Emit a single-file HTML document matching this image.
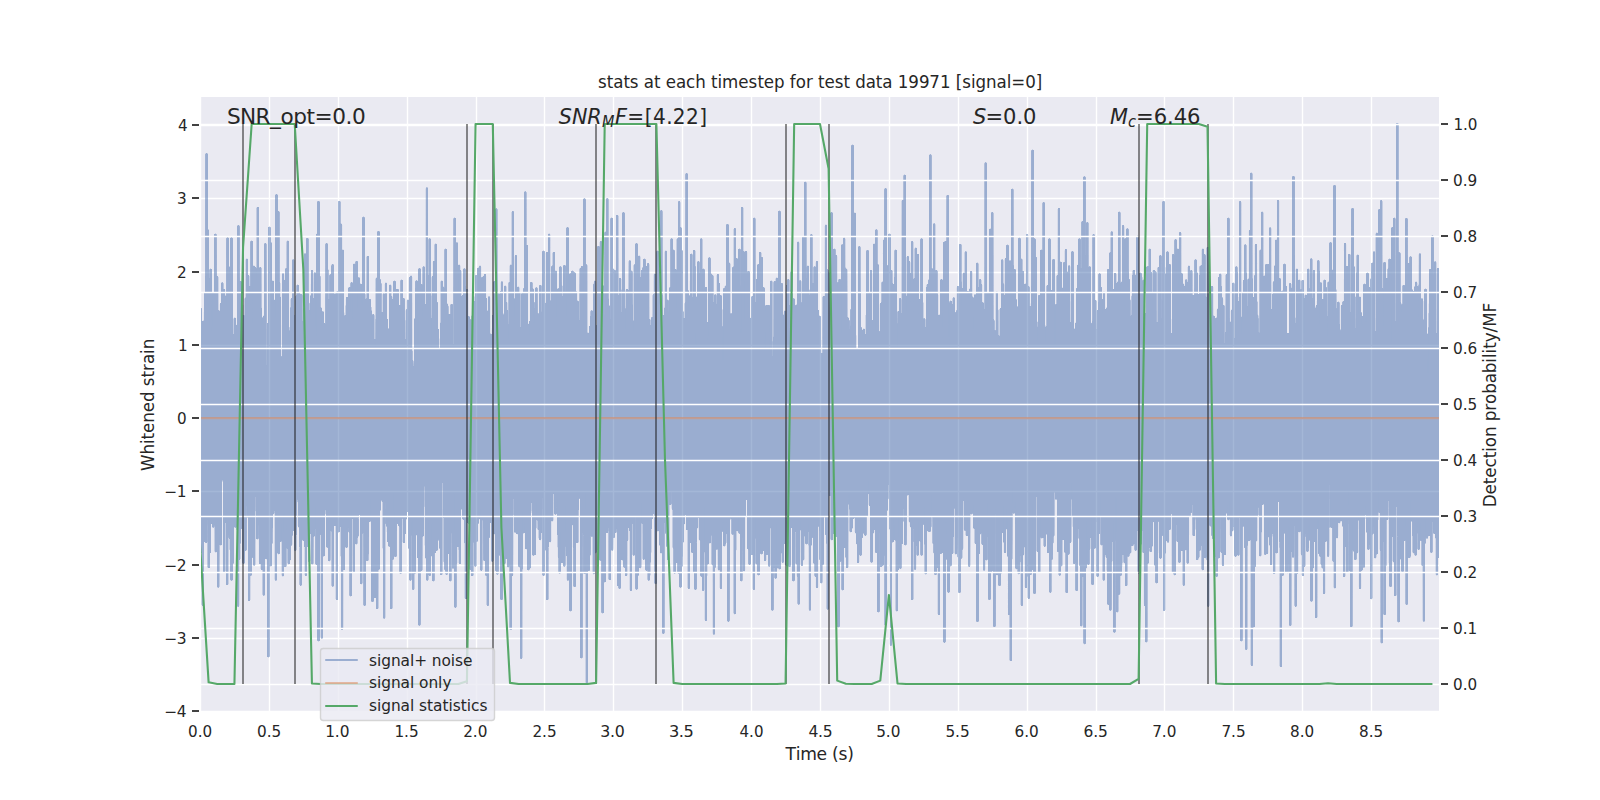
<!DOCTYPE html>
<html lang="en"><head><meta charset="utf-8"><title>stats at each timestep</title>
<style>html,body{margin:0;padding:0;background:#fff;overflow:hidden}svg{display:block}text{font-family:"DejaVu Sans", "Liberation Sans", sans-serif;fill:#262626;white-space:pre}</style></head><body>
<svg width="1600" height="800" viewBox="0 0 1600 800">
<rect width="1600" height="800" fill="#fff"/>
<rect x="200" y="96" width="1240" height="616" fill="#eaeaf2"/>
<clipPath id="c"><rect x="200" y="96" width="1240" height="616"/></clipPath>
<path d="M200.5 96V712M269.5 96V712M338.5 96V712M407.5 96V712M476.5 96V712M544.5 96V712M613.5 96V712M682.5 96V712M751.5 96V712M820.5 96V712M889.5 96V712M958.5 96V712M1027.5 96V712M1096.5 96V712M1164.5 96V712M1233.5 96V712M1302.5 96V712M1371.5 96V712M200 711.5H1440M200 638.5H1440M200 565.5H1440M200 491.5H1440M200 418.5H1440M200 345.5H1440M200 272.5H1440M200 198.5H1440M200 125.5H1440" stroke="#fff" stroke-width="1.389" fill="none" clip-path="url(#c)"/>
<g clip-path="url(#c)">
<filter id="f" filterUnits="userSpaceOnUse" x="198" y="94" width="1244" height="620" color-interpolation-filters="sRGB"><feComponentTransfer><feFuncA type="linear" slope="2" intercept="0"/></feComponentTransfer></filter><g opacity="0.5"><path filter="url(#f)" d="M200.00 415.7l.07-92.2l.06 9.4l.07 120.7l.07-14.8l.07 16l.06-76.3l.07 43.5l.07-55.9l.07 180.6l.06-237.6l.07 115.7l.07-54l.06 56.8l.07 16.9l.07-58.6l.07-25.2l.06 71.5l.07-3.5l.07-58.3l.07 108.3l.06 44.8l.07-132.9l.07 74.2l.06 86.9l.07-76.9l.07-24.2l.07 50.5l.06 20.9l.07-106.4l.07-59.9l.07 78.6l.06 35.5l.07-78.5l.07-23.1l.06 70.8l.07-58.8l.07-34.7l.07 87l.06 42.2l.07-80.8l.07 7l.07 203.8l.06-97.2l.07-43.4l.07 12.3l.06 62.4l.07-129.5l.07-27.9l.07 88.1l.06-147.8l.07 39.2l.07 13.5l.07 15.7l.06-38.5l.07 159.2l.07-135.4l.06 .8l.07 164.9l.07-147.1l.07 41.5l.06-71.8l.07 85l.07-29.3l.07-25.2l.06 84.9l.07-102.7l.07 49l.06-41.6l.07 70.6l.07-111.9l.07 33.5l.06 54.5l.07-56.4l.07-43.7l.07-37l.06 234.2l.07-171l.07 29.1l.06 38.9l.07 63.6l.07-157.6l.07 175.3l.06-127.3l.07-51.1l.07 201.9l.07-90.2l.06 70l.07-108.1l.07-88.4l.06-35.4l.07 264.5l.07-83.7l.07-89l.06-60.9l.07 80.6l.07 81.2l.07-72.6l.06-243.2l.07 278.1l.07 36.9l.06-78l.07 5.5l.07 27.9l.07 8.9l.06 74l.07-55.6l.07-117.8l.07 97.3l.06 86.9l.07-193.1l.07 56l.06-109.8l.07 142.4l.07 36.4l.07 68.6l.06-192.8l.07-95.5l.07 244.7l.07-12.1l.06-86.5l.07 99.3l.07-39l.06 5.5l.07-37.7l.07-62.8l.07 74.7l.06-62.4l.07 93.1l.07-52l.07 171.6l.06-47.9l.07-156.3l.07 96.5l.06-81.5l.07 2.7l.07-54.3l.07 35.5l.06-14.3l.07 78.6l.07 40.8l.07 2.3l.06-16.9l.07 44.6l.07-40.5l.06-31.7l.07-23.9l.07 41.1l.07 110.3l.06-128.9l.07-20.7l.07-59.8l.07 35.3l.06 85l.07 5.6l.07-190.3l.06 87.2l.07-74.8l.07-20.7l.07 205.1l.06-83.7l.07-5.1l.07-7l.07 1.2l.06 23.6l.07 2l.07 116.7l.06-93.1l.07 40.5l.07-60.8l.07 41.3l.06-75.5l.07-14l.07 35.5l.07-.5l.06 15.5l.07 37.7l.07-19.8l.06 23.1l.07-61.5l.07 26l.07-39.5l.06 133l.07-154.3l.07 114.9l.07-2l.06-37.4l.07 25.5l.07-59.5l.06 60.3l.07 34.4l.07-15.5l.07-150.2l.06 88.2l.07 84.4l.07-81.9l.07 108.9l.06-232.8l.07 230.6l.07-139.4l.06-4.5l.07 138.7l.07-121.8l.07-48.5l.06 36.9l.07 14.3l.07-47.8l.07 54.8l.06-12.2l.07 32.2l.07-52.8l.06 109.5l.07-120.6l.07 90.3l.07 40.7l.06-101.3l.07-92.4l.07 50.9l.07 102.8l.06-84.5l.07 80.2l.07-23l.06-14.8l.07 98.5l.07-105.6l.07 85l.06-23.2l.07 54.1l.07 2.9l.07-288.8l.06 125.8l.07-58.4l.07 117.7l.06-77.8l.07 94.4l.07 114.7l.07-143.5l.06-20.6l.07 60.8l.07-50.8l.07-18.8l.06 99.9l.07 42.7l.07-87.4l.06-.7l.07 9.8l.07-93.2l.07-51.4l.06 149.1l.07-77.6l.07-16.9l.07 15.9l.06-23.3l.07 100l.07-78.6l.06-89.4l.07 85l.07 99l.07-85.4l.06-45.6l.07 62.2l.07 64.9l.07-146.6l.06 194.4l.07-122l.07 36.1l.06 82l.07-168l.07 60.7l.07 105.4l.06-123.1l.07 210.3l.07-36l.07-84.5l.06-66.2l.07-25.9l.07 32.7l.06 8.4l.07-29.6l.07 47.4l.07-96.6l.06 71.6l.07-10.2l.07-17.1l.07 111.2l.06-24.2l.07-155.8l.07 83.1l.07 43l.06-43.5l.07 57.3l.07-52.9l.06 65.7l.07-65.5l.07 129l.07-202.4l.06 128.3l.07 74.3l.07-94.4l.07 10.2l.06-36.4l.07 90.3l.07-107.4l.06-10.7l.07 127.4l.07-112.5l.07 45.1l.06-35l.07 139.5l.07-46l.07-112.1l.06 34.7l.07-116.5l.07 162.8l.06-61.1l.07 31.6l.07 33.8l.07 9.6l.06-60.5l.07 .7l.07-61.8l.07 49.7l.06 61.7l.07-67.4l.07-41.8l.06-32l.07 58.1l.07 40.3l.07 51l.06-104.2l.07 55.4l.07-146.6l.07 69.7l.06 2.8l.07 49l.07 15.8l.06-26.5l.07-66.4l.07 52.9l.07 61.6l.06-113.1l.07 75.3l.07 18.8l.07 49.7l.06-15.7l.07 4.9l.07 5.3l.06-120.4l.07 31.4l.07 54.3l.07-87.7l.06 42.3l.07 4.6l.07 85.4l.07-43.3l.06-53.2l.07-75l.07-16.1l.06 28.9l.07 180l.07 72.1l.07-192.6l.06 37.8l.07-65.1l.07 75.8l.07-24.1l.06 119.7l.07-135.6l.07 62.2l.06-55.4l.07-7.6l.07 40.2l.07-30.2l.06 22.9l.07-53.7l.07 17.9l.07 73l.06 2.8l.07-162.2l.07 128.4l.06-76.1l.07 41.6l.07 66.7l.07 12.8l.06-60.5l.07-9.5l.07-24.9l.07 131l.06-46.8l.07-34.8l.07-118l.06 77.9l.07 2.9l.07 68.2l.07-67.6l.06 64.2l.07-59.6l.07-83.5l.07 84.3l.06-5.6l.07 4.3l.07 78.1l.06-90l.07 52.3l.07 151.4l.07-163.2l.06 13.1l.07-68.2l.07 55.4l.07 33.8l.06-216.3l.07 110.7l.07-19.6l.06 46.1l.07 49.9l.07 21.6l.07-9.8l.06-85.4l.07 58.2l.07 111l.07-100.5l.06 95.9l.07-110.1l.07 95.3l.06 4.2l.07-96.3l.07 13.7l.07 110.2l.06-167.7l.07-98.4l.07 253.6l.07-229.7l.06 174.5l.07-13.5l.07-21.9l.06 88.1l.07-191l.07 56.1l.07 86.6l.06-33l.07 86.2l.07-81.3l.07-89.4l.06 184.6l.07-89l.07-40.6l.06-62.7l.07-21l.07 125.7l.07 19.7l.06-82.8l.07 56.6l.07-3.7l.07-96.8l.06-42.4l.07 99.1l.07 31.9l.06-53.2l.07 171.2l.07-130.1l.07 72.5l.06-59.8l.07-64.1l.07 40.3l.07 23.3l.06-8.5l.07-54.6l.07-63.8l.06-66.1l.07 340.8l.07-211.6l.07 158l.06-172.8l.07-29.2l.07 78.4l.07 20.3l.06-59.2l.07 162l.07-113.7l.06-66.9l.07 159.9l.07-155.6l.07 98.2l.06 115.7l.07-137.4l.07 60.2l.07-89.8l.06 103.8l.07-154.7l.07 124.5l.06-76.2l.07 66.1l.07-18.8l.07-105.4l.06 67.9l.07 42.5l.07 59.6l.07-167.8l.06 29.7l.07 73.7l.07-39.6l.06 88.6l.07-1.1l.07-13.1l.07-82.1l.06 4l.07 72.5l.07-103.2l.07-3.3l.06 42.6l.07-60.3l.07 92.3l.06-12.1l.07-40.8l.07 35.3l.07-57.6l.06 142.4l.07-186.4l.07 153.6l.07-42.9l.06 84.4l.07-137.7l.07-46.8l.06 14.1l.07 16.5l.07 166.4l.07-54l.06-22.2l.07 32.9l.07-143.2l.07 65.3l.06 14.5l.07-35.6l.07 100.1l.06-3l.07-1.9l.07-95.9l.07 10.8l.06-16.4l.07-34.8l.07 169.5l.07-55.5l.06-49.3l.07 104.2l.07-56.9l.06-107.6l.07-6.1l.07 1.8l.07 71.9l.06 17.8l.07-89.9l.07 101l.07-49.4l.06-68.7l.07 117.8l.07 16.9l.06-41.8l.07-42.3l.07 8l.07 22.8l.06-27.9l.07 150l.07-51.5l.07-71.2l.06 76l.07 28.8l.07 94.1l.06-123.6l.07-51.5l.07 58.8l.07-87.5l.06-175.4l.07 202l.07-99l.07 68.6l.06 98l.07-60.1l.07 50.5l.06-121.7l.07 133.6l.07-172.2l.07 51.8l.06 180.9l.07-195.3l.07-53.5l.07 163.1l.06-123.6l.07 193.8l.07-142.7l.06 133.1l.07-149.2l.07 158l.07-112.8l.06-39.2l.07-38.1l.07 107.2l.07-99.3l.06 50.1l.07 30.2l.07-65.3l.06-71.5l.07 200.3l.07-125.2l.07 15.2l.06 123.1l.07-211.5l.07-23.3l.07 202l.06-187.2l.07 117l.07 15.3l.06-116l.07 88.8l.07-6.7l.07-83.1l.06 16l.07 27.4l.07 159.7l.07 11.9l.06-187.8l.07 142.9l.07-74.8l.06 85l.07-61.9l.07 76.2l.07-202.4l.06 184.3l.07-62.4l.07 4.6l.07-97l.06 182.7l.07-96.5l.07 12.3l.06-51.5l.07 4.1l.07 65.1l.07-49l.06 42.8l.07-58.7l.07 39.7l.07 38.5l.06-43.7l.07-27.2l.07 14.9l.06 44.6l.07-55.5l.07-80.5l.07 246.4l.06-23.3l.07-38.6l.07-74.7l.07 31.6l.06-66.8l.07-56.9l.07 99.6l.06 31.2l.07-8.5l.07-109.1l.07 58l.06 103.3l.07-168.2l.07 184.9l.07-186l.06-22.1l.07 154.2l.07 23.9l.06-135.9l.07 135l.07-136.2l.07 143.2l.06-139.4l.07 49.7l.07 36.6l.07 32.2l.06-78.8l.07 148.2l.07-112.5l.06 8.4l.07-74.8l.07 134.5l.07-206.5l.06 140.9l.07 57.5l.07-175.7l.07-19.2l.06 128.8l.07 48.9l.07-63.1l.06 49.1l.07-26.3l.07-130.2l.07 81.2l.06 17.2l.07-14l.07 28.1l.07-62.6l.06-2.6l.07-97.1l.07 151l.06-23l.07 1l.07 42.2l.07-155.5l.06 141.9l.07 77.1l.07-123.3l.07 109.5l.06-28l.07-57.3l.07 31.5l.06 44.3l.07-14.8l.07 3l.07-122.5l.06 131.4l.07-10.4l.07-181.7l.07 180.4l.06-142.2l.07 12.1l.07 102.2l.06 88.2l.07-130.3l.07-15.3l.07-20.5l.06 62.3l.07-78.8l.07-13l.07 170.2l.06-172.9l.07 281.4l.07-142.5l.06-17.2l.07-152.9l.07 62.2l.07 193l.06-130.3l.07 15.5l.07 2.5l.07 23.5l.06 65.6l.07-161.3l.07 125.4l.06-39.6l.07 16.1l.07 8.8l.07-102.4l.06 25l.07 73.6l.07 18.9l.07-33.1l.06-100l.07 223.9l.07-172.8l.06 39l.07-4.9l.07-33l.07 143.4l.06-240.5l.07 167l.07-15.2l.07-132.7l.06 77.6l.07 12.6l.07 43.5l.06 68l.07-121.5l.07-163.4l.07 238.9l.06-157.4l.07 173.2l.07-27.3l.07-86.3l.06 35.2l.07-48.1l.07 99.7l.06 20.2l.07 58.1l.07-46.1l.07-8.9l.06 24.4l.07-120.8l.07 67.7l.07 92.2l.06-23.6l.07-56.7l.07 29.3l.06-173.7l.07 5.2l.07 161.2l.07 22.5l.06-33l.07-148.2l.07 100.3l.07 34.6l.06-54.3l.07-85.8l.07 180.5l.06-70l.07 69.6l.07-247.5l.07 24.7l.06 60.3l.07 75.5l.07-55.2l.07 192.2l.06-165.5l.07 112.2l.07-.8l.06-43.2l.07-24.6l.07-64.4l.07-8.8l.06 30.5l.07 84l.07-112.7l.07 55.4l.06-90.5l.07 145.9l.07-26.1l.06-4.5l.07-182.9l.07 117.1l.07 46.1l.06-75l.07 26.5l.07 2.9l.07 67.8l.06-41l.07-8.7l.07 58.7l.06 33.2l.07-87.6l.07-57.7l.07 22.4l.06 10.6l.07-.7l.07 73.7l.07-56.7l.06-54.4l.07-63.7l.07 132.5l.06-14.7l.07-54.3l.07-44.7l.07 95.6l.06-3.5l.07 19l.07 90.2l.07-161.7l.06 95.4l.07 102l.07-109.6l.06 110.2l.07-50.3l.07-71.4l.07 65.3l.06-138.6l.07 176.7l.07-312l.07 170.8l.06-62.8l.07 37.4l.07 47.9l.07 10.6l.06 9.7l.07-83.4l.07 125l.06-82l.07 42.8l.07-23.3l.07 35l.06-166.9l.07 194.3l.07-63.4l.07-1.6l.06-23.1l.07 11l.07 1.8l.06-38.8l.07 173l.07-105.4l.07 86.5l.06-102l.07 98.5l.07-15.5l.07-62.6l.06-101.4l.07 56.9l.07 19.6l.06-77.1l.07 163.5l.07 79.8l.07-116.1l.06-10.2l.07-105.3l.07-62.9l.07 241.4l.06-127.8l.07-73.6l.07 50.5l.06 32.7l.07 88l.07-68l.07 38.6l.06-42.6l.07 104.9l.07-128.1l.07 40.5l.06-30.7l.07-2l.07 98.7l.06-165.3l.07 162.2l.07-132.4l.07 172.7l.06-136.8l.07 83l.07-60.1l.07 48.3l.06 106.6l.07-74.4l.07-82.3l.06-38.7l.07 145.7l.07 45.6l.07-87.2l.06-46l.07 29.4l.07 12.3l.07-115.6l.06-8l.07 15.6l.07 116.9l.06-70.6l.07 18.8l.07 85.9l.07-160.8l.06 55.3l.07 39.9l.07-132.4l.07 45.5l.06-6.4l.07-24l.07 33.6l.06 138l.07-61l.07-96.9l.07 247.2l.06-179.9l.07-25.1l.07-72.6l.07 9.9l.06 27.9l.07 75.5l.07-76.6l.06 26.9l.07 48l.07-105.7l.07 60l.06 87.1l.07-140.7l.07 105.9l.07-59.1l.06 147.4l.07-104.7l.07 64.5l.06 1.9l.07 65.3l.07-282.1l.07 159.6l.06-183.6l.07 96.1l.07 85.6l.07-44.2l.06 130.3l.07-108.2l.07 42.4l.06-63.6l.07 22.3l.07 109l.07 32.4l.06-58.2l.07-121.9l.07 21.7l.07 1.6l.06 168.6l.07-125.2l.07 28.1l.06-20.2l.07 18.8l.07-66.6l.07 36.6l.06 70.6l.07-21.2l.07-71.2l.07 4.9l.06 10.3l.07 13.5l.07-.4l.06-26.6l.07 77.7l.07-44.3l.07-61.5l.06-2.9l.07 50.4l.07-38.4l.07 23.7l.06 134.7l.07-132.7l.07 81l.06-136.9l.07 61.8l.07 117l.07-32.2l.06-183.2l.07 19.9l.07 312.6l.07-298.5l.06 50.4l.07-42.5l.07 61.6l.06 75.9l.07-13.5l.07 23.3l.07-113.9l.06-80.4l.07 103.4l.07-76.9l.07 109.9l.06 45.6l.07-179.9l.07-93l.06 83.7l.07 137.2l.07 49.9l.07 1l.06-65.8l.07-56.1l.07 5.1l.07 135.2l.06-113.4l.07 12.4l.07-5.1l.06 8l.07 12.4l.07-55.4l.07 32.5l.06-6.9l.07 63.8l.07-75.6l.07 35.9l.06 138.8l.07-180.9l.07-140.8l.06 110l.07 75.8l.07-4.6l.07-21.4l.06 15.5l.07 30.3l.07 93.7l.07-253l.06 238.1l.07-86.1l.07-69.3l.06 19.1l.07-13.1l.07-14l.07-34.4l.06 67.2l.07 73.3l.07 17.9l.07-86.3l.06 40.9l.07 12.8l.07-57.9l.06-81.5l.07 150.9l.07 .1l.07-99.9l.06 12.5l.07-98.3l.07 64.7l.07 55.5l.06 38.9l.07-37.9l.07 27.2l.06 82.8l.07-95.6l.07 12.8l.07 4l.06 13.7l.07-147.5l.07 69.1l.07-16.7l.06 107.5l.07 28.9l.07-51.5l.06-36.7l.07 41l.07-10.9l.07-80l.06 46.1l.07 89.3l.07-38.7l.07 16l.06-58.4l.07 93.8l.07-68.8l.06-60.6l.07 46.2l.07 65.6l.07-20.7l.06-51.6l.07-24.9l.07-24.7l.07 68.4l.06 81.6l.07-190.9l.07 78.5l.06-7.6l.07 7l.07 93.5l.07-50l.06-40.1l.07-54l.07 67.7l.07 165.5l.06-144.5l.07-41.3l.07-65.5l.06 40.5l.07 38.4l.07-88l.07 5.3l.06 28.2l.07-157.1l.07 163.8l.07 17.2l.06 78.3l.07-77.4l.07 11.7l.06 61.5l.07-23.8l.07 9.7l.07-34.3l.06 45.5l.07-67.4l.07 171.4l.07-113.9l.06 97.6l.07-83.6l.07-69.6l.06 34.5l.07 9.2l.07-12.5l.07-104.4l.06 186.2l.07-138.8l.07 167.1l.07-72.8l.06-43.9l.07 70.7l.07-73.6l.06-191.5l.07 288.9l.07-77.7l.07 20.8l.06 108.8l.07-122l.07 42.5l.07-148.7l.06 154.1l.07-179.2l.07 155.4l.06-172l.07 97.4l.07 5.9l.07-24.5l.06-6.7l.07-34.9l.07-22.9l.07 144.7l.06 62.9l.07-147.8l.07 87.8l.06-79.9l.07 26.6l.07 18.3l.07 32.4l.06 20.1l.07-24.8l.07-46.8l.07 149.9l.06-173.5l.07 152.2l.07-90.5l.06 33.2l.07-18.5l.07 47.2l.07 7.5l.06-64.2l.07 59.5l.07-64.8l.07 18.4l.06 16.7l.07-7.3l.07 36.3l.06-133.1l.07 76.4l.07-39.4l.07 126.2l.06-105l.07 84.6l.07-81.7l.07-27.5l.06-8.8l.07 3.5l.07 79.3l.06-110.2l.07 92.4l.07-55.5l.07-24.7l.06 70.2l.07 68.3l.07-132.1l.07 120.4l.06-15.7l.07 14.7l.07-135.3l.06 70l.07 145.1l.07-207.6l.07-93l.06 18.9l.07 164.8l.07-44.9l.07-30.1l.06-26.7l.07 59.8l.07 78.6l.06-128.7l.07 9.7l.07 135.4l.07-67l.06-44.3l.07 18.9l.07-36.6l.07-18.9l.06 17.7l.07 45.7l.07 85.9l.06-136.7l.07-54.7l.07-40l.07 139.9l.06 .1l.07-103.1l.07 .5l.07 76.5l.06-25.9l.07 102.6l.07-93.6l.06 98.1l.07-47.4l.07-1.5l.07 24.1l.06 114.3l.07-89.4l.07-80.7l.07 27.4l.06 23.2l.07-57.2l.07-18.1l.06-11.1l.07 115.2l.07-57.6l.07 24.7l.06 37.9l.07 43.1l.07-97.3l.07 53.9l.06-210.6l.07 156.7l.07 8.8l.06 12l.07-158.2l.07 196.1l.07-54.3l.06 42.3l.07-44.9l.07-6.1l.07-79l.06 175l.07-97.1l.07-113.9l.06 147.9l.07-23.1l.07 49.4l.07-142.7l.06 88.3l.07-89.1l.07 114.3l.07 96l.06-306l.07 172l.07-64.1l.06 6.2l.07 82.2l.07-46.6l.07 153l.06-202.7l.07 64.5l.07-62.5l.07 1.5l.06 94l.07-9.6l.07 50.5l.06 82.9l.07-134.6l.07-19.9l.07 86.2l.06-125.1l.07 42.7l.07-24.7l.07 85.1l.06 69.3l.07-177l.07 11.7l.06 50.1l.07 21.7l.07-10l.07-9.8l.06 25.9l.07 104.5l.07-194.5l.07 158.6l.06-80.9l.07-1.8l.07-39.5l.06 130.4l.07-196.3l.07 38.4l.07-8l.06-34.7l.07 143.7l.07-141.9l.07 63.1l.06-68.2l.07 10.4l.07 118.1l.06-31l.07-26.3l.07 145.6l.07-79.4l.06-2.1l.07-154.6l.07 155.5l.07-154.7l.06 108.4l.07 117.6l.07-32.6l.06-16.6l.07-110.7l.07-75.8l.07 155.9l.06 48.4l.07-158l.07 67.8l.07 90l.06-10.2l.07-48.1l.07-94.2l.06 87.1l.07-65.5l.07-69.5l.07 26.7l.06-11.7l.07 14.3l.07 197.6l.07-197l.06 62.2l.07 31.6l.07 66.8l.06-233.1l.07 234.9l.07-75.8l.07 80.3l.06-25l.07-13.9l.07-89.3l.07 66.9l.06-10.3l.07-102.5l.07 114.7l.06-64.1l.07 115.3l.07-96.5l.07 14.6l.06-3.9l.07 44.7l.07 39.2l.07-50.9l.06 11.8l.07-104.5l.07 8.7l.06 146.9l.07-127.4l.07 77.1l.07-65.3l.06 65.4l.07 68.9l.07-173.1l.07 39.2l.06 116.8l.07 46.3l.07-94.4l.06 45l.07-56.9l.07-68.5l.07-59l.06 127l.07-120.7l.07 14.9l.07 111.2l.06 85.8l.07-175.4l.07 16.9l.06 22l.07-79.1l.07 45l.07-63.1l.06 190.4l.07-86.4l.07 32.5l.07-140.4l.06 81.9l.07-62.9l.07 6.8l.07 158.5l.06-117.3l.07 87.3l.07-50.4l.06-27.2l.07 30.6l.07 79.9l.07-163.9l.06 69.7l.07 28.8l.07-50.4l.07 86.4l.06-168.5l.07 115.5l.07-9.8l.06 1.3l.07 87.6l.07 18.2l.07-96.9l.06-9.4l.07-69.2l.07 62.3l.07 107.2l.06-112.5l.07-20.9l.07-12.2l.06 46.5l.07 108.3l.07-165.9l.07 131.8l.06-90.9l.07 149.4l.07-162.7l.07 107.9l.06-130l.07-47.4l.07 41.4l.06 162.7l.07-15.6l.07-5.1l.07-106.7l.06 22.1l.07 13.1l.07-10.5l.07-18.8l.06-5l.07-72.2l.07 121.5l.06-18.1l.07 143.4l.07-37l.07-43.8l.06 34.3l.07-97.8l.07-57.1l.07 102.9l.06 3.5l.07 133.4l.07-176.2l.06 47.1l.07-67.6l.07 8.8l.07-3l.06-29.1l.07 51l.07-7.8l.07-112.4l.06 125.7l.07-58.7l.07 51.8l.06 35.7l.07-0l.07 25.3l.07-57.9l.06 42.9l.07-12.6l.07-114.3l.07 94.2l.06-88.7l.07 60.9l.07-41.5l.06 102.5l.07-52.7l.07-86l.07 38.7l.06-12.2l.07 53.6l.07-43.4l.07 140.6l.06-21.7l.07-89l.07-27.2l.06 85.6l.07-15.4l.07 12.1l.07-12l.06 70.5l.07 16.2l.07-94l.07 115.3l.06-52.7l.07-22.1l.07 27.3l.06-89.7l.07 47.7l.07-25.4l.07 64.8l.06-18.6l.07-87.2l.07 10.5l.07 57.7l.06-57.6l.07 12.3l.07 2l.06-99.8l.07 138.9l.07-57l.07-.1l.06 45.7l.07 64.8l.07-129.1l.07-117.6l.06 162.4l.07 1.9l.07 .2l.06 63.8l.07-82.5l.07 145.9l.07-123.5l.06 102.4l.07-79.6l.07-74.2l.07 67.9l.06 15.4l.07 120.1l.07-134.5l.06 9.7l.07-1l.07-132.5l.07 59l.06 12.8l.07 116.4l.07-125.9l.07 133.2l.06-123.3l.07 111.1l.07-213.5l.06 253.1l.07-202.2l.07 29.3l.07 179.4l.06-106.8l.07-117.2l.07 21.4l.07 194.5l.06-79.2l.07-219.4l.07 254.6l.06-26.6l.07-172.8l.07 118.9l.07 25l.06 7.6l.07-69.6l.07-1.8l.07 112.1l.06-166.1l.07 177.5l.07-56l.06-50.7l.07-87.6l.07 143.1l.07-44l.06-70.7l.07 47.2l.07-35l.07 6.2l.06 54.1l.07-25.8l.07-19.9l.06 65.8l.07-113.2l.07 249.4l.07-74.1l.06-164.5l.07 70.7l.07 74.5l.07-71.1l.06-49.3l.07 114.5l.07-92.3l.06 61.9l.07-.6l.07-3.1l.07-82.2l.06 155.3l.07-52.4l.07-71.7l.07 131l.06 25.1l.07-149.6l.07 39.5l.06 10.4l.07-20.2l.07 77.6l.07-53.4l.06 54.2l.07-38.2l.07 68.6l.07-70l.06-135.1l.07 104.9l.07-40.1l.06 75l.07-159.8l.07 114.8l.07 98.3l.06-140.5l.07 79.3l.07-67.9l.07 32.5l.06-8.6l.07 8.8l.07 72.5l.06 41.6l.07-256.1l.07 161l.07-29.3l.06 52.1l.07 108.5l.07-51.9l.07-185.9l.06 151.7l.07-28l.07 75.5l.06-65.4l.07-10.8l.07-10.4l.07-10.3l.06 38.8l.07-3.9l.07-39l.07-23.4l.06 32.3l.07-131.1l.07 107l.06 3.1l.07 56.9l.07-117.1l.07 142.7l.06 41.4l.07-44.7l.07-111l.07 122.8l.06-169.7l.07 91.7l.07 103.9l.06-89.6l.07-140l.07 184l.07 31.3l.06-126.8l.07-55.2l.07 20.1l.07 93.6l.06-35.9l.07-9.5l.07-59.1l.06-67.8l.07 157l.07-97.9l.07 114.3l.06-64.9l.07 105.9l.07-11.7l.07-82.1l.06 91.3l.07-124.1l.07 100l.06-43.7l.07 11.2l.07 17.4l.07-32.3l.06-66l.07 117.2l.07 40.5l.07-103.5l.06 33.1l.07 51.3l.07-83.4l.06 81l.07-55.7l.07-91.7l.07 226.9l.06-157.9l.07-13.8l.07 97.7l.07-103.1l.06 12l.07 48.8l.07-108.7l.06 175.4l.07-279.3l.07 204.5l.07 57.3l.06-61.2l.07 12l.07-81.3l.07 161l.06-90.5l.07 18.2l.07-141.2l.06 187.3l.07-151.5l.07 196l.07-146.1l.06 33.4l.07-35.7l.07 75.3l.07 86.9l.06-28.2l.07-329l.07 438.3l.06-156.5l.07-122.7l.07 114.5l.07-.3l.06 33l.07-166.3l.07-54.6l.07 203.7l.06-87.1l.07-47.9l.07-79.1l.06-.3l.07 137.8l.07-35.1l.07 148l.06-131.3l.07 14.7l.07-36.6l.07 90.9l.06-69.6l.07 71.2l.07-84.2l.06 31.2l.07 37.2l.07 72.3l.07-213.2l.06 37.5l.07 16l.07 107.5l.07-21.9l.06-140.6l.07 64.4l.07 111.1l.06-62.5l.07-6.7l.07 23.7l.07 51.8l.06-153.1l.07 46.3l.07 54.7l.07 95.7l.06-68.9l.07-40.4l.07-60.7l.06 86l.07-102.9l.07 67.3l.07 61.5l.06-38.1l.07 199.8l.07-109.9l.07-93.3l.06-33.7l.07-73.7l.07 97.6l.06 79.7l.07-98.8l.07-3.6l.07 40l.06-.2l.07 75.8l.07-138.4l.07 18.2l.06-84.6l.07 33.8l.07 16.2l.06-27.2l.07 107.3l.07 11.1l.07-27.5l.06 83.2l.07-76.9l.07 13l.07-69.6l.06 47.5l.07 131.7l.07-135l.06-96.5l.07 226.3l.07-75l.07-54.1l.06 93.4l.07-54.1l.07-42.2l.07 95.7l.06-112.4l.07-8l.07 116.6l.06-90.2l.07-73.3l.07 87.3l.07-42.6l.06-14.5l.07 61l.07-84.7l.07 41.5l.06 95.7l.07-105.4l.07-23.9l.06 4.1l.07 100.7l.07-76.8l.07-63.6l.06 79.3l.07-66.4l.07-8.2l.07 93l.06-48.6l.07 66.2l.07-94.7l.06 80.6l.07 31.9l.07-36.5l.07 3.2l.06-31.7l.07-5.8l.07 113.4l.07-35.8l.06-70.4l.07-150.5l.07 169.5l.06-47.1l.07-25l.07 83.1l.07-56.1l.06-42.6l.07 67.6l.07 146.8l.07-128.3l.06 3.1l.07-145l.07 276.3l.06-235.6l.07 118.3l.07-75.7l.07 85l.06-32.6l.07-66.7l.07 72.9l.07-67.6l.06 78.9l.07 22.8l.07-13.3l.06 19.7l.07-26.7l.07-103.2l.07 176.2l.06 34l.07-114.3l.07-118.6l.07 44.4l.06-19.3l.07 5l.07 137.7l.06-59.1l.07 12.1l.07 38.5l.07-84.8l.06 150.6l.07 35l.07-53.1l.07-105.7l.06-66.1l.07 139.4l.07-158l.06 205l.07-145.3l.07 29.1l.07-63.4l.06 186.2l.07-76.4l.07-5.2l.07-33.8l.06 14.7l.07-48.6l.07-37.8l.06 68.4l.07-47.3l.07-86.6l.07 209.7l.06 1.6l.07-108.4l.07-93.6l.07 117.2l.06-64.6l.07 97.4l.07-85.3l.06 107.2l.07-90.7l.07 19.3l.07-0l.06-68.5l.07 21.3l.07 115.8l.07-103.4l.06 179.7l.07-187.2l.07 80.4l.06-48.9l.07 1.4l.07 30.8l.07-53.7l.06-86.4l.07 97.2l.07 65.4l.07 10.5l.06-38.3l.07 12.6l.07 116.5l.06-265.4l.07 320.2l.07-57.8l.07-193.1l.06 77l.07-16.3l.07-35l.07 111.5l.06-43.9l.07-11.5l.07-23.8l.06-52.9l.07 122.5l.07-34.2l.07-46.3l.06 49.8l.07-4.7l.07-35.1l.07 87.1l.06-179.6l.07 174.5l.07-66.7l.06 25.5l.07 26.3l.07-86.5l.07-33.1l.06-30.9l.07 60.8l.07 71.8l.07-91.3l.06 160.6l.07-103.9l.07-32.8l.06-2.9l.07 119.5l.07 24.2l.07-219.7l.06 151.3l.07 79.2l.07-28.3l.07-87.1l.06-81l.07 82.4l.07-83.6l.07 67.9l.06-17l.07-35.5l.07 94.7l.06-46.6l.07 47.7l.07 17.4l.07-89.9l.06 102.9l.07-62.6l.07 60.7l.07-48.7l.06 30.6l.07-112.8l.07 70.8l.06 .3l.07-109.2l.07 75.4l.07 117.5l.06 108l.07-184.7l.07-30.8l.07-14.1l.06 26.3l.07 79.5l.07-182.6l.06 100.9l.07 39.5l.07 60l.07-107.1l.06 63.6l.07-2.8l.07-45.6l.07-.7l.06 72.4l.07-144.2l.07 157l.06 8.1l.07-99.1l.07 12.7l.07 4l.06 33.6l.07-31.5l.07 42.2l.07 75.6l.06-165.9l.07 121.8l.07-54.6l.06-66.7l.07 49.2l.07-91.2l.07 190.3l.06-45.3l.07-58.1l.07-88.2l.07-120.5l.06 314.6l.07-179.2l.07 143.8l.06-50.3l.07-75.1l.07 107.9l.07-15.1l.06-65.3l.07 48.2l.07-34.1l.07 85.8l.06-57.5l.07 67.7l.07 32.5l.06-230.5l.07 90.6l.07-32.2l.07 131.2l.06-65.3l.07 12.3l.07 84.6l.07-136.9l.06 88.3l.07-36.1l.07-207l.06 123.8l.07 16.3l.07 25.5l.07 90.6l.06-25.8l.07-122.5l.07 104.3l.07-37.9l.06 8.8l.07 87.7l.07-184l.06 244.2l.07-153.7l.07 21.7l.07 106.5l.06 98.6l.07-247.4l.07 32.6l.07 61.2l.06-88.9l.07-46.3l.07 62.2l.06-104.6l.07 60.2l.07 6.2l.07-43.2l.06 142.8l.07-213l.07 131.1l.07-.3l.06-68.9l.07 25.3l.07 67.5l.06-3.1l.07 34.3l.07 6.2l.07 6l.06-94.5l.07 95.6l.07-8.1l.07-35.9l.06 46.7l.07-19.8l.07 135.8l.06-178l.07 47.1l.07-34.8l.07-12.4l.06 154.5l.07-201.2l.07 60.2l.07-2l.06 136l.07-168.2l.07 14l.06 53.1l.07-42.9l.07-72.7l.07 112l.06 39.1l.07-156l.07 73.7l.07 30.5l.06 49.7l.07-73.5l.07 23.1l.06-30.7l.07 46.5l.07-42.8l.07 4.6l.06 56.1l.07-27.5l.07-39.5l.07-5l.06-13.8l.07-14l.07 37.4l.06-18.5l.07 62.6l.07-8.5l.07-90l.06 209.9l.07-163.1l.07-40.6l.07 195.7l.06-233l.07 227l.07-147.1l.06-87.4l.07 10l.07 166.9l.07 27.8l.06 9.9l.07-149.7l.07 77.4l.07-27.4l.06-17.4l.07-10.3l.07-8.6l.06 28.8l.07 120.5l.07-212.9l.07 124.5l.06-109l.07 128l.07-28.1l.07 22.7l.06-10.6l.07-24.1l.07 18l.06 57l.07-135.5l.07 99.5l.07-133.8l.06 104.2l.07 38.5l.07-79.5l.07-31.4l.06 126.1l.07-44.6l.07-119l.06 168.8l.07-10.3l.07-70.8l.07 96.1l.06-211.6l.07 243.2l.07-142.1l.07-19.5l.06 4.3l.07 14l.07 113l.06-132.9l.07-33.1l.07 128.8l.07-114.2l.06 91.1l.07-38.8l.07-12.3l.07 128.9l.06-205.4l.07 161.5l.07 120.4l.06-145.6l.07-66.2l.07 1.8l.07 28.6l.06-97l.07 78.7l.07 47.5l.07 56.9l.06-65.1l.07 .6l.07 40.4l.06-.8l.07-101.1l.07-31.5l.07-59.1l.06 52.3l.07 128.8l.07-67.1l.07 112.7l.06-145.7l.07 25.9l.07 67.4l.06-35.1l.07 10.1l.07 26.8l.07-136.2l.06 99.6l.07-65l.07-16.3l.07 62.4l.06 35.5l.07 78.5l.07-77.4l.06-53l.07 35.8l.07-49.4l.07 44.5l.06-44.7l.07 129.5l.07-81.1l.07-102.4l.06 167.2l.07-25.4l.07-141.9l.06 67.3l.07-46.2l.07 230.1l.07-165.9l.06 99l.07 8.1l.07-125.5l.07-121.8l.06 254.6l.07-27l.07-36.4l.06-31.8l.07 83.9l.07-178l.07 44.4l.06 66.1l.07 11.1l.07-48.3l.07 21.8l.06 24.5l.07-58.3l.07-63.6l.06 170.6l.07-41.6l.07-135.2l.07 142.8l.06-18.3l.07 64l.07-40.9l.07-100.9l.06 105.5l.07 33.8l.07-47.3l.06-167.6l.07 111.5l.07 51.7l.07-49.9l.06-20.2l.07 22.6l.07 134.9l.07-147.2l.06 35.9l.07-73.9l.07 153.7l.06-249.8l.07 190l.07 84.9l.07-212.6l.06 129.3l.07-62.2l.07 37.5l.07-87.8l.06-.8l.07-.7l.07 28.1l.06 163.3l.07 4.8l.07-131.9l.07 80.9l.06-99.4l.07 21l.07 110.8l.07-26.4l.06 6.9l.07-17.3l.07-47.7l.06-62.3l.07-46.1l.07 162l.07-28.5l.06-148.7l.07 46.4l.07 46.3l.07 79.6l.06 7.6l.07-81.9l.07 52.6l.06-181.2l.07 133.4l.07-13.5l.07 97.1l.06-3.8l.07-26.5l.07-2.9l.07-27.5l.06-42.7l.07 9.6l.07-53.8l.06 165.5l.07-109.8l.07-2.1l.07-94.8l.06 127l.07-38.3l.07 80.3l.07-87.1l.06 1.8l.07 72.1l.07-13.3l.06-28.6l.07-43l.07 121.6l.07-143l.06 85.5l.07-156.9l.07 30.8l.07 131.2l.06 15.6l.07 23.1l.07-111.5l.06 4.4l.07 69.7l.07-20.7l.07 155.7l.06-208.1l.07 101.5l.07-145.7l.07 65.8l.06 88.6l.07-136.9l.07 82.3l.06-67.4l.07 94l.07-64.4l.07 139.6l.06-140.4l.07 133.1l.07-118.3l.07 94.2l.06-78.3l.07-55.3l.07 16.7l.06-49.9l.07 159.5l.07-185.7l.07-2.6l.06 197.2l.07-28.5l.07-15.7l.07-38.5l.06-14.7l.07 90.9l.07-119.5l.06 59.6l.07 53.6l.07-138.2l.07-133.7l.06 120.6l.07 42.4l.07 59.9l.07-104.8l.06 25.8l.07 92.1l.07 77.7l.06-74.8l.07-81.7l.07 60l.07-140.5l.06 105.5l.07 4.7l.07-14.7l.07 90.3l.06-53.4l.07 177.7l.07-182.5l.06 121.1l.07-176.6l.07 82.9l.07-22.6l.06 95.2l.07-62.4l.07-96.3l.07 48.2l.06 43.2l.07-143.8l.07 111.6l.06 20.4l.07-104.9l.07 202l.07-160.4l.06 116.9l.07-22.9l.07-7.3l.07-57.1l.06 1.6l.07-13.8l.07 6.7l.06-83.7l.07-20.3l.07 68.8l.07-3.3l.06 79.4l.07 50.8l.07-118.6l.07 38.9l.06-57.6l.07 188.1l.07-103.5l.06 64.7l.07-91.7l.07-67l.07 166.5l.06-58.2l.07 102.8l.07-41.3l.07 35.5l.06-143.2l.07-13.3l.07 42.9l.06-110.9l.07-72.7l.07 161.8l.07 14.9l.06 3.8l.07 12.5l.07-123.4l.07 74.9l.06 40l.07-7.4l.07-54.2l.06 66.2l.07-50l.07 24.5l.07-97.5l.06 13.7l.07 180.6l.07-88.1l.07-61.1l.06 81.3l.07-88.3l.07 33.3l.06-18.1l.07 46l.07-25.7l.07-15.4l.06 139.7l.07-38.9l.07 7.2l.07-189.3l.06 96.7l.07-4.9l.07 14l.06 48.4l.07 15.9l.07-111.7l.07 85.6l.06-136.8l.07 96.9l.07 7.3l.07 21.8l.06-10.2l.07-7.6l.07-104.2l.06 4.9l.07 182.4l.07-98.6l.07-31.8l.06 112.8l.07-18.9l.07-12.3l.07 46.7l.06-124.3l.07 48.8l.07 3.2l.06-12.2l.07-11.8l.07 61.8l.07-57l.06-45.7l.07 94.6l.07-61l.07 46.6l.06-11.5l.07 52.6l.07-6.1l.06-88.9l.07-20.3l.07 19.9l.07 79.1l.06-69l.07 205.8l.07-249.7l.07 68.5l.06-21.6l.07-62.4l.07 110.7l.06-96.5l.07 97.7l.07-68.8l.07 66.4l.06-49.7l.07-80.2l.07 146.8l.07-2.9l.06-19.8l.07-43.9l.07-27.4l.06 88.6l.07 102.1l.07-96.9l.07 64.9l.06-71.6l.07-40.3l.07 68.1l.07-19.4l.06 82.8l.07-143l.07 64.8l.07-128.1l.06 2.5l.07 133.9l.07-34.8l.06-29.7l.07-49.1l.07 169.5l.07-111.7l.06 176.2l.07-175.1l.07-21.7l.07 15.3l.06 83.2l.07-149.5l.07 47.5l.06 7.3l.07-39.4l.07-4.2l.07 187.1l.06-165.9l.07 74.3l.07-51.9l.07 60.9l.06 10.6l.07-126.9l.07 66.9l.06 19.1l.07 .3l.07-25.8l.07 6.7l.06 10.3l.07 49.2l.07-44.4l.07-68.6l.06-43.1l.07 160.1l.07-200.4l.06 128.4l.07-27.7l.07 71.2l.07 4.9l.06-142.5l.07 294.8l.07-187.7l.07-88.1l.06-39.4l.07 224.6l.07-91.5l.06-12.5l.07-127.4l.07 186.3l.07-56.5l.06-29.6l.07-34.5l.07-20l.07 102.4l.06-82.1l.07 108.4l.07-87.2l.06 134.6l.07-111.4l.07-164.4l.07 336.7l.06-31.7l.07-123.9l.07-33.5l.07-7.9l.06-33.3l.07 202.6l.07-184.3l.06 66.8l.07-112.5l.07 79.2l.07 36.1l.06-25.1l.07-57.3l.07 52.1l.07 10.3l.06 103.4l.07-134.4l.07 31.4l.06-126.3l.07 129.2l.07 5l.07 37.6l.06-94.2l.07 64.6l.07 34.9l.07-161l.06-12.6l.07 155.9l.07 39.8l.06-150.3l.07 137l.07-127.2l.07 78.3l.06-76.8l.07 157.8l.07-88.2l.07-78.8l.06 45.6l.07 68.2l.07-55.8l.06-33.4l.07 67.5l.07 26.3l.07-23.4l.06-113.3l.07 148.3l.07-56.2l.07 59.6l.06-145.1l.07 99.1l.07-71.7l.06 20.6l.07 80.3l.07-89.6l.07-16.7l.06 145.9l.07-129.4l.07 58.8l.07 11.1l.06-65.5l.07 138.1l.07-125.6l.06 73.4l.07-94.9l.07 57.2l.07 78.9l.06-159.5l.07 92.2l.07 56l.07-75.8l.06 72.4l.07-95.5l.07 32.2l.06 21.5l.07-72.7l.07 136.4l.07-157.8l.06 208.8l.07-253.4l.07 100l.07 31.3l.06 33.1l.07 158.5l.07-198.9l.06 1.2l.07-85l.07 103l.07-13.9l.06-46.8l.07-45.2l.07 86l.07-21.8l.06 8l.07-49l.07-52.6l.06 170.5l.07-56.3l.07-6.1l.07-44.8l.06-64l.07 106.7l.07-16.1l.07-64.7l.06 167.2l.07-33.4l.07-22.4l.06-31.2l.07-16.7l.07 52.8l.07-160l.06 173.2l.07-35.4l.07-90.8l.07 22.1l.06 55.5l.07-27.5l.07-31.1l.06 58.6l.07-46.6l.07 110.4l.07-69.5l.06 120.8l.07-52.7l.07 17.7l.07-168.7l.06 120.9l.07-53.6l.07 86.3l.06-50.8l.07 5.5l.07 40.7l.07-120.9l.06 178.1l.07-161.5l.07 28.6l.07 73.8l.06-60.1l.07 112.5l.07-108.1l.06 121l.07-166.8l.07 79.4l.07 96l.06-38.8l.07 20.9l.07-91.9l.07-80.3l.06 88.7l.07 55.5l.07-23.9l.06-67.3l.07 3.2l.07-35.9l.07 13.1l.06 2l.07-56.7l.07 200l.07-100.4l.06-98.7l.07 199.9l.07 15.2l.06-51.5l.07-2.4l.07-66.9l.07 27.6l.06-2l.07-.9l.07-21.2l.07 47.8l.06-83.9l.07 23.5l.07 72l.06-201.8l.07 219.9l.07-142.7l.07 105.2l.06-78.7l.07-11.5l.07-24.2l.07-39.9l.06 160.6l.07-37.1l.07-51.8l.06 86.4l.07 38.6l.07-63.2l.07-150.5l.06 117.9l.07 193.1l.07-288.1l.07 86.4l.06 37l.07-27.7l.07-62.2l.06 58.1l.07 88.9l.07-141.2l.07 176.5l.06-69.5l.07-141.4l.07 71.1l.07 .3l.06 9.1l.07-65.9l.07 77.1l.06 135.1l.07-156.1l.07 78.7l.07 84.7l.06-258.6l.07 38.7l.07 107l.07-27.6l.06-11.4l.07-65.2l.07 126.3l.06 7.7l.07-17.9l.07-54.6l.07-8.9l.06 46.9l.07-82.2l.07 126.9l.07-67.3l.06 43.8l.07 22.4l.07-159l.06 110.1l.07 48.9l.07-74.5l.07 74.2l.06-113.8l.07-18.1l.07-12.5l.07 148.3l.06-64.9l.07-141.7l.07 146.5l.06-105.3l.07-18.6l.07 206.8l.07-184.4l.06 32.5l.07-8.8l.07-57.9l.07 87.5l.06 27.1l.07-37.9l.07 68.1l.06-59.9l.07 178.5l.07-266.2l.07 160.8l.06-76.2l.07 16.3l.07 14.7l.07-.5l.06 3.4l.07 121.2l.07-77.7l.06-123.8l.07 157.7l.07 2.3l.07-185.5l.06 24.6l.07-25.2l.07 112l.07-20l.06-35l.07 14.2l.07 46.3l.06 97.8l.07-51.8l.07 55.1l.07-218.9l.06 140.5l.07-15.5l.07-32.9l.07 19.1l.06-36.2l.07 81.9l.07 64l.06-232.5l.07 175l.07-16.7l.07 22.8l.06-17.4l.07-40.3l.07-51.5l.07 127.8l.06-95.1l.07 68.3l.07-132.7l.06 172.4l.07-94.3l.07-43.3l.07 146.8l.06-103.9l.07-2.5l.07 66.8l.07-41l.06-85.3l.07 52.7l.07 46.7l.06-14.5l.07-46.2l.07-57.9l.07 33.5l.06 4.6l.07-58.7l.07 219.2l.07-7.6l.06-131.2l.07-28.5l.07-7l.06 68.9l.07-56.1l.07 151.3l.07-51.6l.06-27.9l.07-69.7l.07 157.9l.07-128.9l.06-26.5l.07 38.9l.07-1l.06-76.5l.07 243l.07-153.7l.07 21.9l.06-69.1l.07 65.9l.07-66l.07 38.8l.06-72l.07 134.4l.07-60.5l.06-19.2l.07-4.5l.07-50.2l.07 51.6l.06-35.7l.07-73.8l.07 78.1l.07 132.9l.06 25.8l.07-146.5l.07 73.1l.06-46.6l.07 32.4l.07-103.4l.07 7.6l.06 162.4l.07-97.7l.07 40l.07 70.4l.06-136.5l.07 55.2l.07-40.9l.06-9.3l.07-52.5l.07 15.7l.07 105.5l.06 54l.07-169.5l.07 108.2l.07-24.3l.06 29.4l.07-33.2l.07-111.9l.06 140.8l.07-2.2l.07-33.8l.07-5.7l.06 103.6l.07 40.1l.07-83.1l.07-25.7l.06 40.2l.07 15.1l.07-4.2l.06-37.8l.07-19l.07 105.4l.07-75.3l.06-62.8l.07 33.5l.07 86l.07-69.7l.06-23.4l.07-54.8l.07 166.7l.06-160.7l.07 79.8l.07-46.2l.07-33.4l.06 108.2l.07-4.5l.07-48.1l.07-58.3l.06 88.3l.07 60.5l.07-49.8l.06-75l.07-53.9l.07 116l.07-12.6l.06-10.1l.07-3l.07 56.5l.07-35.1l.06-45.5l.07 7.8l.07 5.7l.06 71.3l.07-31.7l.07 11.4l.07-122.3l.06-27.9l.07 77l.07-86.8l.07 130.8l.06-.3l.07 69.8l.07-105.9l.06 47.4l.07-37.9l.07-27.3l.07 50.4l.06 60.9l.07-74.6l.07 1.8l.07-6.9l.06-44.8l.07 61.4l.07 3.6l.06-138.2l.07 45.5l.07 80.3l.07 58.2l.06-33.8l.07-57.2l.07-31.9l.07 102.8l.06-28l.07-27.6l.07 34.9l.06-30.2l.07 31.8l.07 47.2l.07-144.2l.06 61.5l.07-79.8l.07 123.1l.07-52.8l.06-27.3l.07 174.5l.07-38.5l.06-142.7l.07 44.7l.07 133.2l.07-75.6l.06 21.4l.07-39.2l.07-139.6l.07 145.7l.06-179l.07 156.7l.07 33l.06-158.3l.07 42.5l.07-29.8l.07 257.1l.06-235.6l.07-11.1l.07 202.2l.07-61.7l.06-87.2l.07 16.2l.07-35.6l.06 82.2l.07-109.4l.07-62.5l.07 98.4l.06-17.4l.07 22.5l.07-29.1l.07 49l.06 49.3l.07-48.3l.07 6.1l.06 112.5l.07-121.2l.07 14.2l.07-12.5l.06 52.1l.07-70.9l.07-9.8l.07 91.7l.06-70.9l.07-31.4l.07 2.5l.06 114.7l.07 7.2l.07-72l.07 74l.06-80.9l.07 65.1l.07-.8l.07-98.9l.06 77l.07-81.8l.07 60.1l.07 58.2l.06 103.1l.07-59.4l.07-48.5l.06-50.6l.07-5.6l.07 71.6l.07-27l.06 9.6l.07-68l.07 20.2l.07 75.8l.06-129.9l.07 92.3l.07-74.5l.06 89.8l.07-83.3l.07 28.8l.07-11.9l.06-30.7l.07 4.5l.07 18.8l.07 .2l.06 98.5l.07-82.5l.07 145.7l.06-163l.07 34l.07-6.1l.07-118l.06 56.9l.07-30.5l.07 97.3l.07-51.7l.06-49.6l.07 43.5l.07 11.8l.06 17l.07 70.2l.07-1.9l.07 36.8l.06-126.5l.07 46.5l.07 27.7l.07-70.9l.06 63.7l.07-111.3l.07-59.4l.06 100l.07 78.3l.07 55.3l.07-241.1l.06 107.3l.07 111.7l.07-154.6l.07 188.3l.06-84.3l.07-14l.07 8.4l.06 53.6l.07-132.1l.07 81.1l.07-53.8l.06 23.9l.07 112.5l.07-72.3l.07-52.3l.06-49.7l.07 87.9l.07-49.1l.06 48.6l.07-63.9l.07 120.4l.07-121.3l.06 84.2l.07-2.9l.07 97.9l.07-64.6l.06-115.7l.07 34.1l.07 56.7l.06-3l.07-79.5l.07 14l.07 60.4l.06-29l.07 14.8l.07-69.3l.07-12.1l.06-66.8l.07 58.2l.07 17.2l.06 35.2l.07 216.7l.07-137.8l.07-217.3l.06 129.7l.07-78.3l.07 152.7l.07-126.4l.06 43.6l.07 40.6l.07 33.3l.06 14.7l.07-185.5l.07 40l.07 76.5l.06-5.6l.07 63.9l.07 76.8l.07-3.1l.06-81.9l.07-31.5l.07 70.5l.06-136.4l.07 19.5l.07 24.6l.07 133.1l.06-107.1l.07-12.8l.07 85.4l.07 64.2l.06-284.6l.07 89.8l.07 69.9l.06-137.7l.07 33.8l.07 46l.07 15.5l.06-38.5l.07-47.5l.07 96.8l.07 20.9l.06-56.5l.07 79.5l.07-45.2l.06 34.4l.07-27l.07 11.6l.07-36.3l.06 16.2l.07 2.5l.07 14l.07-40.9l.06 67l.07-103.7l.07 185.4l.06-131.2l.07-17.3l.07 119.9l.07-58.5l.06-122.1l.07 101.3l.07 52.2l.07-154.1l.06 69l.07 16.6l.07-143.4l.06 7.9l.07 142.9l.07-9.6l.07 57.1l.06-43.5l.07-2.3l.07-54.5l.07 14l.06 91.7l.07-20.1l.07-129l.06 162.7l.07-118.8l.07-61l.07 67.5l.06 27.9l.07-77.4l.07 70.4l.07 25.2l.06 13.5l.07-94l.07 31.5l.06-59.1l.07 130.9l.07-1.6l.07 8.5l.06-49.8l.07 67.7l.07-112.6l.07 40.8l.06 91.9l.07-115.1l.07 173.9l.06-227.2l.07 104.4l.07-14.5l.07 39.8l.06-56.9l.07 161.1l.07 5.5l.07-25.3l.06-118.5l.07-44.3l.07 15.9l.06 41.9l.07 80.3l.07-144.5l.07-174.4l.06 231.2l.07 3.8l.07 27.5l.07 17.7l.06 110.7l.07-71.1l.07-107.2l.06 29.4l.07-82.9l.07 196.9l.07-207.7l.06 86.6l.07 6.3l.07 44.8l.07 .8l.06 47.1l.07-166.5l.07 77.4l.06-64.8l.07-7.7l.07 92.4l.07-18.2l.06 7.4l.07-95.5l.07 62.3l.07-2.6l.06-38.4l.07 55.4l.07-147.5l.06 206.8l.07-151.9l.07-10.5l.07 177.2l.06-139.5l.07 40.5l.07-41.1l.07 144.2l.06-100.6l.07 85.1l.07-45.1l.06-201.7l.07 188l.07 147.3l.07-59.3l.06-18.1l.07-150l.07 119.3l.07 59.8l.06-186.1l.07 60.3l.07-6.4l.06 79.4l.07-154.9l.07 107.8l.07 128.9l.06-58.2l.07-20.6l.07-47.4l.07-64.4l.06 103.8l.07-8.8l.07 61.6l.06-109.1l.07 42.5l.07-39.1l.07 89.4l.06-124.3l.07-30.2l.07 107.9l.07-110.2l.06 89.9l.07-40.3l.07 71.7l.06 4.1l.07 48.6l.07-119.6l.07 35.1l.06-2.2l.07 61l.07 2.7l.07-37.3l.06-76.7l.07 11.7l.07 68.5l.06-67.9l.07-101.9l.07 114.9l.07-133.3l.06 110.5l.07-62.4l.07 129.4l.07-118.5l.06 164.1l.07-99.3l.07 40.2l.06 138.9l.07-67.2l.07-173.7l.07 44.6l.06-56l.07 76.6l.07-24.5l.07 20.7l.06 57l.07-195.8l.07 187.5l.06 22.1l.07 13.5l.07-153.2l.07 55.3l.06 76.6l.07-16.1l.07-97.1l.07 41.3l.06 12.9l.07 99l.07-55.1l.06 48.8l.07 54.4l.07-195.6l.07 85.1l.06 5.9l.07 38.1l.07-119.5l.07-92.9l.06 104.9l.07-23.9l.07 151.3l.06-98.9l.07-2.9l.07-158.7l.07 173.2l.06 66.4l.07-61.1l.07 25.6l.07-130.8l.06 54.3l.07 22.6l.07 11.3l.06-46.3l.07 92.9l.07 29.8l.07 67l.06-213.4l.07 47.4l.07-9.5l.07 41.8l.06-112.7l.07 184l.07-152.1l.06 142.6l.07-27.3l.07 53.3l.07-90.9l.06 26.5l.07-50.2l.07 70.9l.07 56.2l.06-136.4l.07-50.1l.07 38.4l.06 55.1l.07-31.9l.07 146.4l.07-94.9l.06-104.1l.07 48.8l.07 91.5l.07-119l.06 68.8l.07-60.1l.07 148.9l.06-61.3l.07-59.3l.07 1.6l.07-17.5l.06 39.3l.07 13l.07-46.6l.07-27.3l.06 165.5l.07-83l.07-8.3l.06-25.1l.07-59.4l.07 162.7l.07-129.4l.06 157.4l.07-68l.07-16.1l.07-17.5l.06 23.8l.07-6.9l.07-12l.06-4.9l.07 109.2l.07-30.7l.07-66.9l.06-67l.07-33l.07 118.2l.07-56.1l.06 62.1l.07-67l.07-34.8l.06 37.6l.07 83l.07-66.4l.07-4.2l.06 94.7l.07-13.9l.07-166.8l.07 237.5l.06-166.1l.07 29.8l.07-114.2l.06 53.8l.07 102.2l.07-147.1l.07 126l.06-176.6l.07 23.1l.07 120.2l.07-59.1l.06 40.8l.07 75.1l.07-136l.06 44l.07-29.4l.07-15.2l.07-23.9l.06 26.1l.07 77.7l.07-12.3l.07-22.5l.06 36.8l.07 7.9l.07-144.9l.06 94.7l.07-97.1l.07 184l.07-50.3l.06 27.1l.07-3.1l.07-7l.07-11.5l.06 21.5l.07-154.4l.07 77.7l.06 98l.07-13.7l.07-89l.07 13.8l.06 79.5l.07-105.7l.07 162.4l.07-66.2l.06-151.6l.07 111l.07 22.1l.06-82.1l.07 78l.07 43.8l.07 7.5l.06 82.1l.07-52l.07-95.9l.07 43.7l.06-38.3l.07 9.4l.07-29.9l.06 134l.07-93.2l.07 2.1l.07-1.8l.06 39.7l.07 89.9l.07-319.5l.07 112.3l.06-89.9l.07 95.7l.07-62.9l.06 72.2l.07 67.2l.07-60.4l.07 114.6l.06-97.1l.07 24.2l.07 65.2l.07-156.9l.06 7.1l.07 45.2l.07 187.5l.06-269.2l.07 122.6l.07 84l.07-27.5l.06-113.7l.07 32.1l.07 118.3l.07-193.5l.06 76.2l.07-96.5l.07 33.4l.06 107.7l.07-36.6l.07 57.2l.07 7.3l.06-37.5l.07-55.1l.07-59.9l.07 155.8l.06-109.9l.07 45.6l.07 17.8l.06-93.2l.07 102.3l.07-119.7l.07 118l.06 40.6l.07-116.7l.07 153.5l.07-18.8l.06-69.1l.07-13.1l.07 18.7l.06 117.8l.07-44.2l.07-127.7l.07-1.9l.06 107l.07-88.2l.07 4.1l.07-56.1l.06 121l.07-151.6l.07 121.8l.06-120.9l.07 35.9l.07 133.8l.07-48.4l.06-41.3l.07-50.6l.07 166.1l.07-61.2l.06-77.7l.07 10l.07 197.7l.06-102.4l.07-91.9l.07 100.6l.07-87l.06-47.3l.07 62.4l.07-57.9l.07-22.3l.06 1.5l.07-18.4l.07 38.6l.06 176.1l.07-214.7l.07 74.3l.07-41.3l.06 76.1l.07 5.9l.07-.5l.07-127l.06 91.6l.07 33.1l.07 74.6l.07-121.3l.06 31.8l.07-10l.07-57.7l.06 18.3l.07 49.9l.07-14.7l.07 8.7l.06-43.5l.07 1.8l.07 38.2l.07 69.1l.06-117.9l.07-3.9l.07 136.7l.06-101.1l.07 53.8l.07 124.8l.07-148.4l.06-69l.07 116.6l.07-1.6l.07-119.7l.06 147.2l.07-11l.07-43.1l.06-65.3l.07-.3l.07 80.2l.07-15.2l.06-27.6l.07 33.2l.07 33l.07 15.9l.06-125.2l.07 64.6l.07 24.2l.06-82.7l.07 95.5l.07-52.3l.07-23.5l.06-174l.07 166.7l.07-.5l.07 41l.06-54.6l.07 63.5l.07 12.1l.06-4.1l.07-75.6l.07-37.3l.07 29.8l.06 246.7l.07-186.6l.07 12.6l.07-61.4l.06-1.3l.07-69.3l.07 7.9l.06 234.7l.07-180.5l.07 100.4l.07 99.7l.06-173.3l.07 39l.07 12.5l.07 64.9l.06-18.6l.07-55.5l.07 88.9l.06-96.1l.07-15.3l.07 18.5l.07-31.3l.06 25.5l.07-178.4l.07 245.5l.07-81l.06-57.6l.07 56.6l.07 45.3l.06-46.4l.07 137.1l.07-56.4l.07-42.8l.06-21.7l.07 18.2l.07-3.8l.07 63.6l.06-42.5l.07-57l.07 145l.06-44.3l.07-59.2l.07-126.9l.07 55.9l.06-61.6l.07 15.4l.07 124.2l.07-26.3l.06 76.7l.07-163l.07 30.9l.06 9.5l.07-4.9l.07 14l.07 17.5l.06-137.8l.07 68.2l.07 138.7l.07 17.8l.06-72.7l.07-80.3l.07 63.8l.06 30.9l.07-72l.07 50l.07 139.5l.06-62l.07 75.2l.07-129.7l.07 15.7l.06-61.5l.07-116l.07 187.8l.06-41.9l.07 27l.07-141.5l.07 167.8l.06-2.9l.07-69l.07 77.2l.07 31.3l.06-130.3l.07 45.3l.07 57.5l.06-9.5l.07-31.7l.07-77.6l.07-41.8l.06 189.2l.07-171.4l.07 77l.07-21.3l.06-42.3l.07 134.1l.07-126.3l.06 150l.07-58.2l.07 26.6l.07-175.8l.06 3.2l.07 61.1l.07 16.8l.07 72.4l.06-157.4l.07 23.8l.07 34.4l.06 70l.07 16.3l.07-18.3l.07-97.9l.06 157.4l.07-73.7l.07-105.1l.07 51.9l.06-59.5l.07 91.7l.07-1.1l.06-66l.07 50.4l.07 21.3l.07 58.9l.06 67.1l.07-205.5l.07 131.6l.07 22.6l.06-111.4l.07 121.1l.07 31.9l.06-54l.07-35.1l.07-23.2l.07-16.6l.06-31.6l.07 74.9l.07-153.6l.07 153.1l.06 36.4l.07-71.9l.07 3.4l.06-103.4l.07 86.4l.07 89.3l.07-89.2l.06 58.4l.07-126l.07 226.1l.07-71.8l.06-.2l.07-53.7l.07 17.2l.06 100.4l.07 18.8l.07-140.7l.07-88.3l.06 .8l.07 127.4l.07 156l.07-123.9l.06 39.8l.07-183.7l.07 37.8l.06 69.4l.07 2.7l.07-88.7l.07 40.9l.06 45.2l.07-42.5l.07 20l.07 27.3l.06 21.2l.07-112.7l.07 95.9l.06 48.5l.07-205l.07 38.4l.07 49.7l.06 40.4l.07-18l.07 112.9l.07-98.1l.06-20l.07 32.5l.07-43.5l.06 82.4l.07-64.8l.07 119.9l.07-105.5l.06 40.3l.07 49l.07-63.6l.07-28.6l.06 42.2l.07-104.1l.07 111.2l.06-111.7l.07 14.3l.07 91.2l.07-139.3l.06 191.1l.07-129.4l.07 32l.07-47.7l.06 159.3l.07-25.6l.07-24.4l.06-58l.07-4.2l.07 4.6l.07 19.1l.06 30.6l.07 45.3l.07-64.1l.07-65.3l.06-33.1l.07 103.9l.07-107.6l.06 165.5l.07-145.3l.07 127.2l.07-90.8l.06 81.9l.07 1l.07-29l.07-133.9l.06 142.2l.07-87.8l.07 194.1l.06-172.3l.07-.7l.07-21.5l.07 124.6l.06-84.8l.07-20.8l.07 63.5l.07-64l.06 93.7l.07-118.8l.07 97.1l.06-28.7l.07-73l.07-19.6l.07 112.1l.06 4.8l.07-110.7l.07 30.1l.07-53.9l.06 3.2l.07 160.5l.07-153.6l.06 56.4l.07-6.5l.07 188.9l.07-124.2l.06-20.3l.07 14.7l.07-1.4l.07-6.9l.06-120.6l.07 114.8l.07 33.6l.06-41.2l.07 27.8l.07-33.5l.07-19.5l.06-101.6l.07 177l.07-171.1l.07 131.5l.06 44.4l.07 37.8l.07-157.4l.06 162.1l.07-165.3l.07 38.5l.07 62.3l.06 6.7l.07-78.4l.07 22.5l.07-40l.06 50.7l.07 34.8l.07-71.5l.06 118.2l.07-139.2l.07 54l.07 79.8l.06-6.8l.07-47.2l.07 101.9l.07-219l.06 29l.07 140.7l.07-66.9l.06-123.5l.07 88.2l.07 96.9l.07 78l.06-35.3l.07-193.5l.07 59.8l.07 111.3l.06-138.1l.07 73.4l.07 20.8l.06-10l.07-3.9l.07-146.4l.07 179.5l.06-37.3l.07-119.2l.07-11.8l.07 170.8l.06-209.4l.07 66.2l.07 177.8l.06-226.3l.07 225.9l.07-148.5l.07 126.1l.06 43.3l.07-181.2l.07 29.5l.07 34.8l.06-18.9l.07 20.3l.07 10.7l.06 55.9l.07-113.9l.07 38.7l.07 18.3l.06 22.4l.07-19.8l.07 85.3l.07-83.4l.06 46.6l.07-156.5l.07 154.3l.06-34.6l.07-32.2l.07-53.8l.07 23.1l.06 30.7l.07-148l.07 150.3l.07-23.5l.06 12.8l.07 70.9l.07-127.9l.06 35.9l.07 121.5l.07-47.9l.07-100.5l.06 157.7l.07-87.4l.07-77.2l.07 80.8l.06-34.8l.07 64.6l.07-3.1l.06-.6l.07-18.2l.07-67.9l.07 38.4l.06-130.9l.07 98.1l.07 18.9l.07-132.2l.06 158.9l.07 48.2l.07-66.3l.06 85.9l.07-111l.07-58.6l.07 50.2l.06 72.3l.07-18.2l.07-43.4l.07-48.1l.06 109.1l.07 1.1l.07-103.8l.06 59.9l.07-8.7l.07-9.6l.07 86.8l.06 98.2l.07-225l.07 84.2l.07 2.8l.06-34.4l.07-6.2l.07 33.6l.06 49.1l.07-65.6l.07-129.6l.07 136.9l.06-23.9l.07 126.7l.07-167.7l.07 7l.06 3.5l.07 69.2l.07-38.1l.06 30.2l.07-63.4l.07 59.6l.07-55.2l.06 146.6l.07-69.6l.07-105.5l.07 93l.06-63.5l.07 71.1l.07-62.4l.06 113.2l.07-45.2l.07 40.5l.07-29.2l.06-2.2l.07 69.4l.07-34.2l.07-207.9l.06 158.4l.07-81.2l.07 150.9l.06-79.8l.07-45.1l.07 49l.07 23.6l.06-22.5l.07-14.9l.07-55.6l.07-25.8l.06 174.6l.07 51l.07-128.9l.06-13.5l.07-49.3l.07-24.2l.07 119.7l.06-188.5l.07 124.8l.07 140l.07-188.6l.06 47.2l.07-.7l.07 130l.06-89.1l.07-32l.07 21.7l.07-58.2l.06-39.4l.07-18.6l.07 18.9l.07 96.8l.06-129.1l.07 100.8l.07-41.1l.06 76l.07 79.6l.07 60.5l.07-169.8l.06 59.7l.07-46.4l.07-62.3l.07 167.6l.06 16.2l.07-139.9l.07-7.3l.06 44.1l.07 17.5l.07 73.8l.07-104.2l.06 45.5l.07-81.3l.07-35.7l.07 104.1l.06-67.3l.07 16l.07-35.6l.06-57.7l.07 60.4l.07 232.5l.07-241.8l.06 84.5l.07-29.1l.07-24.3l.07-61.8l.06-3.8l.07 120.2l.07 44.8l.06-72.7l.07 116.6l.07-82.2l.07 76.5l.06-194.5l.07 28.5l.07 126.6l.07-97.5l.06-27.9l.07-69.2l.07 62.9l.06 48.6l.07 15.1l.07-49.6l.07 22.2l.06 54.2l.07 51.3l.07-157.4l.07 122.8l.06-31.1l.07-74l.07 59.1l.06-82.2l.07 156l.07-130.3l.07 144.6l.06 12l.07-31.8l.07-80.3l.07 54.9l.06 48.8l.07-178.6l.07 149.7l.07-58.8l.06-25.4l.07 50.5l.07-58l.06-17.7l.07 49.8l.07-79l.07 113l.06 32.3l.07-87.4l.07 81.1l.07-93.1l.06 33.2l.07 25.3l.07-72.4l.06 3l.07 98.6l.07-39.4l.07-31.8l.06-24.2l.07 71.7l.07 41.7l.07-88.1l.06-38.6l.07 189.8l.07-38.5l.06-63.4l.07-67.4l.07 68.1l.07-98.3l.06 130.7l.07-83.3l.07 71.1l.07-90.8l.06-15.7l.07-45.3l.07 85.1l.06-67.7l.07 45.2l.07 60.6l.07-135.1l.06 143.8l.07-53.3l.07-60.5l.07 12l.06 117.3l.07-77.5l.07 58.8l.06-28.3l.07 94.4l.07-119.6l.07 122.9l.06-133.3l.07-.3l.07-32.8l.07-77.2l.06 250.8l.07-32l.07-13.6l.06-29.9l.07-100.4l.07 84.4l.07 17.3l.06 37.7l.07-34.6l.07-13.3l.07-23.2l.06 92.2l.07-94.1l.07-44.6l.06 15.2l.07 110.7l.07-143.6l.07 1.2l.06 35.1l.07 105.9l.07 17.1l.07-105.1l.06 74.2l.07 21.5l.07-154.9l.06-1.4l.07 18.8l.07-46.4l.07-117.8l.06 360.5l.07-231.4l.07 71.3l.07-22.4l.06-78.2l.07 78.2l.07-78.7l.06 105.5l.07 30.4l.07 22.6l.07-39.7l.06 107.5l.07-112.6l.07 4.1l.07 28.8l.06 118l.07-5.8l.07-198.4l.06 115.6l.07-162l.07 145.1l.07-74.7l.06 125.5l.07-56.1l.07-29.1l.07-55.7l.06-76.7l.07 50l.07 168l.06-101.4l.07 12.1l.07 32.6l.07-85.2l.06-68.9l.07 141.6l.07-109.5l.07-19.4l.06 171l.07-197.4l.07 6.1l.06 96.8l.07-98.4l.07 101.5l.07-62.7l.06 34.8l.07 105.4l.07-78.3l.07 29.9l.06 22.8l.07 45.8l.07-25.9l.06 31.5l.07-165l.07 215.6l.07-141.8l.06 48l.07 44.4l.07-137.5l.07 106l.06-139.6l.07 96.5l.07-35.6l.06 32.2l.07-54.3l.07-20.1l.07 96.7l.06-30.7l.07-123.1l.07 162.4l.07-165.9l.06 153.4l.07 11.4l.07 78.7l.06-58.5l.07 62.3l.07-81.5l.07-88l.06 229.1l.07-138.9l.07 29.5l.07-23.6l.06 53.4l.07-12.9l.07-223.9l.06 118.8l.07 80.5l.07-110.5l.07-57.7l.06 148.8l.07-36.9l.07 79.9l.07 23.7l.06-207.1l.07 200l.07-52.5l.06 61.7l.07-212l.07 25.2l.07 40.5l.06-69.4l.07 126.1l.07-42.8l.07-35.8l.06 76.9l.07-55.1l.07 49.8l.06-48.2l.07 20.4l.07 149.1l.07-144.1l.06 105.9l.07-40.3l.07 56.6l.07-172.6l.06 79.6l.07 4.1l.07-113.7l.06 37.3l.07 64.5l.07 129.8l.07-190.7l.06 64.4l.07 6.9l.07-76.5l.07 95l.06-38.1l.07-67.5l.07 22l.06 82.5l.07-143.9l.07 21.2l.07-51.6l.06 135.3l.07-18.8l.07-58.4l.07 42.7l.06 20.9l.07 16.7l.07 14l.06 24.2l.07-.5l.07-73.1l.07 49.5l.06 77l.07-102l.07-111.6l.07 20.7l.06 234.4l.07-81l.07-112.9l.06 48.5l.07 .6l.07 13.9l.07-13.1l.06 74.8l.07-153l.07 154.7l.07-62.6l.06-116.5l.07 31.2l.07 75.9l.06-0l.07 40.9l.07-6.8l.07-18.3l.06-109.3l.07 122.9l.07-69.4l.07 9.4l.06 1.6l.07 47.5l.07-70.4l.06 39.7l.07 4.3l.07 39.5l.07 116.3l.06-199.8l.07-1.9l.07 87.3l.07-22.7l.06-32.2l.07 87.2l.07-116.5l.06-.3l.07-9.8l.07-4.8l.07 195.3l.06-167.8l.07 66.6l.07-107.4l.07 3.7l.06 16.7l.07 62.2l.07 52.5l.06-54.7l.07 68.5l.07-139.4l.07 167.2l.06-233.1l.07 62.6l.07-21.6l.07 19.3l.06 44.3l.07 119l.07-49.8l.06-80.5l.07 52.9l.07-39.6l.07 72.7l.06 7.2l.07-75l.07-30.5l.07 50.8l.06 214.2l.07-99.1l.07-254.3l.06-9.8l.07 209.7l.07-9.8l.07-111.9l.06 114l.07-89.9l.07 17.5l.07 99.3l.06-89.7l.07 95.4l.07-73.2l.06-62.1l.07 67.5l.07 46.6l.07-33.9l.06-15.9l.07-35.8l.07 181.4l.07-30.8l.06-160.8l.07 42l.07-8.7l.06-13.8l.07 26.1l.07 20.1l.07-38.6l.06-38.3l.07 22.6l.07 22.1l.07-204.6l.06 189.8l.07 96l.07-33.4l.06-56.5l.07 2.2l.07-67.2l.07 14.6l.06 27.1l.07 55.9l.07-21.4l.07 15.8l.06-136l.07 87.6l.07 76.3l.06 13.4l.07-143.5l.07 145.2l.07-85.1l.06 12.9l.07-61l.07 133.5l.07-92.1l.06 17.9l.07-41l.07-38.7l.06 86.4l.07 22.4l.07-75.7l.07 157.1l.06-109.8l.07 80.4l.07 15.5l.07 25.5l.06 5.1l.07-170.7l.07-3l.06 52.8l.07-64.1l.07 69.1l.07 36l.06 40.2l.07-127l.07-3.3l.07-30.8l.06 141.7l.07-216l.07 253.7l.06-171.5l.07 30l.07 13.4l.07 36.3l.06 8.9l.07 14.9l.07-100.1l.07 118.4l.06-104.6l.07 41.4l.07 88.8l.06 30.3l.07-45.7l.07-51.2l.07 86.2l.06-131.9l.07-35.1l.07 40.8l.07 153.7l.06-130l.07-46.1l.07-42.7l.06 129.9l.07-63.4l.07 54.5l.07 25.4l.06-112.3l.07 106.2l.07-96.4l.07-60l.06 126.9l.07-137.4l.07 219.5l.06-153.8l.07 62.7l.07 5l.07-7.3l.06 57.7l.07-166.9l.07 217.8l.07-136.3l.06 83.3l.07-148.1l.07 102.6l.06-66.5l.07 62l.07 73.6l.07 72.7l.06-272.5l.07 107.5l.07 95.9l.07-58.1l.06-90l.07 171.5l.07-71.8l.06-14l.07 8.2l.07-114.4l.07 74.5l.06 83.9l.07-132.8l.07 32.3l.07-46.8l.06 142l.07 14.2l.07-121.4l.06 73.6l.07 119.2l.07-108.6l.07-84.1l.06 93.9l.07-139l.07 123.7l.07-28.2l.06 106l.07-57.1l.07 184.4l.06-279.9l.07 27.1l.07-60.6l.07 224.7l.06-152.7l.07 11.8l.07 62.5l.07-69.6l.06 48.8l.07-81.4l.07 53.7l.06-59.1l.07 98.3l.07-151.4l.07 60.6l.06-96.3l.07 133.3l.07 25.5l.07-44.3l.06 41.9l.07 39.8l.07-73.3l.06 5.6l.07 40.6l.07-18.5l.07 41.1l.06-77.9l.07 103.6l.07-211.6l.07 116l.06-63.6l.07 149.4l.07-107.7l.06 33.3l.07-77.8l.07 7.7l.07 174.9l.06-194.2l.07 184.1l.07-197.4l.07 97.1l.06 79.7l.07-132.7l.07 46.6l.06 71.8l.07-17.6l.07-84.8l.07 128.9l.06-35.5l.07-189.4l.07 182.9l.07-79.5l.06-5.3l.07-35.9l.07 5.7l.06 33.2l.07 62l.07-116.5l.07 137.9l.06-182.6l.07-98.1l.07 310.7l.07-124.8l.06-96.5l.07 182.9l.07-86l.06 100.9l.07-21l.07-48.9l.07-27.9l.06 11.2l.07 9.9l.07 85.6l.07 5l.06 54.4l.07-169.5l.07 26.1l.06 113.7l.07-221.4l.07 169.9l.07 49.6l.06-128.3l.07-15.4l.07-126.8l.07 279.3l.06-18.2l.07-70.1l.07 11.4l.06-25.5l.07 44.5l.07 59.6l.07-77.9l.06-81.1l.07-5.7l.07 101.5l.07-83.9l.06 8.8l.07 63.6l.07-10l.06-27.9l.07-89.6l.07 81.2l.07 74l.06-51.2l.07 27.9l.07-119.1l.07 231.7l.06-74.9l.07-135.2l.07 28.9l.06 27.4l.07-48.6l.07 143.9l.07-119l.06 105.8l.07 10.1l.07-125.3l.07 91.1l.06-30.9l.07-69.2l.07 117.5l.07-116.4l.06 83.7l.07-26.9l.07-81.5l.06 13.2l.07 143.3l.07 7.1l.07-96.5l.06 150.4l.07-153.2l.07-15.2l.07-14.8l.06 1.3l.07-62.2l.07 117.2l.06-118.5l.07 57.6l.07 .2l.07 48l.06-78.3l.07 120.3l.07-104.2l.07-27.5l.06 125.7l.07 19.9l.07-13.7l.06-50.5l.07-28.4l.07-36.2l.07-71.8l.06 19.2l.07 95l.07 46.6l.07 57.6l.06-143l.07 21.6l.07 56.2l.06-8.1l.07-3.4l.07 48l.07-52.3l.06-26.9l.07 31.7l.07 66.2l.07-78.2l.06-30.5l.07-93.1l.07 52.2l.06 32.9l.07 45.4l.07 90.7l.07-61.3l.06 63.3l.07-89.1l.07-82.4l.07 1.3l.06 10l.07 62.4l.07-68.4l.06 89l.07 118.8l.07-147.7l.07 7.1l.06 125.4l.07-85.4l.07-86.3l.07 82.5l.06-118.8l.07 130.8l.07-138.1l.06 76.5l.07 68.3l.07 73l.07-178.1l.06 6l.07 151.7l.07-75l.07-107.8l.06 130.6l.07-80.4l.07 165.3l.06-72.4l.07-116.2l.07 134.5l.07 18.3l.06-3.5l.07-71.5l.07 84.5l.07-103.2l.06-47.3l.07-68.7l.07 136.3l.06-142l.07 74.2l.07 55.2l.07-52.3l.06-70.4l.07 1.6l.07 52.2l.07 59.7l.06-65.1l.07 43.4l.07 3.4l.06-6.5l.07-109.6l.07 212.4l.07-79.1l.06 71.6l.07-138l.07-17.4l.07-17.1l.06 120.5l.07-28.8l.07-50.5l.06 41.3l.07-7.8l.07 6.7l.07-5.3l.06 27.2l.07-39.2l.07 134.1l.07-73.5l.06 64.1l.07-87.5l.07 45.4l.06-89.4l.07-50.9l.07 176.1l.07-32.5l.06-78.2l.07-78.3l.07 47l.07 23.3l.06 35.3l.07 27.1l.07-58.3l.06-8.2l.07 24l.07 52.3l.07 72l.06-53.1l.07-33.4l.07 55.3l.07-104.5l.06 122.9l.07-78.6l.07-46.1l.06-32.6l.07 40.2l.07-67.9l.07 126.7l.06 12.8l.07-131.1l.07 138.4l.07-50.8l.06 110.9l.07-200.8l.07 28.5l.06 103.3l.07 70l.07-140.6l.07-1.3l.06-62.9l.07-48.2l.07 113.7l.07 31.9l.06 1.3l.07 4.5l.07 75.1l.06-33.1l.07-56.9l.07 109.4l.07-23.2l.06-177.9l.07 132.9l.07-103.5l.07-20.9l.06 76.5l.07-57.7l.07 70.9l.06 48.8l.07-53.8l.07-12.6l.07-3.6l.06 3.4l.07 32.8l.07-102.3l.07 88.4l.06 15.2l.07-94.2l.07 135l.06-69.8l.07-103.7l.07 98.8l.07-95.1l.06 117.5l.07 17.6l.07-24.5l.07 27.9l.06-14.2l.07 5.6l.07-86.8l.06 28l.07 42.6l.07 37.7l.07-87l.06 48.6l.07-112.1l.07 180.4l.07-30.7l.06-215.3l.07 323l.07-84.6l.06-70.8l.07 47l.07-30.5l.07-31.2l.06-50l.07 47.9l.07-7.8l.07-72l.06-6.3l.07 123.5l.07 104.9l.06-59.1l.07-145.3l.07 108.2l.07 16.1l.06-18l.07-142.8l.07 107.2l.07 30.3l.06 22.6l.07 27.8l.07-4.3l.06-69.7l.07-13.3l.07 32.7l.07-96.8l.06 145l.07 63.8l.07-93.9l.07-63.8l.06-50.6l.07 79.4l.07 54.9l.06-44.4l.07 38.8l.07 .3l.07-61.3l.06-14.3l.07 66.7l.07-123l.07 82.2l.06-13.3l.07 44l.07-61.9l.06-2.9l.07-17.7l.07 103.4l.07-101.3l.06-117.5l.07 154.7l.07-45.3l.07-53.9l.06 137.4l.07 153.1l.07-194.4l.06-75.8l.07 108.6l.07 0l.07 108.9l.06-237.3l.07 23.6l.07 3.8l.07 136l.06-153.4l.07 13.2l.07-5.6l.06 103.3l.07 1.2l.07-107.8l.07 66.4l.06 49.7l.07 33.1l.07-76.9l.07 113.4l.06-135.3l.07 29.4l.07 119.7l.06-140.5l.07-52.5l.07 66.9l.07-161.9l.06 221.8l.07-101.1l.07 149.7l.07-64.8l.06-106.4l.07 100.2l.07 20.8l.06-97.2l.07-56.4l.07 85.1l.07 121l.06 19.9l.07-95.3l.07 109l.07-120.7l.06-69.6l.07 43l.07 33.2l.06-35.2l.07 60.7l.07-65.4l.07-7.6l.06-38.6l.07 65.6l.07-14.4l.07 85.6l.06 8.8l.07 14.9l.07-136.7l.06 26.1l.07-8.8l.07 18.7l.07-98l.06 35.2l.07 5.7l.07 118.8l.07-25l.06 68.8l.07-45.8l.07-51.9l.06 92.1l.07-41.1l.07-186.5l.07 154.7l.06 92.5l.07-17.9l.07-81.4l.07-65.3l.06 65.3l.07-67l.07-87.2l.06 226.2l.07-150.6l.07 104.2l.07-164l.06 173.5l.07-31.3l.07 28.2l.07-19.4l.06-51l.07 45.3l.07-96.4l.06 53.2l.07-81.2l.07 106.1l.07-85.8l.06 6.2l.07 94.4l.07-75.7l.07-95.6l.06 122.8l.07 52l.07-8.3l.06 6.3l.07-32.1l.07 99.4l.07-83.5l.06 46.3l.07-159.2l.07 63l.07-63.4l.06 49.6l.07 33.8l.07-107.9l.06 114.8l.07-17.9l.07 110.6l.07-72.3l.06-94.5l.07 65.5l.07 61.1l.07-26.9l.06 52.1l.07-4.5l.07 53.6l.06-178.5l.07 1.1l.07 84.3l.07 86.4l.06-77.4l.07-157.5l.07 233.9l.07-57.7l.06-2.4l.07-89l.07 145l.06-107.4l.07 76l.07-32.6l.07 60.1l.06-122l.07 71.4l.07 6.9l.07-118.2l.06 52.4l.07 29.1l.07-34.4l.06 23.6l.07-2.9l.07 19.2l.07-98l.06 107.2l.07-42.2l.07 58.5l.07-82.7l.06 81.7l.07 3.8l.07-70l.06-63.9l.07 35l.07 7.5l.07 49.5l.06-117.6l.07 132.3l.07 3l.07-51.9l.06-85.5l.07 69.8l.07 175.3l.06-123.6l.07 18.2l.07-66.9l.07 54.8l.06 129.8l.07-70.5l.07-40.8l.07 121.2l.06-134.8l.07 11.4l.07-95.1l.06 83.5l.07 35.7l.07-34.9l.07-10l.06-66.9l.07 135.4l.07 91.3l.07-98.9l.06-112.6l.07 50.5l.07 97.4l.06-14.2l.07-24.5l.07-24.7l.07-65.3l.06 66.8l.07-87.3l.07-92l.07 55.6l.06 58.7l.07 149.6l.07-114.4l.06 78.1l.07-70.6l.07-9.6l.07 5.7l.06 11l.07 97.1l.07-121.2l.07 89.9l.06-211.2l.07 79.1l.07-60.9l.06 139.2l.07 45.6l.07-94.3l.07 117.8l.06-28.8l.07-14.6l.07-43.3l.07 97.4l.06 38.2l.07-246.9l.07 139.5l.06-25.4l.07-55.1l.07 11l.07 77.3l.06-14.7l.07-145.8l.07 25l.07 36l.06-65l.07 251.2l.07-143l.06 29l.07 116.4l.07-160.3l.07-21.9l.06 27.3l.07 146.5l.07-112.8l.07-30.6l.06 32l.07-36.9l.07-15.6l.06-65.4l.07 84.1l.07 86l.07-85l.06-5l.07-35.1l.07 60.4l.07 17.8l.06-111l.07 239.7l.07-26.2l.06-273.1l.07 95l.07 13.8l.07 16.8l.06 1.5l.07 87.2l.07-47l.07 52.5l.06-154.7l.07 36.6l.07 28.1l.06-10.6l.07 37l.07 72.3l.07-202.8l.06 74.8l.07 58.4l.07-54.3l.07-48.3l.06 6.5l.07 36.7l.07-11.7l.06 74.9l.07-112.3l.07 28.6l.07-.1l.06 159.6l.07-137.8l.07-1.8l.07-9.4l.06 89l.07 101l.07-152.6l.06 87.3l.07-94.6l.07 34.1l.07-67.6l.06 101.2l.07 36l.07-112.8l.07 57.1l.06 64l.07 57.6l.07-192.2l.06 77l.07-8.4l.07-203.4l.07 259l.06-61.2l.07-34.6l.07-32.2l.07 109l.06 111.1l.07-246.6l.07 118.7l.07-31.5l.06 123.8l.07-70.3l.07 40.3l.06-146.5l.07 60.9l.07-126.7l.07 100.2l.06-43.8l.07 20.4l.07 22.2l.07 91.2l.06-195l.07 124.8l.07 125.3l.06-90.4l.07 37.6l.07-163.4l.07 9.3l.06-34.7l.07 100l.07 56.3l.07 88.9l.06-67.9l.07-96.9l.07-37.8l.06 110.4l.07-103.8l.07 121.8l.07-52.6l.06 56.7l.07-191l.07-14.7l.07 213.5l.06-12.2l.07 134.4l.07-246.1l.06 18.7l.07-16.8l.07-24.8l.07-16.8l.06-49.2l.07 121.6l.07 46.2l.07-29.2l.06 44.2l.07-111.1l.07 8.7l.06-45.9l.07 7.8l.07 141.1l.07 6.1l.06-73l.07-39.9l.07-4.7l.07 87.3l.06 89.7l.07-97.6l.07 30.5l.06-42.1l.07-87.2l.07 29.1l.07 133.5l.06-28.2l.07-190.4l.07 54l.07 87.2l.06-20.2l.07 125.6l.07-73.8l.06 22.2l.07-71.4l.07 34.4l.07 44.3l.06 15.5l.07-93.3l.07 62.6l.07-129.1l.06 71.5l.07 30.6l.07-84.8l.06 152.3l.07-152.4l.07 118.3l.07-104.4l.06 101.9l.07 19.4l.07 65.1l.07-136.2l.06-31.7l.07 136l.07-228.9l.06 129.4l.07 80.4l.07-222.7l.07 170.8l.06 141.6l.07-87.8l.07-103.1l.07 6.4l.06 14.1l.07-23.4l.07 106.6l.06-150.1l.07 35.1l.07 8.6l.07 64.2l.06 43l.07-109.8l.07-33.1l.07 49.1l.06 24.5l.07 23.2l.07-89.1l.06-53l.07 115.7l.07 50.4l.07-184.9l.06 235.4l.07-130.5l.07 26l.07-101.7l.06 104.3l.07 109.6l.07-37.9l.06-89.4l.07 9.5l.07 45.9l.07-7.3l.06 71.9l.07-5.8l.07-61.2l.07 4.3l.06-39.4l.07 74.5l.07-197l.06 238.1l.07-188.4l.07 22.7l.07-74.4l.06 14.2l.07 193.8l.07-120.3l.07-29.4l.06-13.1l.07 30.6l.07 77.6l.06-133.6l.07 101l.07 26.4l.07-48.5l.06 45.3l.07 15.8l.07-56.7l.07 4l.06-18.4l.07 17.1l.07 37.9l.06-57.3l.07 109.6l.07-119.4l.07 15.5l.06 13l.07-27.8l.07 48.2l.07-61.7l.06 9.1l.07-1.5l.07 39.7l.06-62.8l.07 76l.07-105l.07 100l.06-99.2l.07 73l.07 20.3l.07 69.6l.06-116.9l.07 19.4l.07 22.2l.06-25.7l.07 19.6l.07 74.9l.07 18.5l.06-129l.07 32.1l.07-95.7l.07-35.1l.06 84.5l.07 13.5l.07 5.2l.06 32.9l.07 53.1l.07 46.1l.07-146.3l.06 12.6l.07 39.5l.07 247l.07-313.9l.06 3.9l.07 51.6l.07 31.5l.06-60.6l.07-14.2l.07-74.2l.07-14l.06 109.8l.07 98.4l.07-30.4l.07-61.9l.06 59l.07-20.6l.07 32.2l.06-102.7l.07 91.6l.07 89l.07-129l.06-49l.07 60.9l.07-12.9l.07 61.1l.06 17.3l.07-67.3l.07 81.6l.06-49.5l.07 39.3l.07-53.8l.07-73.5l.06 59.4l.07-83.5l.07 55l.07 35.6l.06 55.5l.07-72l.07 90.5l.06-137.2l.07 150.4l.07 3.5l.07-38.3l.06 58.7l.07-127.2l.07 62.9l.07-270.6l.06 171.2l.07 202.2l.07-140.2l.06-43.1l.07-47.6l.07 63.5l.07 57.5l.06-114.7l.07 .5l.07 82l.07-100.2l.06 99.1l.07-112.8l.07 83l.06 87.8l.07-123.3l.07-43l.07 82.8l.06-84.5l.07 154.5l.07-174.3l.07 98.1l.06 6.1l.07-89.1l.07 123.7l.06-173.3l.07 218.3l.07-25.7l.07 34.7l.06-116.1l.07 43.7l.07-62.1l.07-21.1l.06 21.6l.07-20.3l.07 344l.06-260.5l.07 46.9l.07 17.5l.07-123.5l.06 91.6l.07 31.5l.07-9.2l.07-44.3l.06-31.8l.07 34.6l.07 55.6l.06-111.9l.07 39.6l.07 22.6l.07-96.9l.06 55.4l.07-65.8l.07 77.6l.07-33.7l.06 38.4l.07 33.9l.07-57.5l.06-42.2l.07 210.1l.07-82.3l.07 91.8l.06-82.6l.07 25.3l.07-57l.07-12.9l.06-89.1l.07-19.5l.07 145.4l.06-21.9l.07-79.6l.07 90.4l.07-16.9l.06 103.1l.07-183.8l.07 33.3l.07 87.1l.06 25.8l.07-18.4l.07-107l.06 65.8l.07 52.4l.07-63.7l.07-84.5l.06-28.1l.07-6.6l.07 85.9l.07-9.8l.06-2.7l.07-26.9l.07 5.3l.06 110.3l.07-16.2l.07-24.9l.07-77.6l.06 86.4l.07 18.3l.07-127.2l.07-31.2l.06 168.2l.07-54.7l.07-91.8l.06 110.3l.07-93.6l.07 165.8l.07-85l.06-62.2l.07-62.1l.07 41.2l.07 182.6l.06-6l.07-47.3l.07-120.4l.06 7.1l.07-25.3l.07 28l.07 89.7l.06-13.8l.07 36.5l.07-122.3l.07 148.6l.06-94l.07-12.9l.07-70l.06 141.7l.07-82.6l.07 99.4l.07-143.9l.06 98.6l.07-4l.07 45.8l.07-24.5l.06 2.9l.07-2.6l.07-125.6l.06 152.3l.07-87.3l.07-42.1l.07 139.7l.06 72l.07-185.8l.07 150.4l.07-62l.06-48.1l.07-26.3l.07 38.3l.06 30.9l.07-120.1l.07 54.4l.07-120.3l.06 200l.07-57.5l.07-3.3l.07-41.3l.06 21.8l.07 14.6l.07-136.9l.06 149.8l.07-42.5l.07 17.9l.07 56.4l.06-95.7l.07 184.3l.07-212.6l.07 190.6l.06-87.6l.07-29.3l.07 41.8l.06 2.1l.07-121.4l.07 132.1l.07-121.2l.06 62.2l.07 55.7l.07 10l.07-139.8l.06 22.3l.07-29.9l.07 22.3l.06-22.9l.07 136.1l.07 13.2l.07 16l.06-69.5l.07 11.6l.07-21.4l.07 92.8l.06-97l.07-44.7l.07 51.3l.06 95.2l.07-88l.07 23.6l.07-89.8l.06 75.8l.07-55.8l.07 71.8l.07-50.2l.06-45.4l.07 87.5l.07-40.9l.06 10.4l.07-31.6l.07 51.4l.07-41.9l.06 162.1l.07-112.3l.07-189.8l.07 126.5l.06 114.7l.07-11.5l.07-84l.06 2.7l.07-7.4l.07 28.2l.07-3.1l.06-65.1l.07 138l.07 31.6l.07-167.7l.06 124.3l.07-101.6l.07 95.6l.06 29.8l.07-185.3l.07 113l.07 93.7l.06-83.1l.07-3.2l.07 2.7l.07-26.1l.06 92.2l.07-60.6l.07-51.3l.06-11.7l.07 37.3l.07 62l.07 81.8l.06-240l.07 180.3l.07-46.5l.07-32.6l.06-30.2l.07 32.8l.07-180.9l.06 181.9l.07-147.4l.07 173.9l.07-14l.06-60.4l.07 167.1l.07-137l.07-34.9l.06 70.7l.07-148.2l.07 65.9l.06 18.2l.07-61l.07 146.6l.07-92.5l.06 83.9l.07 88.5l.07-82.5l.07-146.5l.06 58.7l.07-13.1l.07 46.8l.06-99.1l.07 84.2l.07 220.1l.07-325.8l.06 60.5l.07 56.4l.07 40.9l.07 102.5l.06-96.7l.07-19.9l.07 54.6l.06-160.6l.07 24l.07 91.8l.07-82.8l.06 65.9l.07-21.9l.07 52.5l.07-68.3l.06 139.3l.07-94.6l.07-82.4l.06 .7l.07 185l.07-47.3l.07-59.3l.06 49.1l.07-9.1l.07-29.2l.07-6.8l.06-87.9l.07 195.9l.07 42.5l.06-145.6l.07-56.6l.07 65.1l.07 76.9l.06 24.5l.07-208.7l.07 113.9l.07-15l.06-115.5l.07 113.4l.07-77.5l.06-38.3l.07 143.1l.07-183.1l.07-44.9l.06 201.5l.07-31.1l.07 65.4l.07-70.5l.06-40.4l.07-9.3l.07 54.4l.06 51.9l.07 8.9l.07 21.8l.07-47.4l.06-61.6l.07 82.8l.07 6.9l.07 26.3l.06-113.8l.07 58.1l.07 95.1l.06-190.6l.07 3.4l.07 72.7l.07 25.9l.06-22.1l.07 62.2l.07-284.2l.07 122.8l.06 25l.07 55.1l.07 .4l.07-20.9l.06-82l.07 174.7l.07-54.2l.06 46.7l.07 36.6l.07-107.8l.07-55.7l.06 152.8l.07-142.7l.07 22l.07 14.3l.06-62.4l.07 140.9l.07-158.5l.06 137.6l.07-62.9l.07 145.5l.07-175.5l.06 65.9l.07 41.4l.07 32.4l.07-85.7l.06-78.5l.07 55.6l.07 60.8l.06 29.6l.07 19.7l.07-50.1l.07 89l.06-85.5l.07 133.4l.07-155.4l.07 6.7l.06 31.1l.07-91.5l.07 5.7l.06-55l.07 147.8l.07 29l.07-35.2l.06 43.5l.07-82.1l.07 26.6l.07 30l.06-56.4l.07-73.5l.07 20.2l.06 93.7l.07-46.2l.07-19.4l.07-24.2l.06 70.2l.07 65.7l.07-113.7l.07 91.6l.06-41.8l.07-7l.07-82.8l.06-137.7l.07 190.5l.07 26.2l.07 23.3l.06-99.3l.07 93.3l.07-65.3l.07 13.2l.06 148.7l.07-14l.07-168.2l.06 33l.07 2.4l.07 54.5l.07-0l.06-14.2l.07 21.6l.07-41.1l.07-.2l.06 59.4l.07-161l.07 28.8l.06 98.4l.07-179.1l.07 172.9l.07-108.4l.06 3.1l.07 123.5l.07-18.7l.07 87.9l.06-80.8l.07-97l.07 96.3l.06 88.2l.07-228.1l.07-25.4l.07 31.5l.06 211.5l.07-163.9l.07 115.2l.07-48l.06-58.4l.07-57.9l.07 150.1l.06-19.3l.07 63.7l.07-88.5l.07 68.4l.06-216.3l.07 95.4l.07 53.8l.07-9.2l.06-11.2l.07-36.4l.07-40.7l.06 177.8l.07 31l.07-148.2l.07-12.5l.06-48.6l.07 42.4l.07-66.1l.07 85l.06 80.1l.07-114.4l.07 132.3l.06-14.4l.07-76.4l.07 46.3l.07-83l.06 91.3l.07-153.7l.07 198.9l.07-120.7l.06 81.7l.07-131.2l.07 138.9l.06-93.7l.07 33.6l.07 71.2l.07-167l.06 101.9l.07 7.5l.07-197.1l.07 66.8l.06 212.8l.07-71.2l.07 26.4l.06-81.3l.07 98.5l.07 59.8l.07-2.6l.06-152.9l.07 31.5l.07-45.4l.07 172l.06-48.9l.07 103.5l.07-226l.06 28.3l.07 43l.07 58.4l.07-83.6l.06 46.5l.07-95.5l.07-60l.07 113.8l.06 86.7l.07-86.8l.07-36.1l.06 6.8l.07 29.5l.07-4.1l.07 5.5l.06-11.8l.07 123.1l.07-55l.07-43.6l.06-16.7l.07 180.4l.07-200.2l.06 157.5l.07-59.8l.07-20.9l.07-56.1l.06 22.8l.07-152l.07 165.1l.07-9.6l.06 91.4l.07-235.9l.07 121.8l.06 13.7l.07 37.1l.07-51.2l.07 30.6l.06-109.5l.07 141.4l.07-26.2l.07 6.9l.06-78.4l.07 18l.07-45.7l.06 30.9l.07-2.1l.07 36.1l.07-59.5l.06 29.4l.07 10.6l.07 135.3l.07-79.4l.06 15.5l.07 79l.07-218.5l.06-9.9l.07 25.4l.07 36l.07-64l.06 221.3l.07-206.2l.07 230.7l.07-152.7l.06 2.9l.07-27.5l.07-9.8l.06-4.1l.07 98.8l.07-1.6l.07 10.9l.06-67.1l.07 33l.07 87.2l.07-178.2l.06 146.8l.07-45.4l.07 17.7l.06-256.8l.07 164.5l.07 88.9l.07 51.9l.06-54l.07 25.8l.07 35.4l.07-171.1l.06-16.8l.07 181.3l.07-210.1l.06-18.4l.07 224.6l.07-126l.07 48.7l.06-77.4l.07 205.9l.07-191.4l.07 69.1l.06-58.9l.07-28.5l.07 4.2l.06 61.1l.07-3.3l.07-42.3l.07-37.3l.06 26.5l.07 106.7l.07-103.4l.07 102.3l.06-106.5l.07 65.8l.07 .4l.06-21.9l.07 120.5l.07-88.8l.07 61l.06-148l.07-24l.07 189.5l.07 55.7l.06-173.2l.07 56.6l.07 25.1l.06 31l.07-67l.07 42.8l.07-52.4l.06-39.4l.07-89.8l.07 88.4l.07 108.7l.06-53.1l.07-162.6l.07 249.7l.06-118l.07-85.5l.07 63.4l.07 33.6l.06 46.8l.07-72.9l.07-25.4l.07 20.9l.06-56l.07 57.2l.07-76l.06 80.3l.07-53.7l.07 86.1l.07-144.3l.06 33.9l.07 39.3l.07 117.3l.07-82.3l.06 20.3l.07 18.2l.07-36.8l.06 71.9l.07-71.6l.07-35.4l.07-79.9l.06 125.1l.07 110.5l.07-133.8l.07 35.8l.06-74.3l.07-15.6l.07 71.4l.06 53l.07 3l.07-39.4l.07-16.2l.06-35.3l.07 33.3l.07-131.8l.07-15.3l.06 120.9l.07-38.5l.07 6.7l.06 111.2l.07 68l.07-22.3l.07-116.7l.06-15.6l.07 17.3l.07-31.2l.07-35.4l.06 144.1l.07-160.2l.07-15.6l.06 68.7l.07 226.7l.07-191.4l.07 115.9l.06-100l.07 58.7l.07-50.2l.07 15.6l.06-166.4l.07 204.1l.07-81.7l.06 49.9l.07-138.9l.07 36.4l.07 180.7l.06-37.9l.07-88.1l.07 62.7l.07-74.6l.06 25.7l.07 81l.07-54.5l.06-54.2l.07 38.4l.07-14.8l.07-16.4l.06 34.5l.07-102.6l.07 182.5l.07-121.2l.06 69.1l.07-64.5l.07-30.7l.06 14.4l.07-2.7l.07-6l.07 16l.06 53.3l.07-67.4l.07-16.7l.07 7.4l.06 40.9l.07 0l.07 158.4l.06-81.6l.07-43l.07-83.8l.07-13.7l.06 73.7l.07 88.5l.07-112.4l.07-34.9l.06 15.6l.07 102.1l.07 26.6l.06-12.4l.07 12.3l.07-145l.07 48.1l.06-129l.07 35.6l.07 44.7l.07 118.3l.06-94l.07 14.8l.07 129.6l.06-9.4l.07-37.1l.07-139.6l.07 115.5l.06 69.5l.07-102.8l.07-36l.07 126.9l.06-218.4l.07 186l.07-126.2l.06 26.1l.07 99.2l.07-43l.07-9.3l.06 26.2l.07-77.7l.07 48.8l.07-169l.06 344.2l.07-90.7l.07-64l.06-32.7l.07 24.2l.07-79.2l.07 76.8l.06 31.1l.07-152.1l.07 64.1l.07 61l.06-10.1l.07 28.8l.07-33.8l.06 73.1l.07-190.9l.07 37.2l.07 243.5l.06-89.8l.07-64l.07 42.1l.07 103.9l.06-197.8l.07 132l.07-131.2l.06 16l.07-74.7l.07 169.1l.07-190.3l.06 213.8l.07-191.1l.07 30.4l.07 44l.06 106.8l.07-189.4l.07 56.6l.06 173.1l.07-229.5l.07-47.9l.07 221.2l.06-110.2l.07 40.2l.07-12.7l.07 58.2l.06-102.6l.07 106.8l.07 65.9l.06-77.5l.07-65.2l.07 79.5l.07 77.6l.06-58.6l.07-34.3l.07-76.1l.07 198.1l.06-120.9l.07-80.8l.07 18.5l.06-24.3l.07-81.6l.07 198.9l.07-18l.06-118l.07-38.4l.07 89.4l.07 46.2l.06 58.7l.07-125.1l.07 18.9l.06 99.7l.07-38.6l.07 32.1l.07-109.9l.06 51.2l.07-97.6l.07-7.7l.07 71.6l.06-60.7l.07 10l.07-32l.06-37.3l.07 97.9l.07-85.8l.07 83.2l.06 75.3l.07-46.7l.07 43l.07 1.2l.06 16.7l.07-107.9l.07 89.8l.06 83.9l.07 .9l.07-112.1l.07 45.1l.06-147.4l.07 145.3l.07 55.5l.07-43.2l.06 32.5l.07-169.5l.07 137.5l.06-161.1l.07 66.1l.07-103.5l.07 150.5l.06-66.9l.07 206.9l.07-114.3l.07 19.4l.06-133.9l.07 90.4l.07-56.6l.06 98l.07 40.4l.07-85.1l.07-98.1l.06-59l.07 40l.07 134.2l.07 1.7l.06 0l.07-6.7l.07 30.4l.06-31.7l.07 40.3l.07 15.6l.07-180.3l.06 45.4l.07 83.3l.07 21.4l.07 67.9l.06-152.1l.07 89.1l.07-183.7l.06 258.9l.07-147l.07-61.7l.07 123.5l.06-181.3l.07 72.3l.07 1l.07 130.7l.06-133.5l.07 1.3l.07 61.6l.07-117.6l.06 103l.07 183.8l.07-184.2l.06-99.7l.07 166.5l.07-95.6l.07 97.9l.06-44.9l.07-32.2l.07 160.1l.07-106.7l.06 19.9l.07 91.3l.07-181.8l.06 25.1l.07 87.3l.07 84.2l.07-187l.06 76l.07-86.4l.07-28.3l.07 105l.06-7.9l.07-69.9l.07 72.5l.06-166.4l.07 106l.07 21l.07 63.4l.06-77.2l.07 64.2l.07 2.3l.07-85l.06 154.3l.07 66l.07-152.2l.06 82.8l.07-154.6l.07 114l.07 70.2l.06-94.1l.07 129.6l.07-255l.07 99l.06-50.3l.07 11.5l.07 22.5l.06 88.1l.07-129.5l.07 79.2l.07 30.7l.06 90.2l.07-235.2l.07 107.5l.07 12.5l.06 105.9l.07-201.3l.07 74.1l.06-79.4l.07 74.1l.07 57.6l.07-100.5l.06 151.4l.07-1.2l.07-105.1l.07-57.5l.06-26.2l.07 85.4l.07 1.8l.06-22.8l.07 29.1l.07 20.9l.07-70.8l.06 71l.07-20.4l.07-99.9l.07 69l.06 52.3l.07-85.9l.07 59.2l.06-57.8l.07 108.6l.07-6.2l.07 46.2l.06-179.9l.07-19.7l.07 15.1l.07 58.9l.06 11l.07 30.6l.07-57.7l.06 54.3l.07 58.3l.07-141.5l.07 7.1l.06 26.2l.07 41.6l.07 22.3l.07-33.4l.06-8.1l.07 96.7l.07-50l.06 42.3l.07-152.2l.07 172.9l.07-10.1l.06-22.6l.07-73.1l.07 76.3l.07-187.8l.06 71.6l.07 17.2l.07 18.5l.06-8.6l.07 112.9l.07-82.1l.07-12.2l.06 50.8l.07-37.6l.07-30.6l.07 59.5l.06-31.5l.07 79.7l.07-127.9l.06 88.4l.07-129.5l.07-59.2l.07 27l.06 149.7l.07-62.5l.07 48.3l.07-50.4l.06 90.3l.07 12.9l.07-67.2l.06 52.5l.07 107.6l.07-214.4l.07 27.2l.06 33.8l.07 1.6l.07-79.8l.07 62.6l.06 4.3l.07-130l.07 120.8l.06 28.1l.07-2.3l.07-105.1l.07 123.8l.06-1.3l.07-110l.07-4.8l.07-17.3l.06 158.5l.07-90.7l.07 70.4l.06-68.9l.07 139.6l.07-96.6l.07-89.4l.06 61.2l.07 44.7l.07-100.2l.07 44.2l.06-141.3l.07 167l.07 22.3l.06-103.2l.07 82.9l.07 109.6l.07-52.3l.06-173.8l.07 35.2l.07 22.9l.07 111.1l.06-93.2l.07-34.3l.07 65.1l.06-44.3l.07-28.5l.07 6.9l.07 40.6l.06-.8l.07 118.9l.07-65.9l.07-78.9l.06-61l.07 106.5l.07-63.3l.06 75.1l.07 68.5l.07-98.1l.07-1.8l.06 94.5l.07-1.9l.07-63.9l.07 39l.06-70.8l.07 130.1l.07-152.1l.06 100.2l.07-67.8l.07 133.7l.07-174.4l.06 51.3l.07-133.5l.07 263.7l.07 11.8l.06-178.2l.07-12.3l.07 187.4l.06-162.1l.07-28.1l.07-33.2l.07 89.2l.06 117.2l.07 27.6l.07-282.1l.07 117.9l.06-40.3l.07-136.4l.07 221.5l.06-1.6l.07 50.9l.07-45.2l.07 57.6l.06-48.8l.07-107l.07 76.2l.07 49l.06-168.3l.07 29.5l.07 88.3l.06 125.1l.07-212.7l.07-1.1l.07 132.9l.06-141.2l.07 158.1l.07-39.4l.07 13.5l.06-45l.07 22.4l.07-110l.06 124.8l.07-55.5l.07 27.9l.07-14l.06 75l.07-55.3l.07 213.8l.07-274.2l.06 140l.07-53.8l.07 42.3l.06-20l.07-5.3l.07 40.5l.07-118.3l.06-30.9l.07 52.7l.07 44.1l.07-44.6l.06 64.6l.07-126.3l.07 83.1l.06 77l.07-114.2l.07 23.6l.07-10.3l.06 33.1l.07 85.8l.07-99.6l.07 22.6l.06-17.7l.07-7.2l.07 31.8l.06 1.4l.07 50.9l.07-60l.07 62.1l.06-78l.07-119.6l.07 111.5l.07 55.2l.06 34.6l.07-130.8l.07 87.8l.06-215l.07 213.9l.07-11.4l.07-33l.06 110.2l.07-198.3l.07 163.9l.07-90.3l.06-21l.07 147.3l.07-149l.06-25.6l.07 94.3l.07-25.7l.07-9.2l.06-75.2l.07 143.8l.07-97.6l.07 1l.06 94.4l.07 61.5l.07-92.3l.06-27.2l.07-125.5l.07 82.2l.07-46l.06 129.5l.07-47l.07-23.2l.07 79.4l.06-78.9l.07 39.4l.07-35.6l.06 113.5l.07 44.9l.07-238.2l.07 92.3l.06 9.5l.07 22.2l.07-100l.07 39.4l.06 77.1l.07-72.2l.07 9.4l.06 34l.07-117.6l.07 46.8l.07 12.8l.06 96.6l.07-9l.07-125.7l.07 61.1l.06 54.8l.07-61l.07 20.1l.06 32l.07-17.8l.07-65.4l.07 29.5l.06 83.3l.07-8.5l.07-71.9l.07 93.4l.06-81.8l.07 17.6l.07 82.1l.06-215.4l.07 183.7l.07-57.3l.07-.4l.06-87.6l.07 87.1l.07 5.6l.07-30.8l.06 56.4l.07-150.2l.07 160.1l.06 19.8l.07-24.6l.07-119.1l.07 123.6l.06 13.6l.07-93.7l.07-41l.07 111.2l.06-205.3l.07 222.1l.07-142.9l.06 172l.07-55.5l.07 10.8l.07 34.9l.06-59l.07-52.1l.07 104.4l.07-190l.06 115.3l.07-6.1l.07 77.2l.06-49.1l.07-66.4l.07 131.8l.07-21.6l.06 9.6l.07 33.5l.07-134.9l.07 99.8l.06-170.4l.07 201.8l.07-63.3l.06-26.9l.07 72.2l.07-235.9l.07 212.2l.06-43.6l.07 64.5l.07-84.6l.07 147.9l.06-150.1l.07-124.8l.07 78.5l.06-2.3l.07 94.1l.07 4.9l.07-108.1l.06 101.6l.07-68l.07 112.9l.07-94.8l.06 14.6l.07 166.8l.07-146.4l.06-47.6l.07 1.8l.07 11.8l.07-63.6l.06 94l.07 48.7l.07-116.6l.07-84.5l.06 171.6l.07-129.4l.07 117.9l.06 91.3l.07-41.2l.07-2.4l.07-141.2l.06 73.9l.07 45.6l.07-47.2l.07-88.8l.06 103.2l.07 44.8l.07-75.2l.06 83.1l.07-93.3l.07-34l.07 56.2l.06 43l.07-38.4l.07 107.2l.07-208.4l.06 82.5l.07 25.7l.07 145.3l.06-96.8l.07 53.7l.07 30l.07-120.9l.06 1.6l.07 32.5l.07-121.1l.07 74.6l.06 70.9l.07-97.4l.07 117.2l.06-63.5l.07-203.2l.07 158l.07 39.4l.06 21.8l.07-59l.07-14.5l.07 15.9l.06-60.9l.07 151l.07-100.9l.06-89.1l.07 116.1l.07 155.1l.07-222.2l.06 82l.07-59.4l.07 26l.07-24l.06-42l.07 76.2l.07-206.6l.06 306.4l.07-28.5l.07-53.7l.07-119l.06 168.3l.07-33.5l.07-70.8l.07 83.2l.06 53.9l.07 46.8l.07-192.3l.06 133.9l.07-103.2l.07-11.6l.07 105.6l.06-100.8l.07 180.5l.07-141.5l.07-197.8l.06 358.2l.07-182l.07 1.2l.06-30.7l.07 88.1l.07 56.3l.07-14.4l.06-156.1l.07 142.3l.07-48.3l.07-49.2l.06 35.9l.07 58l.07 78.3l.06-213l.07-101.8l.07 281.1l.07-68.7l.06-48.3l.07 140.6l.07-146.8l.07 9.1l.06-31l.07 30.7l.07 70.4l.06 44.3l.07-99.8l.07 22.6l.07-143.3l.06 127.1l.07-48.6l.07 24.5l.07 126.4l.06-175l.07 85l.07 68.8l.06-129.6l.07-57.4l.07 94.5l.07 11.4l.06 25.1l.07-14.8l.07-107.4l.07 71.8l.06-23.6l.07-10.7l.07 21.8l.06 6.9l.07-28.2l.07 24.2l.07 119l.06-48.8l.07-101.7l.07 18.2l.07-2l.06 110.5l.07-98.6l.07-81.5l.06 97.7l.07-90.9l.07 33.6l.07 2.9l.06 104.1l.07-1.6l.07 1.6l.07-126.5l.06-7l.07 158.9l.07 17.1l.07-98l.06-82.1l.07 72l.07-25.2l.06 10.5l.07-6.5l.07 49.4l.07-42.7l.06-14.2l.07 55.1l.07-124l.07 190.1l.06-46.9l.07 31.7l.07-132.4l.06-1.3l.07 127.1l.07-57l.07 36.5l.06 63.3l.07-38.7l.07-78.8l.07-222.8l.06 296.4l.07-50.4l.07-57.2l.06-38.5l.07 71.3l.07 80.3l.07 52.7l.06-113.6l.07 26l.07 18.9l.07 7.3l.06-8.9l.07-49.4l.07-36.1l.06 103.1l.07-184.9l.07 30.2l.07 115.2l.06-38.3l.07-83.6l.07 167.7l.07-20.5l.06-.4l.07 27.5l.07-119l.06 64.2l.07-21.8l.07 1.1l.07 19.4l.06-118.2l.07 115.8l.07 47.6l.07 109.6l.06-121.9l.07-59.7l.07 1l.06-7.9l.07 48.4l.07-58.8l.07-1.4l.06 114.2l.07-110.3l.07-1.3l.07 47.5l.06-94.4l.07 71.6l.07 55.8l.06-116.9l.07-57.1l.07 201.5l.07-74.7l.06-65.6l.07 18.6l.07-28l.07-20.3l.06 213.5l.07-170.7l.07 159.5l.06-46.8l.07 9.8l.07-108l.07 147.6l.06-121.4l.07 111.3l.07-241.8l.07 174l.06-35.2l.07 80.1l.07-41.4l.06-203.7l.07 146.9l.07 97.1l.07-45.4l.06-23.7l.07-132.1l.07 129.2l.07-38.3l.06-42.6l.07 47.7l.07-19.7l.06 118.7l.07-5.5l.07-186.3l.07 89.6l.06 161.2l.07-97.5l.07-3.7l.07-8l.06-68.2l.07-2l.07-46.2l.06 223.6l.07-151.3l.07 34.5l.07 59.5l.06-132l.07 150.4l.07 4.1l.07-208.4l.06 83.8l.07-28.7l.07-34.2l.06 179.9l.07-183.9l.07 87.9l.07-30.2l.06-18.8l.07 11.7l.07 70.7l.07-25.5l.06-12.4l.07-155.7l.07 320.5l.06-252l.07 163.1l.07-216.2l.07 117.9l.06-88.6l.07 137.8l.07-136.4l.07 91.2l.06 .2l.07-2.8l.07-22l.06 157l.07 9.8l.07-118.9l.07 21.5l.06-72.9l.07 32.8l.07 195.6l.07-121.9l.06-73.6l.07 59.5l.07 46.4l.06 42.4l.07-116.6l.07 57.9l.07-27.1l.06 29.9l.07 9.6l.07-82.2l.07 2.8l.06 94.6l.07-77.8l.07-14.9l.06 104.2l.07-176.6l.07 138.8l.07-101.1l.06 69l.07 24.6l.07 34l.07-47.3l.06 64l.07-70.1l.07 33.5l.06-145.9l.07 45.7l.07 113.8l.07-206.9l.06 139.9l.07 75.9l.07-168.4l.07 30.5l.06 117.3l.07 8.2l.07-68.3l.06 36.3l.07-85.8l.07 18.7l.07 103.6l.06-7.4l.07-58.7l.07-176.8l.07 204.3l.06-87.2l.07 87.6l.07-76l.06 70.9l.07-69.8l.07 92.5l.07-10.1l.06-188.7l.07 71.2l.07 153.2l.07-170.8l.06 94.8l.07-107.1l.07 189.8l.06-87.4l.07 23.4l.07 19.2l.07 32.5l.06-218.9l.07 137.2l.07 21.8l.07 94.4l.06-195.9l.07-.4l.07 91.1l.06 84.9l.07-137.2l.07 40.2l.07 102.7l.06-250.2l.07 95.9l.07 121.3l.07-12.9l.06-112.6l.07-28.9l.07 42l.06 4.7l.07 63l.07-173.2l.07 165.5l.06-199.7l.07 152.6l.07 46.6l.07-74.9l.06-54.6l.07 266.3l.07-142.3l.06-103.6l.07-10.8l.07 132.2l.07-80.5l.06 34l.07 3l.07 54.7l.07-115.4l.06-13.8l.07-28.2l.07 93.8l.06 9l.07-70.2l.07 128.7l.07-32.9l.06-10.3l.07-130.7l.07 204.3l.07-64.1l.06-85.6l.07-29.2l.07 272.1l.06-244.8l.07-6.6l.07 126.2l.07-122.8l.06-71.8l.07 256.3l.07-94.7l.07 75.3l.06-13.1l.07-31.9l.07-16.2l.06-39.5l.07 82.5l.07-29.8l.07-31.1l.06-22l.07-22.2l.07-20.9l.07 38.2l.06-15.8l.07-15.5l.07 48.5l.06-14l.07 77l.07-80.5l.07-52.9l.06 115.5l.07-139l.07 129.1l.07-112.2l.06-42.3l.07 102.1l.07 43.6l.06-59.2l.07 59.7l.07 35.9l.07-137.5l.06 208.7l.07-198.9l.07 118.6l.07-120.5l.06 268.5l.07-331.5l.07 164.1l.06 123.1l.07-211l.07 50.6l.07 11.2l.06-8.2l.07 21.9l.07-43.4l.07 74.4l.06-132.5l.07 128.2l.07-94.9l.06-48.9l.07 110.3l.07-77.2l.07 99.7l.06 32.2l.07-13.7l.07-133.2l.07 2.5l.06 138.3l.07-136l.07 135.9l.06-76.7l.07-36.5l.07 194.8l.07-189.2l.06 65.2l.07 83.3l.07-152.4l.07 27.8l.06-4.8l.07 44.9l.07 28.1l.06 45.6l.07-76.6l.07 58.1l.07-42.8l.06-59.8l.07-27.7l.07 26.4l.07 9.9l.06 39.4l.07-86.1l.07-16.1l.06 117.7l.07-4l.07 38.4l.07-48.2l.06 9.9l.07-191.6l.07 65l.07 191.4l.06-150.3l.07 71.6l.07 105.9l.06-140.6l.07 65.9l.07-69.7l.07-15l.06 82.7l.07-151.4l.07 95.8l.07 64.9l.06 60l.07-201.9l.07 143.2l.06-61l.07-15.5l.07-42.7l.07 158.2l.06-129.6l.07 27l.07 113l.07-85.5l.06-165.2l.07 187.5l.07-89.5l.06 126.3l.07-117.2l.07 65.4l.07-54.8l.06 38.1l.07 33.1l.07-118.4l.07 91.9l.06 48.8l.07-26.8l.07-16.1l.06-28l.07-2.8l.07 67.6l.07-21.4l.06-182.2l.07 164.9l.07-114.1l.07 127.5l.06-56.1l.07 69.7l.07 95.9l.06-100.6l.07-100.9l.07-27.4l.07 13.8l.06 115.3l.07-15.8l.07 58.2l.07-100.3l.06-38.2l.07 41.9l.07 68.8l.06-81.1l.07 21.5l.07-27.2l.07 46.8l.06-27.3l.07 65.3l.07 156.5l.07-159.4l.06-63.5l.07 3.5l.07 79.4l.06-177.3l.07 22.6l.07-35.5l.07 129.3l.06 9.5l.07-41.5l.07-42.6l.07-41.3l.06 174.5l.07-56.1l.07 131.6l.06-125.1l.07-83.3l.07 15.8l.07-78.4l.06 78.4l.07 78.3l.07 23.6l.07-72.4l.06-98.6l.07 206.3l.07-21.2l.06-73.6l.07 29.7l.07-87.5l.07 96.3l.06-36.2l.07 4l.07-16.1l.07-81.7l.06 189l.07 31l.07-17.1l.06-85.1l.07-28.9l.07-29.8l.07 15.8l.06 13l.07 135.6l.07-79.6l.07-77.3l.06 118.4l.07-53.4l.07-3.6l.06-65.6l.07 97.2l.07 56.5l.07-92.7l.06-5.6l.07-79.6l.07 101.9l.07-26.3l.06 20.4l.07-2.6l.07-181.3l.06 195.3l.07-90l.07 98.3l.07-61.8l.06 114.6l.07-123.3l.07 71.6l.07-97.2l.06-56.9l.07 185.3l.07 25.3l.06-195.3l.07-57.2l.07 137.9l.07 147.4l.06-36l.07-178.6l.07-56.8l.07 133.5l.06 86.9l.07-177.6l.07 178.2l.06-48l.07-3.7l.07 .7l.07-83.9l.06 107.2l.07-79.3l.07-66.7l.07-.1l.06-18.3l.07 122.1l.07 94.7l.06-134.7l.07-2.7l.07-4.4l.07 47.9l.06-59.8l.07 105.1l.07-130.8l.07-67.7l.06 115.7l.07 5.7l.07-41.4l.06 211.4l.07-206.9l.07 26l.07 34.3l.06-131.4l.07 196.3l.07-164.5l.07 140.3l.06-94.4l.07 101.3l.07 42.1l.06-36.2l.07-4.4l.07-163.1l.07 137.2l.06 7.2l.07 19.6l.07-66.9l.07-.5l.06-41.2l.07 88.8l.07 36.1l.06-80.5l.07-66.1l.07 8.8l.07 122.6l.06-34.6l.07-58.8l.07 64.5l.07 58.2l.06-112.8l.07 38.8l.07-46l.06-39l.07 94.5l.07 45.5l.07-26.6l.06-108.3l.07 47.7l.07-47.9l.07 79.2l.06-76.6l.07 86l.07 11.1l.07-44.7l.06 8.2l.07 8.2l.07-20.6l.06-63.7l.07 114.7l.07 76l.07-152.6l.06-103.6l.07 58.6l.07 158.2l.07-116.1l.06-46.6l.07 15.3l.07-65.3l.06 68.5l.07 100.1l.07-80.7l.07 94.7l.06 10.9l.07 55.7l.07-30.5l.07-64.2l.06-103.2l.07-3.4l.07 33.7l.06-40.5l.07 115.4l.07 31.2l.07-194.1l.06 102l.07 57.7l.07-77.9l.07 105.6l.06-164.3l.07 204l.07-54.3l.06-25.1l.07 .9l.07 74.5l.07-149.3l.06 16.7l.07 39.8l.07-36.8l.07 73.5l.06-101.3l.07 109l.07 35l.06-63l.07 1.3l.07-39l.07-23l.06-72l.07-75.7l.07 308l.07-132.9l.06-72.6l.07 19.3l.07 80l.06 9.1l.07 3.5l.07-145.8l.07 139.5l.06-37.5l.07 109l.07-151.4l.07 74l.06 193.3l.07-181.8l.07-11.8l.06-27.8l.07-24.8l.07-3.6l.07 99.9l.06 45.9l.07 51.8l.07-109.9l.07-53.2l.06-141.4l.07 255.5l.07-148.1l.06 85.1l.07-118.9l.07 97.4l.07-21.2l.06 54.5l.07-3.3l.07-50.8l.07-37.9l.06-10.2l.07 100.1l.07 37.5l.06-116.8l.07-60.4l.07 124.5l.07-4.6l.06 1.1l.07-54.6l.07-43.6l.07 132.6l.06-96.1l.07-70.1l.07 58.7l.06 95.3l.07 47.7l.07-104.2l.07-92.1l.06 38.6l.07-45l.07 126.1l.07-30l.06 60.7l.07-95l.07 52l.06 41.3l.07-28.1l.07-66.4l.07-22.1l.06 6.5l.07 48.7l.07-47l.07 116.6l.06-139.5l.07 134.4l.07 17.1l.06-126.8l.07 90.9l.07-41.4l.07 35.6l.06-22.2l.07 107.5l.07-183.3l.07-22.8l.06 101.9l.07-103.8l.07 26.8l.06-23.6l.07-19.7l.07 188.3l.07-142.1l.06 66.7l.07-63l.07-88.5l.07-2.6l.06 28l.07 116.3l.07-31.9l.06 14.9l.07-1.8l.07-47.1l.07 132.3l.06 31.4l.07-177l.07 53.9l.07 55.5l.06 15.6l.07 56.1l.07-83.6l.06 100.7l.07-129.7l.07-9.8l.07 66.7l.06 154.8l.07-383.9l.07 169.3l.07 66.1l.06-6.3l.07 20.4l.07 71.1l.06-136.6l.07-49.9l.07 156.9l.07-130.5l.06 42.4l.07-24.9l.07-42l.07-14l.06 111.9l.07-99.4l.07 81.4l.06 3l.07-173.9l.07 139.6l.07 25.1l.06-116.1l.07 62.1l.07 71.2l.07-54l.06-8l.07-134.9l.07 131.7l.06 15.7l.07 76.4l.07 7.5l.07-76.4l.06-147.3l.07 234.3l.07-105.3l.07 125.3l.06 9l.07-86.8l.07-90.1l.06 44.8l.07-.1l.07-65.8l.07 51.4l.06 75.2l.07 25.7l.07-45.2l.07-46l.06 47.5l.07-6.2l.07 22.6l.06 17.1l.07 27.6l.07-28.3l.07-180.3l.06 49.2l.07-21.5l.07 88.6l.07 16.8l.06-65.6l.07 83.3l.07-106.3l.06 70.6l.07-46.3l.07 109.9l.07-181.7l.06 112.8l.07-32.2l.07 98.8l.07-219.8l.06 118.6l.07 164l.07-202l.06 128.6l.07-109.1l.07 113.4l.07-42.6l.06-9.2l.07-58.2l.07 124l.07-98.5l.06 18l.07-33.5l.07 112.7l.06-58.8l.07 51.7l.07-24.8l.07-101.6l.06-8.1l.07 148.2l.07-53.8l.07-6.2l.06 61.2l.07-38.9l.07 47.6l.06-113.8l.07 105.5l.07 96.1l.07-25.3l.06-177.1l.07-2.4l.07 88l.07 73.3l.06-131l.07 98l.07-161.6l.06 68.5l.07 8.8l.07-8.8l.07-202.7l.06 212.1l.07-39.8l.07 12.8l.07 61.8l.06-113.2l.07-34.4l.07 34.2l.06 68.9l.07-39l.07 121.7l.07-16.9l.06 4.1l.07-20.7l.07-98.5l.07 115.3l.06-12.8l.07 60.7l.07-56.8l.06 67.7l.07-177.6l.07 72.9l.07-75.3l.06-30.3l.07 62.2l.07-134.5l.07 157.8l.06 39l.07 120.9l.07-163.3l.06 61.1l.07 20.4l.07-28.7l.07-38.4l.06-49.7l.07 116.7l.07 18.5l.07-161.8l.06 36.3l.07-16.9l.07 74.1l.06 77.3l.07-187.9l.07 5.6l.07 127.6l.06-70.2l.07-47.1l.07 12.2l.07-20.3l.06 44.9l.07 53.1l.07 16.5l.06-27.5l.07 41.5l.07-89.9l.07 34l.06 25.9l.07 53.5l.07-235.5l.07 188.6l.06-50.3l.07 92.3l.07-112.3l.06 54.7l.07-140.6l.07 185.3l.07-189.3l.06 84.4l.07 53l.07-143.8l.07 62.1l.06 162.4l.07-45.7l.07-109.4l.06 48.6l.07-39.6l.07 30.6l.07-71.6l.06 117.6l.07 56.5l.07-27l.07-44.2l.06 60.7l.07-60.4l.07 12.5l.06 7.2l.07-18.7l.07 24l.07-95.3l.06 61.5l.07-46.2l.07 152.7l.07-101.4l.06 34.9l.07 102.1l.07-276.2l.06 232.4l.07-148l.07 4.8l.07-28l.06 110.4l.07 80.6l.07-154.7l.07 50.7l.06-52.8l.07 56.3l.07-100.3l.06 53.4l.07 60l.07-26.7l.07 43.4l.06 110.3l.07-159.8l.07-25.1l.07-6.3l.06 76.6l.07-36.2l.07 57.2l.06-29.5l.07-74.8l.07 82.1l.07-85.8l.06 66.8l.07-23.1l.07 28.4l.07-101.6l.06 71.4l.07 62.3l.07-62.9l.06-73.2l.07 63.7l.07 91.5l.07-20.7l.06 19.3l.07-165.4l.07 81.7l.07-47.8l.06 3.6l.07 79.8l.07-98.7l.06 84.3l.07-30.1l.07 162.4l.07-132.6l.06 22.2l.07 24.8l.07-66.9l.07 102.3l.06-69l.07 63.7l.07-65.9l.06 32.9l.07-168l.07 107.2l.07-28.2l.06 62.2l.07 9.6l.07 50.8l.07-171.8l.06 24.2l.07 58.6l.07-2.9l.06 4.3l.07 11.2l.07-48.7l.07 4l.06 51.5l.07 39.9l.07-162.4l.07 141.6l.06 20.6l.07-137l.07 78.8l.06 17.6l.07 83.3l.07 77l.07-266.6l.06 117.3l.07-102.6l.07 154.3l.07-132.1l.06-140.2l.07 224.5l.07 94l.06-216.4l.07 83l.07 10.8l.07-63.4l.06 130.9l.07-168.5l.07 42l.07 16.9l.06-3.3l.07 87.7l.07-34.7l.06-42.5l.07 66.1l.07-129.6l.07 36.9l.06-39.7l.07 201.1l.07-211.5l.07 141.2l.06 19.1l.07-32.9l.07-118.5l.06 66.4l.07 4l.07-44l.07-3.1l.06-5l.07 14.6l.07 44l.07-14.5l.06 130.3l.07-83.6l.07 142.1l.06-145.9l.07-13.4l.07 59.7l.07-16.1l.06-109.1l.07 97.5l.07-25.4l.07-130.5l.06 109.3l.07-41l.07 32.7l.06-8l.07-39.1l.07 93.8l.07-66.8l.06 85.5l.07-4.8l.07-71l.07 85.5l.06-64.8l.07 39l.07-104.9l.06 158.8l.07-109.8l.07 66.4l.07-175.5l.06 172.5l.07 136.3l.07-240l.07 109.4l.06-52.6l.07 26.6l.07 102.3l.06-74.8l.07-108.7l.07 25.8l.07 81.7l.06 24.2l.07-44.5l.07 84.3l.07-106.7l.06 130.2l.07-61l.07-109.7l.06 58.3l.07 45.1l.07-55.1l.07 28.3l.06-35.6l.07-57.3l.07 81.5l.07-172.9l.06 136.8l.07 84.2l.07-134l.06 11.5l.07 68.4l.07-32.7l.07 132l.06 19.1l.07-95.9l.07-47.3l.07-69.7l.06 139.3l.07 17.4l.07-5l.06-7.4l.07-63.3l.07 110l.07-150l.06 142.3l.07 44.6l.07-125.9l.07-15.4l.06 120.1l.07-133.5l.07 150.9l.06-291.2l.07 204.2l.07-61.1l.07-17.9l.06-29.1l.07-28.5l.07 15.2l.07 26.2l.06 93.1l.07 35.9l.07-129l.07 28.5l.06 58.2l.07-31.9l.07-68.2l.06 2.3l.07 103.4l.07 48.8l.07 41.4l.06-99.9l.07-10l.07 69.3l.07-163.8l.06-57.1l.07 182.5l.07-103.3l.06 58.6l.07-47.2l.07 27.2l.07 17.5l.06-70.4l.07 16.6l.07 76.4l.07-61.7l.06 74.5l.07-38.5l.07-44.3l.06 9.5l.07 138.3l.07-146.6l.07 122.2l.06-97.1l.07-33.2l.07 150.9l.07-29.2l.06-129.3l.07 34.2l.07 164l.06-208l.07 107.8l.07 38.3l.07-98l.06 60.9l.07-46.1l.07-15l.07 54.1l.06-99.8l.07 45.8l.07 10.8l.06-16.9l.07-9.7l.07 76.3l.07-77.8l.06 82.2l.07-8.3l.07-32.8l.07-75.8l.06 13.2l.07-55l.07 28.7l.06 78.8l.07-1.3l.07-94.4l.07 149.2l.06 22.3l.07 64.3l.07-54.9l.07-137l.06 111.9l.07 15.6l.07-97.7l.06 96.3l.07-17.3l.07 3.4l.07-82.5l.06 75l.07-12.9l.07-21.7l.07 113.4l.06-108.5l.07 106.8l.07-41.6l.06-49.3l.07-40.3l.07 25.6l.07-89.8l.06 64.4l.07-31l.07 71.8l.07 11.5l.06-158.8l.07 227.1l.07-192.3l.06 131.6l.07-97.2l.07 134l.07-122.1l.06 12.2l.07 166.1l.07-100.4l.07-88.1l.06-25.5l.07 49.2l.07 59.1l.06-35.2l.07 85.2l.07-20.8l.07-83.3l.06 15.6l.07-48.5l.07 35.8l.07-27.6l.06 46.8l.07-48.8l.07 24.4l.06 84.3l.07-76.7l.07 41l.07-65.9l.06 2.2l.07 86.8l.07-66.1l.07-3.9l.06 21.7l.07-29.2l.07-73.4l.06 52.9l.07 59.2l.07-34.2l.07-120.4l.06 178.8l.07-119l.07 122.3l.07 63.7l.06-62.2l.07-70.4l.07 39.5l.06 31.7l.07 5.7l.07 12.3l.07 6.9l.06-31.1l.07 5.7l.07-76.4l.07 9.7l.06 12.9l.07 197.6l.07-150l.06-40l.07-59.7l.07 46.4l.07 40.2l.06-68.6l.07-16.6l.07 70.1l.07 74.4l.06-109.4l.07-34.7l.07-4.5l.06 98.2l.07 27.2l.07-44.3l.07 52.6l.06 76.2l.07-171.9l.07-5l.07-14.8l.06 103.4l.07-55.7l.07 80.3l.06 18.3l.07-133.1l.07 156.7l.07-101.1l.06-54.2l.07-52.3l.07 36.9l.07 4.6l.06 55.1l.07 26.7l.07-178.4l.06 151.2l.07 27l.07-86.1l.07 49.4l.06-93l.07 132.1l.07 13.2l.07-29.1l.06-137.2l.07 45.7l.07 45.5l.06 11.6l.07-17.4l.07 182.2l.07-193.7l.06 68.5l.07-49.8l.07 14.4l.07-19.4l.06 52.2l.07-96.7l.07 40.6l.06 77.1l.07-82.8l.07 53.4l.07-49.6l.06-31.8l.07 91.2l.07-31.2l.07-6.8l.06 2l.07-136.3l.07 114.9l.06 101.8l.07-85.5l.07 44.9l.07-61.6l.06 67.3l.07 32.3l.07-125.7l.07 85.7l.06-9.5l.07-10.2l.07 30.1l.06-17.9l.07 121.8l.07-143.3l.07-51l.06-83.6l.07 123l.07-52.2l.07 105.8l.06-149.2l.07 156.5l.07-79.9l.06 46l.07-26.9l.07-102.4l.07 190.7l.06-172.4l.07 155.2l.07-11.5l.07-74.9l.06-25.7l.07-22l.07-31.4l.06 174.6l.07-82.3l.07-47.7l.07 34l.06-184.8l.07 200.7l.07 22.9l.07 132.8l.06-24.7l.07-182.1l.07 132.3l.06-99.4l.07-23.5l.07 52.6l.07-77.2l.06 113.3l.07-84.5l.07 48.9l.07 93.1l.06 35.4l.07-123.7l.07-124.4l.06 31.8l.07 47l.07-22l.07-7.1l.06 78.4l.07-106.4l.07 71.7l.07 52.8l.06-55l.07-25.6l.07 53.9l.06-60.8l.07 135.7l.07 .7l.07-215.4l.06 88.8l.07 117l.07 37.4l.07-103.9l.06 64.7l.07-162.4l.07 223.4l.06-216.3l.07 154.5l.07 16.1l.07-88.8l.06 90.3l.07-46.8l.07-1.7l.07-19.9l.06 63.6l.07-105.3l.07 166.9l.06-48.9l.07-30.6l.07-126.8l.07-.1l.06-39.4l.07 169.6l.07-122.9l.07 40l.06 106.3l.07-125.9l.07 36.7l.06 45.4l.07 29l.07 37l.07-146.5l.06 4l.07 50.7l.07 6.6l.07 14.9l.06-94.2l.07 39.2l.07 137.1l.06-129.5l.07-26.7l.07 74.4l.07-8.8l.06 8l.07-84.8l.07 71.8l.07-25.9l.06-8l.07-101.4l.07 211.8l.06-91.9l.07 71.1l.07-68.5l.07 41l.06-65.5l.07-29.2l.07 8.9l.07-53.6l.06 130l.07-62.5l.07 7l.06 54.5l.07-87.5l.07 22.6l.07 49.4l.06 17.1l.07-97.3l.07 57.4l.07-91.1l.06 22.9l.07 144.2l.07 62.1l.06-149.2l.07 50l.07 25.2l.07-21.9l.06-151l.07 116l.07-147.6l.07 77.9l.06 175.2l.07-152l.07-72.8l.06 227.8l.07-35.7l.07-80.7l.07 30.6l.06-156.3l.07 178l.07-178.8l.07 216.3l.06-37.9l.07-82.9l.07-13.1l.06 25.5l.07-101.7l.07-14.6l.07-10.9l.06 144.1l.07-67.9l.07 80.1l.07-119.1l.06 176.7l.07-31.4l.07-30.5l.06 19.1l.07-145.3l.07 208.3l.07-40l.06 26.8l.07-81.1l.07 60.6l.07-129.4l.06 3.5l.07 210l.07 1.2l.06-205.9l.07 29.8l.07 138.7l.07-108.8l.06 84.1l.07-142.6l.07 148.3l.07-48.9l.06-76.4l.07 29.7l.07-70.1l.06 44.3l.07 133.9l.07-121.2l.07 95.4l.06-179.9l.07-9.3l.07 31l.07 65.7l.06-42.3l.07-47.2l.07 37.1l.06 4.1l.07 1.2l.07 40.2l.07-105.6l.06 202.2l.07 33.5l.07-55.7l.07-164.8l.06 129.7l.07-163.8l.07 204.3l.06-91.4l.07 36.2l.07-87.7l.07 106.5l.06-86.3l.07 124l.07-98.1l.07 96.9l.06-45.4l.07-5.1l.07-76.8l.06 137l.07-37.1l.07 6l.07-55.8l.06 113.5l.07-195.7l.07 90.4l.07-3.4l.06 24.2l.07-9l.07 37.5l.06-129l.07 150.5l.07-119.1l.07 220.9l.06-148.7l.07-49.4l.07-82.7l.07 124.1l.06 33.7l.07-73.1l.07 139.5l.06-46.6l.07 9.1l.07-43.8l.07 70.3l.06-154.5l.07 80.5l.07-31.2l.07 8.7l.06 23l.07 23.7l.07-135.8l.06 32.2l.07-46.5l.07 115.6l.07-30.6l.06-5.7l.07 48l.07-20.3l.07 110.4l.06-30l.07-18.7l.07 15.5l.06-110l.07 4.8l.07-3l.07 46.6l.06-88.7l.07 6.5l.07 24.2l.07 63.2l.06-131.1l.07 190.7l.07 31l.06-23l.07-175l.07 77.4l.07 47.8l.06-152.6l.07 127.3l.07 53.5l.07 76.6l.06-221.9l.07 73.8l.07-94.7l.06 98.1l.07-40.4l.07 87.3l.07-91.7l.06 71.6l.07-70.6l.07 27.6l.07 91.2l.06-78l.07-10.1l.07 60.4l.06-40.9l.07-72.8l.07-21.3l.07 81.6l.06 163l.07-210.9l.07-121.6l.07 190.1l.06 43.6l.07-81l.07 6.4l.06-46.8l.07 105.3l.07-165.7l.07 58l.06 250.6l.07-259.1l.07 81.2l.07-57.3l.06 22.9l.07 21.6l.07-18.3l.06 51.5l.07 21.8l.07-34.8l.07 3.4l.06-47.1l.07 14.1l.07 126.1l.07-171.2l.06 61.3l.07-62.7l.07 12.2l.06 28.5l.07-20.5l.07 139.3l.07-207.9l.06-26.9l.07 90.5l.07 80.1l.07-84.4l.06 71.9l.07-136.9l.07 143.9l.06 50.2l.07-23.4l.07-5.9l.07-101.8l.06 53.3l.07-22.5l.07 42.9l.07-115.3l.06 90.5l.07-14.3l.07-94.2l.07 88.7l.06 57l.07-19.3l.07-96.2l.06 52.6l.07 80.3l.07-135.3l.07 182.8l.06 48.1l.07-81.2l.07 63.4l.07-117.8l.06-16l.07 21l.07 21.3l.06 33.4l.07-137.8l.07 201.1l.07-187l.06 32.6l.07 22.8l.07-35.9l.07 139.3l.06-176.2l.07 32.6l.07-42l.06 220.9l.07-160.8l.07 26.8l.07 92.1l.06-279.8l.07 174.8l.07 58.6l.07-81.4l.06-12.6l.07 70.5l.07-7l.06-77.7l.07 121.8l.07-103.1l.07-57.6l.06 94.7l.07-28.2l.07 24.2l.07-55.4l.06 161.8l.07 14.1l.07-59.1l.06-16.7l.07-110.4l.07-27.7l.07 54.9l.06-46.5l.07 115.3l.07 9l.07 69.8l.06-187.8l.07 43.5l.07-196.5l.06 327.7l.07-22.8l.07-104.8l.07 34.5l.06-76.8l.07 63.4l.07 61.9l.07 33.3l.06-81.8l.07-114l.07-24.2l.06 189.2l.07-86.9l.07 86l.07-68.5l.06 115.1l.07-52.8l.07 81.8l.07-226.9l.06 128.4l.07-59.3l.07 30l.06 95.2l.07-136.2l.07-32.1l.07 59.6l.06-22.8l.07-38.9l.07 37.4l.07 48.1l.06 105.1l.07-54.4l.07-6l.06-105.8l.07-40.7l.07 91.5l.07-67.6l.06 64.7l.07-145.8l.07 232.1l.07-147.7l.06-22.4l.07 9.2l.07 22.6l.06-24.2l.07-45.9l.07 160.6l.07-145.6l.06 131.5l.07 72.6l.07-137.1l.07-11.8l.06 30.5l.07 66.8l.07-87.3l.06 58.1l.07 79.1l.07-119.8l.07-3.9l.06 64.1l.07-77.7l.07-74.2l.07 165.7l.06-24.6l.07 107.6l.07-127.1l.06-116.9l.07 195.1l.07 113.3l.07-143.5l.06-32.5l.07 34.8l.07-28.8l.07 52.9l.06-92l.07-52.6l.07 14.2l.06 182.8l.07-221.3l.07 41.9l.07-29.2l.06 140l.07-19.7l.07-88.3l.07-74.4l.06 187.2l.07-85.2l.07-11.1l.06 54.8l.07-204.2l.07 215.1l.07-124.3l.06 201.1l.07-133.4l.07 56.9l.07-31l.06 58.5l.07-53.2l.07-115l.06 54.8l.07 21.1l.07 31.1l.07-23.9l.06 43.1l.07-29.9l.07-88.7l.07 139.8l.06 16.5l.07-189.5l.07 163.3l.06-49.3l.07 27.2l.07-53l.07-3.5l.06 36.2l.07 75.6l.07-1.8l.07-70.5l.06-121.1l.07 249.7l.07-116.1l.06-39.4l.07 71.8l.07-55.4l.07 23.3l.06-62.2l.07-59.6l.07 136.5l.07-42.4l.06-10.2l.07 19.9l.07 10.5l.06 148.7l.07-154.4l.07 80.4l.07-43.5l.06-59.7l.07-9.3l.07-108.4l.07 180.1l.06-12.5l.07 53.3l.07-179.6l.06-13.2l.07 133.3l.07-124.1l.07 57.7l.06 127.8l.07-137.6l.07 17.3l.07 35.5l.06 111.4l.07-59.3l.07 117.9l.06-156.9l.07 17.9l.07 57.1l.07 9.4l.06-178.4l.07 196.9l.07-155.3l.07 43.3l.06-78.2l.07 197.6l.07-119.5l.06-78.6l.07 97.4l.07 86.2l.07 37.3l.06-86.4l.07-118.5l.07-35.6l.07-48.9l.06 324.5l.07-239.4l.07 27.4l.06 99.8l.07-108.2l.07 119.8l.07-77.5l.06-47.3l.07-19.7l.07 82.8l.07-86.7l.06-27.2l.07 38.2l.07 70l.06-24.9l.07 19.9l.07-2.3l.07-46.7l.06-25.4l.07 74.6l.07-50.7l.07 34l.06 6.5l.07 78.3l.07-93.8l.06 34.2l.07-27.9l.07-49.5l.07 17.6l.06 2.6l.07 84.3l.07 75.9l.07-83.7l.06-25.6l.07-14.4l.07-79.9l.06 72.6l.07-77.8l.07 126.3l.07 46.8l.06-134.2l.07 137l.07 30.6l.07-69.5l.06-61.5l.07-52.5l.07 75l.06-61.7l.07 63.8l.07 110.5l.07-36.2l.06 39.2l.07-100.8l.07 129.7l.07-45.1l.06-40.9l.07-118.7l.07 25l.06 63l.07-39.7l.07 30.8l.07 28l.06 69.4l.07 51.1l.07-32.7l.07-34l.06-73.6l.07-87.9l.07 80.7l.06 2.3l.07-7.8l.07-23.2l.07 76.2l.06-105.7l.07 46.8l.07-19.9l.07-20.9l.06-1.3l.07-15l.07 113.5l.06-91.5l.07 138.5l.07 37.3l.07-117.4l.06-53.5l.07-4.8l.07 8.5l.07-33.5l.06 178.8l.07-83.1l.07-21.8l.06 39.7l.07-77.5l.07-17.3l.07 18.5l.06 13.2l.07 42.1l.07-39.5l.07 3.3l.06-81.3l.07-41.2l.07 185.8l.06 5.6l.07-159.7l.07 15.4l.07 18.6l.06 75l.07-62.3l.07 140.6l.07-17.8l.06-183.8l.07 191.2l.07-74.7l.06-53.6l.07 21.6l.07 95.6l.07-34.1l.06-79.6l.07 69.2l.07-141.5l.07 121.4l.06-132.8l.07 124.7l.07-84.7l.06 54l.07 25.1l.07 96.6l.07-131.1l.06 34.2l.07-19l.07 61.2l.07 27.3l.06 1.8l.07-261.6l.07 134.5l.06 85.4l.07 52.3l.07-18.4l.07 21.4l.06 33.1l.07-84.6l.07 18.8l.07-19.9l.06-152.9l.07 64l.07-34.7l.06 96.4l.07-16.5l.07 72.5l.07 65.2l.06-12.3l.07-82.5l.07-57.1l.07-119.9l.06 157.3l.07 98.9l.07-78.5l.06-60.1l.07 113.3l.07-46.1l.07 153l.06-194l.07-21.8l.07 25.1l.07 5.4l.06-94.4l.07 31.3l.07 43.9l.06-18.9l.07 39.4l.07-.1l.07-31.7l.06 13.3l.07-41.7l.07 38.3l.07-11.8l.06-116.9l.07 207.4l.07-70.6l.06-78.3l.07 70.9l.07 17.3l.07 53.6l.06-57.9l.07 49.3l.07-119.1l.07 32.6l.06 57.9l.07-98l.07 147.3l.06-10.6l.07-108.9l.07 31.6l.07 96.4l.06-26.7l.07-34.9l.07 27.8l.07-57.5l.06 21.5l.07-40.5l.07 37.6l.06-28.5l.07 53.3l.07-55.2l.07 2.5l.06-23.9l.07 24l.07 50l.07-22.1l.06-92.1l.07 105.5l.07-22.2l.06-102.5l.07 63.7l.07-3.1l.07 105.8l.06-263.9l.07 185.4l.07-124.1l.07 264.5l.06-7.6l.07-151.4l.07 20.7l.06 83.4l.07-126.8l.07 48.1l.07 45.2l.06-26.5l.07 30.9l.07-56.9l.07 67.9l.06 28.9l.07-27.7l.07-73l.06-50.9l.07 118.3l.07 25.9l.07-88.3l.06-55.1l.07 100.4l.07-127.1l.07 153.7l.06-148.3l.07 49.6l.07 160.1l.06-149.4l.07 50.5l.07-3.2l.07 37.3l.06-50.3l.07 45.2l.07-53l.07-62.3l.06-20.8l.07 17.8l.07 15.5l.06 29.5l.07 42.8l.07-182.4l.07 101l.06 97.4l.07-42l.07 104.2l.07-121.3l.06-63.1l.07 98.9l.07-66.8l.06 70.6l.07-21.1l.07 43l.07-148l.06 91.7l.07-8.2l.07-6.3l.07-75.4l.06 52.6l.07 30.6l.07 75.1l.06-46.2l.07 92.5l.07-65l.07 7.4l.06-105.2l.07-89.8l.07 125.5l.07 153.8l.06-82.4l.07-104.9l.07 103.6l.06 49.7l.07-97.5l.07 53.3l.07-39.6l.06-24l.07 90.1l.07-63.3l.07-94l.06 108.2l.07-2.9l.07 23.4l.06-60.7l.07-12.3l.07 93.8l.07-67.8l.06-104l.07 223.3l.07-178.1l.07 6.9l.06 163.4l.07 8.2l.07-72.7l.06-131.5l.07 136.7l.07-45.2l.07-5.7l.06 13.6l.07-140l.07 115.4l.07 98.1l.06 129.4l.07-252.2l.07 116.5l.06-85.5l.07 53.6l.07 47.8l.07-27l.06-116l.07 66l.07 100.3l.07-160.7l.06 70.1l.07 15.1l.07 37.8l.06-87.6l.07 56.5l.07-35.1l.07-145.7l.06 119.9l.07 76.2l.07 22.1l.07-29.2l.06-67.3l.07-69.2l.07 82l.07-81.6l.06 93.8l.07 133.7l.07-164.3l.06-47.8l.07 29.4l.07-35.2l.07 137.9l.06-44.8l.07-20.2l.07-22.2l.07-15.2l.06-27.9l.07 94.6l.07 44.6l.06-41.8l.07-16.8l.07 16.9l.07 33l.06-123.2l.07-6.5l.07-1.3l.07 14.4l.06 16.3l.07 67.5l.07-3.3l.06-47.1l.07 145.6l.07-142.7l.07 151.3l.06-259.5l.07-46.7l.07 214.6l.07-41.2l.06 33.1l.07-140.2l.07 29.3l.06 248.2l.07-138.3l.07-74.9l.07 22.1l.06 20.9l.07 32.3l.07 70.2l.07-12.5l.06-43.2l.07 61.7l.07-46.9l.06-185.7l.07 119.5l.07-45.6l.07 87.8l.06-131.6l.07 82.5l.07-45.9l.07-20.6l.06 45.1l.07-101.9l.07 195l.06-240.4l.07 143.3l.07 40.2l.07-37.6l.06-117l.07 168.7l.07-39l.07 54.1l.06 20.4l.07 74.8l.07-163.2l.06-62.9l.07 93l.07-80.1l.07 173.3l.06-78l.07-2.3l.07-60.5l.07 47l.06-33.5l.07-64l.07 176.5l.06-67.6l.07-34.7l.07 72.4l.07-70.6l.06 145.1l.07-50.6l.07-51.3l.07 106l.06-271l.07 20l.07 42l.06 28.4l.07-5l.07 80.4l.07-2.5l.06 123.8l.07-202.9l.07 76.3l.07 122.2l.06-77.8l.07-91.3l.07 145.2l.06-75l.07 113.3l.07-115.4l.07-27.7l.06 25.1l.07 22.9l.07-82.7l.07 55.4l.06-126l.07 41.3l.07-19.3l.06 163.1l.07-20.1l.07-86.9l.07-12.6l.06 71.6l.07-21.1l.07 51.2l.07-33.5l.06-60l.07-71.4l.07 59.8l.06-22.3l.07 55.6l.07-30.4l.07-31.5l.06 128.5l.07-128.6l.07 25.6l.07-28.5l.06 39.1l.07 76.3l.07-16.1l.06-32.1l.07 58.3l.07 .9l.07-14.6l.06-4.3l.07 30.7l.07 5.7l.07-54l.06 23.8l.07-132.2l.07 90.4l.06 4.5l.07-61.8l.07 62.3l.07-4l.06-81.4l.07 13.8l.07 79.8l.07 75.1l.06-48l.07-78.9l.07 148.8l.06-90l.07-17.9l.07 98.5l.07-183.6l.06 98.4l.07 87l.07-36.1l.07-96.6l.06-64.2l.07 72.8l.07 7.1l.06 25.8l.07-122.4l.07 21.9l.07 195.6l.06-110.3l.07-37.4l.07 52l.07-43.3l.06-14.5l.07 105.8l.07-148.2l.06 76.6l.07-62.1l.07 53.6l.07 24.7l.06-278.6l.07 247l.07-81.2l.07 65.7l.06-106.3l.07 200.2l.07-58.6l.06 57.3l.07 22l.07-86.6l.07 112.7l.06-92.9l.07-94.3l.07 51.2l.07 72.6l.06-19l.07-65.4l.07-57.3l.06 122.9l.07-25.6l.07-24.8l.07 45.6l.06-36.5l.07 5.7l.07-70.6l.07 128.8l.06-45l.07-18l.07 72.1l.06-26.5l.07-20.7l.07 96.3l.07-65l.06 43.3l.07-281l.07 250.7l.07-12.7l.06-80.1l.07-36.1l.07 27.5l.06 109.8l.07-75.8l.07 107l.07-122.8l.06-11.7l.07 72.6l.07-25.8l.07-52.2l.06 6l.07 86.4l.07 11.7l.06 64l.07-89.9l.07 17l.07-39.3l.06-37.9l.07 131.4l.07-42.8l.07-27.8l.06 84.3l.07-94.1l.07 20.3l.06-57l.07-21l.07-1.9l.07 63.8l.06-33.4l.07 2.5l.07-56.3l.07 193.1l.06-106.1l.07 34.2l.07-58l.06-62.7l.07 55.5l.07 5.1l.07 55.9l.06-68.1l.07 5.6l.07 82.7l.07-109.4l.06 73.5l.07 110.5l.07-128.7l.06-46.2l.07 3.8l.07 21.4l.07 11.9l.06-47.2l.07 6l.07 160.1l.07-73.7l.06-54.5l.07 11.3l.07-60.1l.06-11.9l.07 56.9l.07 35.3l.07-140.2l.06 171.5l.07-49.9l.07-180.4l.07 131l.06 2.1l.07 40.4l.07-81.1l.06 97.3l.07-38.3l.07 36.6l.07-93.6l.06-49.7l.07 102.9l.07 80l.07-78.7l.06 75.7l.07-117.1l.07 78.3l.06-48.8l.07 29.6l.07-50l.07 190.6l.06-157.7l.07 9.4l.07-6.6l.07 116.5l.06-188l.07 134.6l.07-74.8l.06 65.8l.07-21.2l.07 16.8l.07 78.3l.06-65.5l.07-130.9l.07 164l.07-84.6l.06 126.3l.07-190.9l.07 165.4l.06-14.8l.07-67.3l.07-46.8l.07 124.3l.06-81.6l.07-42.5l.07 35.2l.07 52.3l.06-81.6l.07-45l.07 119.8l.06-131.5l.07 200.7l.07-201.5l.07 17.7l.06 48.9l.07-26.3l.07-29l.07 92.9l.06 65.2l.07-65.2l.07-62.4l.06 82.5l.07 6l.07 41.4l.07-121.5l.06 108.4l.07-57.9l.07 34.7l.07-136.8l.06 19.7l.07 75.8l.07 39.4l.06 18.9l.07-84.2l.07 110.8l.07-59.4l.06-79.4l.07 42.2l.07-53.9l.07 107.8l.06-18.7l.07-22.4l.07-66l.06-18.1l.07-7l.07 74.6l.07 55.9l.06-20.6l.07-28.6l.07 104.7l.07-41.1l.06 54.4l.07-137.1l.07 4.8l.06 77.1l.07-126.8l.07 58.2l.07 14.9l.06-53.6l.07 22.2l.07 94.2l.07-26.1l.06 51.3l.07-137.8l.07 48.7l.06-68.6l.07 108.9l.07 32.3l.07-155.1l.06 18.9l.07 154.4l.07-169.4l.07 119.6l.06-150.3l.07 68.2l.07 74.9l.06-25.1l.07-4.8l.07 22.4l.07-79.1l.06 66.3l.07-71.5l.07-25.4l.07-90.1l.06 164.4l.07 77.8l.07-208.8l.06 77.3l.07 118.7l.07-9.1l.07-93.6l.06-81.1l.07 85.4l.07 64.1l.07-150.9l.06 161.8l.07-129.5l.07 43.6l.06 53.9l.07 32.4l.07-2.3l.07-36.9l.06-94.9l.07 97.5l.07 55.1l.07-149.6l.06 20.6l.07 63.7l.07-78.3l.06 71.2l.07-110.6l.07 130.5l.07 42.4l.06-19.9l.07-38l.07-1.8l.07 48.5l.06-3l.07 53l.07-51.6l.06-146.3l.07 122.9l.07 53.2l.07-20.8l.06 7l.07-43.9l.07 49.5l.07-135.8l.06 135.1l.07-38.8l.07-116.1l.06 100.9l.07-87.4l.07 98.3l.07-66.3l.06-93.5l.07 208.9l.07-97.8l.07 110l.06-71.8l.07 42.9l.07-53.6l.06 89.3l.07 62.5l.07-182.5l.07 32.1l.06-80.7l.07 74.2l.07 6.8l.07 65.2l.06 35.1l.07-102.8l.07 88.7l.06-173.4l.07-2.9l.07 60.4l.07-46.6l.06 88.7l.07 30.8l.07-46.5l.07 26.5l.06-103.4l.07 141.7l.07-82.2l.06-30.9l.07 172.4l.07-11.1l.07-54.6l.06-23.8l.07-28.1l.07 55.4l.07-.9l.06 20.3l.07-.3l.07-95.5l.06 60.6l.07 38.9l.07 6l.07-25.6l.06 55.5l.07-123.7l.07-160.5l.07 265.3l.06-54l.07-11.9l.07-79.8l.06 105.6l.07-27.6l.07 47.2l.07-4.1l.06-20.8l.07-43.8l.07-79l.07 52.8l.06 5.4l.07 123.6l.07-37.8l.06-118.8l.07 50.1l.07-74.1l.07 74.7l.06-37.1l.07 29.6l.07-28.6l.07 11l.06-49.5l.07 110.7l.07-20.3l.06 31.6l.07-46.3l.07-32.2l.07 26.3l.06 138.7l.07-85.6l.07-235.6l.07 210.2l.06 21.4l.07-18.5l.07-88l.06 21.8l.07-56.8l.07 209.3l.07-39.7l.06 14.7l.07-155.7l.07 20.6l.07 88.2l.06-2.7l.07-55.8l.07-71.6l.06-16.1l.07 150.5l.07-105.8l.07 74.6l.06-122.9l.07-31.5l.07 103.3l.07-4.3l.06-110.2l.07 113.3l.07 156.8l.06-76.7l.07-100.9l.07 169.4l.07-111.9l.06 195.8l.07-247.4l.07 91.4l.07-85.2l.06 88l.07-36.3l.07 14.8l.07-85l.06 18.9l.07 71.6l.07-2.6l.06 54l.07-24.4l.07-67.4l.07-4.4l.06-29.9l.07-29.3l.07 11.2l.07 40.6l.06 4.3l.07 37.7l.07-99.4l.06 136l.07 4.2l.07-78.4l.07 122.6l.06-77l.07 82.8l.07-45.5l.07 7.8l.06 46.5l.07-181.9l.07 109.6l.06 38.1l.07 23.8l.07-145l.07 68.4l.06-27l.07-113.3l.07 208.4l.07 53.3l.06-156.7l.07-85.6l.07 83.4l.06-85.9l.07 18.4l.07 54.3l.07 76.1l.06-62.6l.07-69.2l.07 44.3l.07 35.4l.06-27.5l.07 27.1l.07-57.7l.06 72.7l.07-129.1l.07 85.4l.07 14.5l.06 135.7l.07 25.9l.07-136.4l.07 18.7l.06-164.3l.07 184.7l.07 15.6l.06-121.7l.07 196l.07-146.1l.07 95.6l.06-118.3l.07 153.9l.07-113.9l.07-9.3l.06 17.8l.07 45.6l.07-66.8l.06-15.4l.07 15.5l.07-108.5l.07 45.6l.06 131.2l.07-18.7l.07-224.8l.07 169.7l.06-61.2l.07-37.6l.07 97.1l.06 53.8l.07 31.5l.07 39.6l.07-232.8l.06 143.2l.07 11.1l.07-161.9l.07 170.6l.06-37.7l.07-36.2l.07 157l.06-34.3l.07-64.6l.07-54.3l.07 161.2l.06-96.1l.07-33.2l.07-48.9l.07-187.4l.06 435l.07-206l.07-77.1l.06 118.5l.07 38.1l.07-4l.07-131.3l.06-30.3l.07 63.1l.07 29l.07-18.1l.06-74.8l.07 112.6l.07 65.8l.06-167.3l.07-6.1l.07 106.3l.07-105.7l.06-25.4l.07 111.3l.07 .8l.07 2.9l.06 9.7l.07-10.6l.07-104.1l.06 62.3l.07-84.8l.07 79.3l.07 64.6l.06-6.8l.07-169.8l.07 193.6l.07-113.9l.06 137.8l.07-104.4l.07 62.6l.06 5.6l.07 29.6l.07-7.7l.07-62.8l.06-84.7l.07 68.6l.07 88.6l.07-92.4l.06 78.7l.07-42.1l.07-53.3l.06 22.5l.07 47.9l.07-91.3l.07-62.4l.06 43.8l.07 117.6l.07-145.6l.07 4.9l.06 132.9l.07-29.1l.07-176.7l.06 203.7l.07-117.5l.07 177.4l.07-164.6l.06 58.7l.07-1.7l.07 67.5l.07-94.6l.06 62.6l.07 3.8l.07 98.3l.06-113.4l.07 28.5l.07-86.3l.07 51l.06 14.7l.07 31.2l.07 5.8l.07 8.3l.06-99.1l.07 150.5l.07 125l.06-244.4l.07-81.7l.07 77l.07 35.5l.06-160l.07 125.6l.07 62l.07-51.7l.06-58.3l.07 97.2l.07-82.5l.06 80.1l.07-33.9l.07-11.5l.07 35l.06-99l.07 45.5l.07 10.6l.07 18.4l.06 29.8l.07-110.7l.07 94.3l.06-60l.07 179.4l.07-256.6l.07 123.1l.06-5.1l.07 91.5l.07-8.4l.07-91.3l.06 88.2l.07-145.8l.07 140.1l.06 4l.07-57.6l.07-130.1l.07 117.2l.06-61l.07 164.3l.07-45.7l.07-103.2l.06 141.8l.07-101.7l.07 70.3l.06-22.2l.07-10.5l.07-65.4l.07 5.2l.06 75.1l.07-69.6l.07 47.5l.07-16.9l.06 74.6l.07-112.8l.07 69.3l.06-109.3l.07 183.8l.07-177l.07 160.4l.06-112.2l.07 107.6l.07-13.8l.07-113.4l.06 163.6l.07-178.3l.07-83.3l.06 97.5l.07 157.5l.07-152.9l.07-129l.06 161.6l.07 12.9l.07-76.1l.07-44.6l.06 95.4l.07-76.4l.07 132.4l.06-9.9l.07 42.4l.07 9.3l.07-50.3l.06-83.1l.07-12.4l.07 178.4l.07-126.2l.06-11.5l.07 217.6l.07-169l.06 76.8l.07 18.8l.07-102.8l.07-49.8l.06 20l.07 21.3l.07 49.6l.07-52.4l.06-5.5l.07-17.3l.07 26.3l.06 70l.07-44.4l.07-15.5l.07 132.6l.06-145.6l.07-14.5l.07 2.4l.07 80.4l.06-51.8l.07-38.1l.07-38.5l.06 37l.07 112.8l.07-140.7l.07-60.3l.06 125.9l.07 28.4l.07-105.6l.07-14.5l.06 71.1l.07 30.2l.07-109.6l.06 22.1l.07 58l.07 10.6l.07-25.5l.06-58.9l.07 62.7l.07 92.1l.07-39.2l.06-54.2l.07-15.7l.07 66.9l.06-92.3l.07 96.7l.07-112.4l.07-49.5l.06 60.1l.07 51.4l.07-33.5l.07 190.4l.06-250.9l.07 163.8l.07 9.7l.06-39.2l.07 40.1l.07-65.1l.07 20.1l.06-15.3l.07-85.3l.07 53.3l.07 70.6l.06-28.4l.07 45.3l.07-128.6l.06 147.9l.07-48.2l.07-143.6l.07 136.2l.06-32.3l.07-24.1l.07 149.2l.07-127.9l.06-54.9l.07 55.8l.07-29.4l.06 104.5l.07-66l.07 24.9l.07-22.3l.06 93.3l.07-49.2l.07-76.8l.07 77.7l.06-81.8l.07-69l.07 87.6l.06-208.5l.07 183.8l.07 104.9l.07-27l.06 39.3l.07-16.2l.07-176.8l.07 171.3l.06-53.1l.07 23.4l.07 5.7l.06-9.4l.07-5.4l.07-38.6l.07 44.3l.06-48.7l.07 38.6l.07 9.4l.07-6.7l.06-130.4l.07 198.5l.07-71.8l.06-57.9l.07 10.1l.07 104.6l.07 7.3l.06-70.6l.07-253.8l.07 199l.07 55.2l.06 19.3l.07-8.8l.07-4.1l.06 84l.07-.4l.07-89.4l.07-134.2l.06 113.2l.07 134.6l.07-44.1l.07-69.6l.06 62.7l.07-83.3l.07 65.3l.06 3.9l.07 36l.07-118.4l.07 6.2l.06-4.5l.07-19.1l.07 54.5l.07-90.5l.06 150.8l.07-120l.07 78.2l.06 4.8l.07 13.1l.07-84.6l.07 24.6l.06-60.8l.07 135.1l.07-76l.07 78.5l.06-100.3l.07-60.2l.07 159.3l.06-138.2l.07 142.1l.07-168.8l.07 89.5l.06-27.3l.07 111.2l.07-182.8l.07 115.6l.06-169.8l.07 96.6l.07 118l.06-34l.07 7.2l.07 27.5l.07-126.3l.06-40.3l.07 177.2l.07-170.1l.07 32.3l.06 97.9l.07-67.8l.07-91.6l.06 177.6l.07-5.1l.07 29.1l.07-207.5l.06 71.6l.07-87.2l.07 165.2l.07-54.6l.06 62l.07-95.9l.07 74l.06-80.7l.07 61.2l.07 8.1l.07 54.6l.06-63.3l.07-32.4l.07 160.7l.07-144.4l.06-48.5l.07 23.9l.07 34.3l.06 40.5l.07 58.6l.07-11.4l.07-36.8l.06 46.7l.07-78.3l.07 40.1l.07-13.2l.06-102.5l.07 68.8l.07-33.8l.06 160.9l.07-152.7l.07 93l.07-162.1l.06 206.8l.07-48.2l.07-106.1l.07-82.9l.06 235.1l.07-83l.07 35l.06-157l.07-30.9l.07 116.6l.07-42l.06 102l.07 34l.07-241.5l.07 356.7l.06-242.1l.07 69.3l.07-105.5l.06 97.7l.07-9.8l.07-64.1l.07 51.9l.06-79.1l.07 131.2l.07 21.9l.07-121.3l.06 26.8l.07 72.2l.07 35.8l.06-28.6l.07-41.6l.07 14.6l.07 55.9l.06-14.9l.07-92.7l.07-37.7l.07-26.6l.06 152l.07 21l.07-109.5l.06 58.9l.07-70.8l.07-9.9l.07 86.6l.06-16.4l.07 96.6l.07-2.1l.07-149.2l.06-90l.07 249.1l.07-16.4l.06-62.3l.07-79.3l.07 170.9l.07-124.1l.06-87.7l.07 238.9l.07-72.8l.07-122.5l.06-27.3l.07 127.5l.07-111.6l.06-4.4l.07 153.8l.07-85l.07 31.3l.06-17.8l.07-190.9l.07 244.2l.07 51.5l.06-32.5l.07-4.8l.07-73.1l.06-74.8l.07 95.8l.07 12.6l.07-13.3l.06-83.8l.07 58.8l.07-11.4l.07 47.3l.06-41.5l.07 22.7l.07-101.6l.06 72.3l.07-76.5l.07 50.3l.07 12.4l.06 132l.07-100.8l.07 48.3l.07-128.3l.06 43.5l.07-3.4l.07 37.2l.07-100.4l.06 222.9l.07-180.7l.07-118.8l.06 234.1l.07-19.2l.07-44.5l.07-22.8l.06-53.4l.07 117.7l.07 5.1l.07-117.7l.06-7l.07 143.2l.07-21l.06-68l.07 40.7l.07-64.9l.07 96.2l.06-6.8l.07-118.8l.07-.1l.07-33.3l.06 80l.07 70l.07-123.2l.06-23.9l.07 115.6l.07 5.8l.07-56.4l.06 44.4l.07 95.5l.07-147.8l.07-8.3l.06 174.1l.07-240.1l.07 197.4l.06 7.7l.07-21.5l.07-59.4l.07 4.6l.06 109.3l.07-122.2l.07-21.6l.07 76.6l.06-68.1l.07 98.5l.07-29l.06-98l.07 83l.07-62.9l.07 17.1l.06 12.8l.07 13.5l.07-74.8l.07-24l.06-6.5l.07 88.7l.07-181.9l.06 315l.07-70.3l.07-36l.07 59.8l.06 18.8l.07-77.2l.07 8.2l.07 8.7l.06-163.8l.07 59.5l.07 153.9l.06-152.3l.07 73.1l.07 45.4l.07-14.9l.06 36.3l.07-67.8l.07 53.5l.07-50l.06-62.4l.07 42.2l.07 23.8l.06 50.1l.07-18.5l.07 48.8l.07-96l.06-33.4l.07 3l.07 35.5l.07-96.4l.06 62.8l.07-12.7l.07 114.5l.06-48.3l.07 5.2l.07-105.5l.07 82.5l.06 2.5l.07 4.5l.07-122l.07 143.3l.06 15l.07-69.6l.07 21.2l.06-100.8l.07 15.5l.07 57.2l.07 31.4l.06-12.7l.07-92.2l.07 64.3l.07-15.1l.06-27.9l.07 151.8l.07-67.7l.06-54.9l.07-1.1l.07 37.8l.07 129.2l.06-128.5l.07 63.1l.07 94.4l.07-86.3l.06-33.9l.07-41.1l.07-40.4l.06 40.6l.07 12.2l.07 35.4l.07-34l.06 75.7l.07-126.8l.07 48.6l.07-71.7l.06 32.6l.07 65l.07-20.1l.06-4l.07-5.5l.07-84.3l.07 152.1l.06-199.4l.07 126.7l.07-91.9l.07 135.3l.06 69.6l.07-85.5l.07 3.9l.06 29.1l.07-136.9l.07-16.9l.07 147l.06-183.4l.07 71.6l.07 145l.07-153.5l.06 45.7l.07 24.6l.07 111.9l.06-140.9l.07 83.4l.07-176.9l.07 196.4l.06 31.4l.07-134.9l.07 112.3l.07-184.1l.06 166l.07-113.3l.07 118.9l.06-33l.07-46.1l.07 58.7l.07-96.7l.06 96.3l.07-146.9l.07 36.5l.07 173.5l.06-250.7l.07 116.4l.07 79.9l.06-77.7l.07 11.6l.07-48.3l.07-3.1l.06-23.5l.07 170.2l.07-106l.07 61.8l.06 65.1l.07-371.1l.07 336.5l.06-99.8l.07 47.4l.07-45.7l.07 30.8l.06-15.2l.07-23.9l.07 88.9l.07-45l.06 .9l.07 24.6l.07 33.3l.06-89.1l.07-24.1l.07-84.8l.07 114.4l.06-3.8l.07 93.9l.07-71.7l.07-91.8l.06-51.6l.07 103.6l.07-80.7l.06-2.4l.07-30.7l.07 93.6l.07 94.7l.06-54.4l.07-72.7l.07 123.9l.07-36.8l.06 55.9l.07-18.6l.07 61l.06-180.8l.07 127.8l.07-53.7l.07-28.4l.06 56.6l.07 55.1l.07-33.3l.07 31.9l.06-81.3l.07 51.2l.07-120.8l.06 102.7l.07-60.9l.07 101.2l.07 59.6l.06-100.2l.07-90.2l.07-1.5l.07-15.1l.06 111.9l.07-3.5l.07-219.9l.06 218.6l.07-61.2l.07-20.4l.07-7.4l.06 120.9l.07-157.4l.07 234.8l.07-109.2l.06 15.2l.07-34.5l.07 16.5l.06-97.3l.07 131.7l.07-104.5l.07 129.8l.06-76.6l.07-27.7l.07-41.9l.07 148.9l.06 71.1l.07-270.7l.07 182.7l.06-44.4l.07-8.3l.07-109.2l.07 46.8l.06-33.3l.07-8.9l.07 57.1l.07 50.3l.06-108.9l.07 23.5l.07-79.2l.06 275.7l.07-86l.07-71.8l.07 63.7l.06-98.9l.07 77l.07-18.9l.07-18.5l.06-35l.07-63.7l.07 272l.06-113.5l.07-133.4l.07 101.5l.07 117.2l.06-157l.07 129.1l.07-156l.07-4.6l.06 94.6l.07 55l.07-117.1l.06 60.6l.07-4.5l.07 21l.07-7.1l.06 33.8l.07-126.4l.07-21.3l.07 139.2l.06 29.9l.07-142.4l.07-37.2l.06 51.9l.07-42l.07 24.5l.07 50.4l.06 200.8l.07-142.6l.07-46.8l.07 116.8l.06-225.5l.07 180.7l.07-96.9l.06-6.8l.07 31.8l.07-3.5l.07 52.3l.06-25.9l.07-81.5l.07 4l.07 141.4l.06-88.1l.07 118.1l.07-116.5l.06-10.9l.07 99.6l.07-194.7l.07 195.3l.06-179.9l.07 200.6l.07-165.7l.07 183.7l.06-97.7l.07 55.9l.07-112.1l.06 78.7l.07-42.1l.07-30.6l.07 85.5l.06-27.5l.07-58.7l.07 83.8l.07-93.7l.06 151.5l.07-265.6l.07 64.7l.06 179.1l.07-46.1l.07-30.8l.07-63.9l.06-12.9l.07-22.3l.07-6.9l.07 159l.06-89.2l.07 22.7l.07-53.3l.06 52.7l.07 113.7l.07-90.5l.07-69.6l.06 34.4l.07-82.6l.07 88.5l.07 14.9l.06-21.2l.07 17l.07-75.3l.06 91.2l.07 98.2l.07-190.7l.07 24l.06 65.9l.07-18.5l.07-63.3l.07 26.5l.06 94.8l.07-163.2l.07 124.5l.06-31l.07 70.6l.07-143.7l.07-104.5l.06 240.4l.07 43l.07-10.9l.07-59.1l.06 42.1l.07 142.8l.07-187.1l.06 84l.07-136.2l.07-73.5l.07 238.9l.06-124l.07 15.5l.07 21.9l.07-57.4l.06 78.7l.07-129.6l.07 80.8l.06 47.9l.07-259.2l.07 181.6l.07-92.3l.06 88.2l.07 37.5l.07-158.9l.07 117.8l.06-10.3l.07-76.4l.07 140.4l.06-31.8l.07 46.8l.07-188.9l.07 195.7l.06 17.7l.07 2l.07-205.5l.07 51.5l.06 123.3l.07 2.9l.07-213.6l.06 205.2l.07-46.7l.07 52.2l.07-32.1l.06 32.1l.07 49.7l.07-112.3l.07-7.4l.06 41.5l.07 29l.07 77.8l.06-65.6l.07-193.9l.07-103.5l.07 144.5l.06-71.3l.07 66.3l.07 67l.07-65.7l.06 1.8l.07 181.3l.07-133.9l.06 108.7l.07 75.4l.07-213.5l.07 124.3l.06 110.7l.07-76.2l.07-161.7l.07 29.2l.06 64.7l.07 41.7l.07-13.4l.06-61.2l.07 57l.07 25.7l.07-111.7l.06 15.9l.07-46.7l.07 10.2l.07 144.5l.06-91.4l.07 70.2l.07 33.7l.06-104.9l.07 28.4l.07-48.6l.07 58.9l.06-77l.07 58.6l.07-29.5l.07-55.8l.06-48.7l.07 147.4l.07 114.4l.06-31.1l.07-195.3l.07-37l.07 62.4l.06-44.9l.07 128.8l.07 12.8l.07-128.1l.06 36l.07 15l.07-5.1l.06 44.6l.07 113.7l.07-194.8l.07 60.8l.06 68.9l.07-17l.07-94.2l.07 105.9l.06 32.9l.07-105.9l.07-32.2l.06-5.6l.07 6.2l.07 37.1l.07 33.6l.06 120l.07-122.7l.07 32.3l.07-157l.06 149.3l.07-57.3l.07-33.4l.06 134.1l.07 2.6l.07-169.2l.07 4.4l.06 200l.07-121.3l.07-88.3l.07 149.3l.06-58.5l.07-3.9l.07 31.9l.06 11.9l.07-84.7l.07 128l.07-53.8l.06-38.4l.07-109.5l.07 149.2l.07-121.9l.06 82.6l.07 89.5l.07-62.8l.06-88.2l.07 84.4l.07-27.5l.07-70.9l.06 152.2l.07-15l.07-153.1l.07 64.5l.06-27.8l.07 47.1l.07 89.3l.06-162.9l.07 119.7l.07-62.9l.07-5.6l.06 8l.07 111.3l.07-113.6l.07 123.8l.06-112.2l.07 50.6l.07-132.8l.06 146.2l.07-30.5l.07 1.2l.07 122.7l.06-117l.07-12.9l.07 51.2l.07-42.9l.06-30l.07-7.5l.07-11.5l.07-35.2l.06-5.9l.07 99l.07-42.7l.06 24.8l.07 30.2l.07 2.7l.07 40.2l.06-87.8l.07-53.1l.07 95.6l.07 4.1l.06 30.2l.07 27.6l.07-15.1l.06-88.1l.07 127.8l.07-226.1l.07 55.4l.06 52.5l.07 44.9l.07-104l.07 85.4l.06-157.6l.07 143.6l.07-40.9l.06 89.2l.07-133l.07 40.7l.07-.5l.06-81.3l.07 175.4l.07 67.2l.07 8.8l.06-87.8l.07-23.9l.07 1.5l.06-59.3l.07-41l.07 124.9l.07-135.4l.06 122.3l.07 30l.07-118.6l.07-8.6l.06 231.3l.07-103l.07-164.5l.06 67.4l.07 81.4l.07-56.4l.07-11.1l.06 16l.07 37.4l.07-155.1l.07 148.8l.06-59.6l.07 29.5l.07-177.7l.06 285.2l.07-248.6l.07 34.2l.07 106.5l.06-81.9l.07 72.4l.07-50l.07 62.5l.06 99.7l.07-65.5l.07-1.5l.06 8.4l.07 91l.07-122.5l.07-55.2l.06 13.6l.07 81.3l.07-169.6l.07 128.9l.06-39.6l.07 39.4l.07 41.2l.06-64.7l.07 74l.07 11.2l.07 53l.06-140.3l.07-30.1l.07 45.1l.07 23.2l.06-11.9l.07-70.8l.07 90.7l.06-30.5l.07-28.7l.07 32.8l.07-30.5l.06-22.4l.07 63.9l.07-150l.07 176.8l.06-46.6l.07-17l.07 20l.06 74.1l.07-79l.07 67.1l.07-53.8l.06-47.1l.07-15.2l.07 53l.07 31l.06-178.4l.07 153.2l.07-130.5l.06 175.8l.07-68.9l.07-91.5l.07 167.1l.06 21.2l.07-146.7l.07-41.8l.07 51.7l.06 25.3l.07 65.9l.07-59.8l.06-35.2l.07 85.2l.07 84.6l.07-186.1l.06 155.1l.07 11.7l.07-59l.07-105.9l.06 161.7l.07-90.5l.07-123.3l.06 98.7l.07 42.2l.07 40.2l.07 50.8l.06-272.5l.07 257.7l.07-99.8l.07-56.9l.06 106.1l.07-26l.07-83.2l.06 60.9l.07-73.8l.07 5.5l.07-24.5l.06 197.3l.07-117.2l.07 15.7l.07 18.1l.06 102.4l.07-104.7l.07-96.5l.06 20.8l.07 112.9l.07-40.4l.07 .5l.06-62.6l.07 101.3l.07-2.8l.07 52.5l.06-149.6l.07-74.3l.07 100.6l.06-13.9l.07-13.4l.07 130.8l.07-118.4l.06-61l.07 32.5l.07 83l.07 38.4l.06-5.9l.07-125.6l.07 121l.06-48.8l.07-8.2l.07 35.4l.07 42.4l.06-91.4l.07 80.5l.07-22.3l.07-106.4l.06 28.9l.07 195.4l.07-71.3l.06-127.1l.07 113.6l.07-116.2l.07-17.1l.06 .4l.07-48l.07 205.9l.07-27.3l.06-26.8l.07-1.6l.07-96.2l.06 32l.07 87.5l.07-25.4l.07 51.7l.06-57.9l.07 66.5l.07-218.8l.07 72.2l.06 78.8l.07-13.7l.07-63.9l.06 54.5l.07-86.4l.07 73.8l.07 13l.06-47l.07-98.5l.07 212.6l.07-32.9l.06-155.8l.07 141.6l.07-84.7l.06 160.1l.07-133.1l.07 109.4l.07-41.1l.06-31.6l.07 94.1l.07-129.4l.07 111.6l.06-42.7l.07-149.5l.07 51.7l.06 131.2l.07-95.8l.07-44.5l.07 142.1l.06-69.6l.07 50.7l.07 .6l.07-168.9l.06 50.3l.07 123.3l.07 27.4l.06-135.5l.07 35.5l.07 37.8l.07-38.7l.06 105.5l.07-38.1l.07-.5l.07-135.2l.06 85.8l.07 67.4l.07-18.1l.06-124.6l.07 49.2l.07 60.9l.07-12.3l.06-75l.07 71.1l.07-3.6l.07 29.7l.06-100.2l.07 13.3l.07 51.6l.06-67.5l.07 169.9l.07-90l.07-63.8l.06 65.1l.07 25.9l.07 4.5l.07-29.8l.06-28l.07-116.1l.07 93.9l.06 63.6l.07-105.7l.07 129.1l.07-110l.06 32.3l.07 52.5l.07-67.5l.07-46l.06 33l.07 172l.07-7.6l.06-111.9l.07 12.6l.07 78l.07-149.2l.06 18.3l.07-49.6l.07 63.3l.07-98.4l.06 162.4l.07-17.7l.07-71.6l.06 18.7l.07 130.2l.07-50l.07-94.5l.06 31.9l.07 58.3l.07-29.7l.07-9.5l.06 4.2l.07-167.1l.07 107.8l.06 97.8l.07 151.5l.07-225.3l.07 29.3l.06-137.3l.07 127.6l.07 81.1l.07 9.8l.06-49.5l.07 2.7l.07 76.7l.06-92.6l.07 32.1l.07-146l.07 57.1l.06 87.7l.07-127.5l.07 83.1l.07 123.2l.06-134.5l.07-100l.07 93l.06 47.5l.07-47.5l.07 45l.07-80l.06 20.9l.07 41l.07-78l.07-60.1l.06 92.9l.07-65.5l.07 31.1l.06 69.1l.07-16.2l.07-98l.07 74.2l.06-39.2l.07 172.7l.07-158.9l.07 170.6l.06-253l.07 112.5l.07-38.9l.06 106.1l.07-41.2l.07 70l.07-8.9l.06-80.1l.07 38.2l.07-3l.07-8.7l.06-105.1l.07 24.6l.07-60.8l.06 145.3l.07 23.3l.07-56l.07-35.8l.06 147.5l.07-140.3l.07 64.4l.07-52.9l.06 11.1l.07 40.3l.07 34.7l.06-35.7l.07-92.9l.07 192.8l.07-129.1l.06 22.2l.07 2.8l.07-26.7l.07-15.8l.06 29.5l.07-90.1l.07 110.2l.06-100.2l.07 210l.07-240.1l.07 134.9l.06 58.8l.07-21.1l.07-27.1l.07-45.4l.06 16.8l.07-95.4l.07 100.1l.06 9.9l.07 3.9l.07-61.1l.07 33.3l.06-101.1l.07 143.4l.07-13.4l.07 7.8l.06 22.1l.07-24.8l.07 33.1l.06 91.2l.07-31.9l.07-39.3l.07-151.8l.06 133.8l.07-98.5l.07 23.7l.07 131.7l.06-5.9l.07-66.6l.07 17.5l.06-93.8l.07 30.7l.07-8.5l.07 35.8l.06-82.6l.07 50l.07-1.4l.07-39.9l.06 38.3l.07 26.2l.07 24.6l.06 29.9l.07-83l.07-244.8l.07 150l.06 84.9l.07-43l.07 41.3l.07 36l.06-52.1l.07-3.7l.07 57.4l.06 .7l.07-8.6l.07 132.8l.07-162.8l.06 119.5l.07-98.5l.07 10l.07-30.1l.06-5.8l.07 144.3l.07-226.1l.06 148.4l.07-119.6l.07-17.5l.07 28.4l.06 47.2l.07 96.7l.07-48.2l.07 56.7l.06-84.3l.07-112.8l.07 22.9l.06 115.2l.07 48.3l.07-131l.07 2l.06 70.9l.07 41.3l.07-170l.07-10.5l.06 30.2l.07 32.3l.07 86l.06-48.6l.07 97l.07-187.1l.07 186.6l.06-21.7l.07-34.1l.07-8l.07-115.1l.06 45l.07 113.3l.07-78.4l.06 2.7l.07-85.5l.07 220.7l.07 69.8l.06-111.7l.07-86.6l.07-50.3l.07 77.6l.06 18.9l.07 34.7l.07-77.8l.06 57.6l.07 52l.07-68.4l.07-34.1l.06 52.4l.07-233.5l.07 189l.07 44.3l.06-114.2l.07 22.8l.07 38.6l.06-68.2l.07 229.9l.07-89.4l.07-158.3l.06 153.6l.07-130.9l.07 36.5l.07 22.8l.06 21.7l.07 70l.07 23.3l.06 15.6l.07-152.5l.07 33.4l.07-24.5l.06 102.3l.07-83.1l.07-73.8l.07 130.8l.06-18.6l.07-8.9l.07-172l.06 65.9l.07-122.6l.07 193.2l.07 26.3l.06-39.6l.07-46.9l.07 62.1l.07 44.1l.06-39.5l.07-4.9l.07 162.2l.06-176.2l.07 55.5l.07 59l.07-46.6l.06-99.1l.07 104l.07-146l.07 62.8l.06 38.7l.07 66.9l.07-5.3l.06-140.9l.07 80.7l.07-17.6l.07-1.6l.06-41.1l.07 7.1l.07 78.3l.07-47.2l.06 34.7l.07-50.5l.07 145.1l.06 94.9l.07-294.8l.07 182.7l.07-41.3l.06-63.2l.07 102.3l.07-91.5l.07-16.2l.06-33l.07 41.8l.07-8.2l.07 51.6l.06-48.6l.07-1.1l.07-15l.06-19.3l.07-.7l.07 4.2l.07 30l.06 12.6l.07 41.4l.07-82.8l.07-40.5l.06 121.1l.07-78.7l.07 53.3l.06 3.9l.07 59.2l.07-52.9l.07-63.1l.06 9.4l.07-24.5l.07 107.2l.07-87l.06-11.2l.07 53.8l.07-51.1l.06-83l.07 55.1l.07 226.3l.07-115l.06-11.4l.07-137.4l.07 167.8l.07-29.9l.06-101.2l.07 205.6l.07-87.7l.06 59.2l.07-21.2l.07-110.1l.07 30.1l.06 12.7l.07-5.6l.07 26.9l.07-26.3l.06-41.3l.07 92l.07-66.5l.06 42.9l.07-100.4l.07-20.8l.07 39.7l.06-26.6l.07 106.7l.07-11l.07-38.1l.06 35.1l.07-63.4l.07 54.1l.06 78.3l.07-18.4l.07-90.9l.07 77.7l.06-67.6l.07 118.4l.07 54.5l.07-114.9l.06 45.4l.07-41.7l.07 56.8l.06-106.8l.07-.6l.07 17.5l.07-79l.06-1.2l.07-17.9l.07 155.1l.07-58l.06-77l.07 46.4l.07 116.4l.06-106l.07-71.4l.07 224.3l.07-263.2l.06 121.4l.07-117.1l.07 36.9l.07 42l.06 32.7l.07 5.8l.07 37.4l.06-59.8l.07-13.4l.07 131.9l.07-63.8l.06-132.2l.07 201.2l.07-55l.07-90.2l.06 34.1l.07-6.6l.07 40.4l.06 47.2l.07-241.6l.07 111.9l.07 132.8l.06-61.2l.07-48.1l.07 103.4l.07-19.1l.06-89l.07 22l.07-59.9l.06 89l.07-66.9l.07 7.9l.07-98.8l.06 189.9l.07-51l.07 66.4l.07-114.6l.06-7.3l.07-68l.07 131.8l.06-74.2l.07 43.2l.07-104.7l.07 116.5l.06 16.5l.07-74.1l.07 66.3l.07 43.1l.06 77.2l.07-160.3l.07-55.2l.06 79.2l.07-62.3l.07 98.6l.07-80.7l.06-7.7l.07 89.5l.07 70.4l.07-80.1l.06-20.2l.07-48.9l.07 188.2l.06-241.4l.07 62.3l.07 60.4l.07 57.5l.06-29.9l.07-74.8l.07 0l.07 4.6l.06 137.9l.07-79.3l.07-30.3l.06 13.3l.07 29.2l.07-202.3l.07 71.3l.06 177.3l.07-178l.07 155.3l.07-1.2l.06 4.3l.07-126.7l.07 21.7l.06-42.3l.07 131.3l.07 28l.07-233.1l.06 110.8l.07-33.5l.07 146l.07-77.8l.06-99.2l.07-30.3l.07 209l.06-123.5l.07 62l.07 7.3l.07-192.2l.06 257.6l.07-22.6l.07-38.6l.07-57.4l.06 130.7l.07-200.7l.07 128.6l.06-82.8l.07 125.4l.07 15.5l.07-163.7l.06 39.1l.07 179l.07-173.5l.07 149.6l.06-146.5l.07-23.3l.07 55.1l.06 23.5l.07-10.5l.07-8l.07 54.5l.06 137.3l.07-153.3l.07 80l.07-144.7l.06-104.8l.07 51.2l.07 87.5l.06 40.3l.07-15.9l.07-131.8l.07 41l.06 114.9l.07-77.8l.07-89.9l.07 100.5l.06-149.6l.07 194.7l.07 79.3l.06-181.4l.07 16.5l.07-5.9l.07-38.5l.06 95.5l.07 23.1l.07-60.1l.07 117.8l.06 157.4l.07-218.2l.07 19.4l.06 17.5l.07-69.2l.07-44.4l.07 96.7l.06 96.9l.07-21.6l.07-55.8l.07-49.1l.06-14.2l.07-36.2l.07-109.8l.06 214.9l.07-143.1l.07 85.3l.07-25.1l.06 35.3l.07-100.1l.07 16.2l.07-45.9l.06-42.7l.07-77l.07 230.7l.06-71.4l.07-8.2l.07 32l.07 87.5l.06-194.1l.07 208.7l.07-131.6l.07 96.9l.06-10.3l.07-82.1l.07 121.4l.06-114.8l.07 49l.07 80.5l.07-68.2l.06-21.9l.07-30.7l.07-29.9l.07 175.8l.06-41.8l.07-2.4l.07 47.6l.06-238l.07 171.1l.07-11.3l.07 8.1l.06 33.5l.07-126.7l.07 54.2l.07 58l.06-25.2l.07-50.6l.07 7l.06-39.1l.07-83.1l.07 178.9l.07 34.2l.06-35.7l.07-42.3l.07 52.2l.07-64.8l.06 108l.07-83.1l.07-25.7l.06 82.5l.07-112.4l.07-62.2l.07 56.9l.06 114.4l.07-42.1l.07-66.9l.07 124.6l.06-82.2l.07-88.2l.07 78.9l.06 59.7l.07 2l.07-57.8l.07-14.7l.06 5.1l.07 25.7l.07 152.7l.07-93.3l.06-36.1l.07-33.5l.07-26.1l.06 82l.07-93.3l.07-60.2l.07 74l.06-19.5l.07 84.5l.07 40.7l.07-103.8l.06 7.1l.07-47.1l.07 97.9l.06 48.7l.07-.8l.07-87.1l.07 155.5l.06-229.6l.07 121.6l.07-28.7l.07 19.1l.06-128.9l.07 202.5l.07-142.8l.06 20.7l.07-53.4l.07 22.5l.07 134l.06 40.1l.07 38.3l.07-128.8l.07-55.6l.06 23l.07 39.4l.07-63.5l.06 135.5l.07-188.7l.07-15.3l.07 18l.06 34.5l.07-132.7l.07 284.1l.07-26.6l.06-75.6l.07 1.5l.07 23.6l.06-59.6l.07 58.6l.07-137.6l.07 110.3l.06 52.5l.07-17.7l.07 20.8l.07 52.7l.06-170.8l.07 137.6l.07 62l.06-102.4l.07-158.5l.07 125.8l.07-131.1l.06 86.7l.07-83.8l.07 82.3l.07 5.1l.06-86.3l.07 228.8l.07-261.6l.06 185.5l.07-89.2l.07 15.9l.07 9.7l.06 180.2l.07-64.2l.07-58.3l.07-49.8l.06 215.2l.07-114.2l.07 40.4l.06-174.3l.07 140.9l.07-59.1l.07-12.7l.06-32.4l.07 86.5l.07 31.9l.07-71.5l.06 48.4l.07-73.1l.07 118.3l.06-79.4l.07 61.8l.07-243.9l.07 282l.06-91.1l.07-14.1l.07 17l.07 51.1l.06-23.2l.07-55.1l.07-119.5l.06 12l.07-37.3l.07 163.6l.07-51.1l.06-81.6l.07 52.9l.07 22.3l.07 8.4l.06-53.7l.07 98.7l.07-60.4l.06 80.1l.07-111.6l.07 13.8l.07 41.8l.06 93.7l.07-85.9l.07-123.5l.07 155l.06-62.1l.07 148.4l.07-48.5l.06-72.8l.07-66.3l.07 5.6l.07 101.5l.06-177.5l.07 261.5l.07-19.3l.07-183.4l.06-15.5l.07-31.7l.07 186.1l.06 38.3l.07 5.2l.07-36.2l.07 97l.06-137.4l.07-0l.07-72.7l.07 59.9l.06-27.6l.07-93.3l.07 156l.06-57.2l.07 62.1l.07-107.9l.07 136.5l.06-16.7l.07-114.4l.07 192.5l.07-275.9l.06 85.9l.07-141.3l.07 211.5l.06-62.1l.07 7.4l.07 100.3l.07-81.4l.06 71.8l.07-24.9l.07-35.4l.07-7l.06 27l.07-15l.07 22.7l.06-7.1l.07-133.9l.07 9.2l.07 165.8l.06 91.4l.07-213.4l.07-74.9l.07 148.4l.06-43.8l.07 25.2l.07-22.3l.06 60.1l.07 142.7l.07-162.3l.07 3l.06-32.3l.07 110.9l.07-177.9l.07 71.9l.06-7.4l.07 64.7l.07 93.8l.06-135.9l.07 25.7l.07-108.8l.07-7.2l.06-25.2l.07 128.9l.07-54.8l.07-71.9l.06 61.2l.07-20.8l.07-22.3l.06 219.9l.07-98.1l.07-145.3l.07 170.7l.06 49.5l.07-98.5l.07 12.9l.07 131.7l.06-256.7l.07 107.4l.07 9.4l.06-15.7l.07-3.3l.07-87.6l.07 110.1l.06 29.7l.07-77.3l.07 12.9l.07-28.1l.06 110l.07-95.3l.07-7.5l.06 113.6l.07-110.2l.07 39.4l.07-103l.06-18.1l.07 95.7l.07 103.4l.07-77.5l.06 60.1l.07-4.9l.07-146.6l.06 49.5l.07 61.4l.07-293.8l.07 257.9l.06-80.9l.07 53.4l.07 25.6l.07-1.6l.06-78.9l.07 34.8l.07 47.9l.06 160l.07-197.3l.07 35.6l.07 15.9l.06-83l.07 135.9l.07-77.4l.07 12.4l.06 111.1l.07-87.4l.07-23.6l.07-68.2l.06 38.9l.07 39.4l.07-54.7l.06 201.3l.07-117.9l.07 24.8l.07-90.7l.06-144.6l.07 353.5l.07-242.4l.07 10.9l.06-55.7l.07 192.6l.07-112.7l.06 93.7l.07-25.7l.07-84.4l.07-9.5l.06 67l.07-84.8l.07 77.9l.07 7.6l.06-11l.07-2.8l.07-75.7l.06 6.2l.07 102.3l.07-14.9l.07 20.8l.06-194.1l.07 136l.07-9.6l.07 110.8l.06-96.7l.07 62l.07 30.4l.06-75.5l.07 26.1l.07-57.4l.07 1.4l.06 34.7l.07-38.8l.07 16.1l.07 25l.06 51.8l.07-124.5l.07 4.4l.06-8.4l.07 140.1l.07-0l.07-82.6l.06-45.5l.07 57.7l.07-75.1l.07 147.4l.06-109.5l.07 172.2l.07-77l.06 18l.07-115.9l.07 83.7l.07-42.1l.06-60l.07 102.7l.07-106l.07 129.2l.06-156.2l.07 158.5l.07 14.5l.06-111.1l.07-66.9l.07 219.4l.07-192.2l.06-13.1l.07 56.9l.07 120.5l.07-24.9l.06-103.9l.07 186.8l.07-229.8l.06-45.9l.07 213.7l.07-10.5l.07-129.7l.06 97.6l.07-95.5l.07 78.3l.07 4l.06-26.6l.07-55.3l.07 3.7l.06 46.5l.07-101.1l.07-10.3l.07 51.7l.06 152.8l.07-51.6l.07-31.2l.07-50.4l.06-56.5l.07 134.8l.07-129.6l.06 170.6l.07-105.7l.07 52.8l.07-12.4l.06-104.6l.07 112.9l.07-33l.07-114.5l.06-46.1l.07 263.4l.07-20.9l.06-41.3l.07-50.8l.07-2.9l.07 139l.06-39.9l.07 10.8l.07-88.5l.07-27.9l.06 41.2l.07-49.8l.07 48.2l.06-19l.07-96.3l.07 47.2l.07 92.2l.06-14l.07-103.4l.07 82.1l.07 45.4l.06-79.2l.07 119.5l.07-103.9l.06 50.2l.07-58.6l.07 88.2l.07-82.2l.06 91.5l.07 45.3l.07-128.4l.07 28.7l.06 75.1l.07-308.5l.07 215.3l.06 78.4l.07-67.4l.07-44.7l.07 83.3l.06-143.1l.07 155l.07 16.7l.07-154.2l.06 105.8l.07 20.4l.07 14.6l.06-95.3l.07 76.3l.07-11.8l.07 93l.06-29.3l.07-69l.07 71.3l.07-65.1l.06-109.6l.07 68.1l.07-67.8l.06 143.9l.07-110.3l.07 72.6l.07-83.5l.06 131.2l.07-86.4l.07-59.1l.07 53.7l.06-6.2l.07 39.8l.07-33.2l.06 73.1l.07-7.3l.07-117.2l.07 55.5l.06 79.6l.07-136.1l.07 36.7l.07 142.2l.06-205.9l.07 63.8l.07 109.4l.06-156l.07 184.7l.07-190.9l.07 65.1l.06 43.5l.07-50.2l.07-23.2l.07 70.5l.06 40.5l.07-109.2l.07 18l.06 109.1l.07-175.1l.07 111l.07-152.1l.06 28.9l.07 114.5l.07-67.5l.07 129.5l.06-85.5l.07 145.8l.07-53.5l.06-74.4l.07-48.1l.07-17.4l.07-20.2l.06 8.9l.07 105.2l.07-26.1l.07 38.2l.06-47.3l.07 128.5l.07-68.6l.06-157.4l.07 88.1l.07 60.1l.07-96.4l.06 28.5l.07 23.6l.07 22.6l.07-206.7l.06 182.6l.07-10.3l.07 6.1l.06-103.5l.07 104l.07-21.4l.07-68l.06 30.4l.07 204.1l.07-138.8l.07 67.5l.06-18l.07 117.4l.07-286l.06 83.2l.07 57.9l.07 7l.07-11.6l.06 12.2l.07-148.7l.07 80.2l.07-14.8l.06 43.7l.07-58.8l.07 75.1l.06 81.4l.07-92.3l.07 49.4l.07 58.7l.06 30.8l.07-97l.07-22.9l.07-148.1l.06 173.7l.07 6.7l.07-45.2l.06-62.9l.07 146.8l.07-71.1l.07-108.5l.06-26.3l.07 170.6l.07 67.7l.07-111.5l.06 6l.07-92.4l.07 13.4l.06 59.2l.07 63.9l.07-83.6l.07 84.2l.06 6.1l.07-63.3l.07-144l.07 13.5l.06 23l.07 218.3l.07-158.7l.06 98.4l.07-88.7l.07-126.2l.07 110.5l.06 96.7l.07 24.5l.07-121.9l.07-38.8l.06 142.5l.07 8.3l.07-52.7l.06 30.7l.07-108.4l.07-6.3l.07 16.1l.06 101.8l.07 19.2l.07-39.5l.07-32.4l.06-51.5l.07 30.2l.07 54.2l.06-65.3l.07-15.9l.07 65.1l.07 60l.06-102.7l.07-35l.07 19.2l.07 121.8l.06-103.5l.07 23.3l.07 23.3l.06-6l.07 27.6l.07 8.8l.07-68.5l.06 21.9l.07-9l.07 90.1l.07-97.4l.06-95.9l.07 186.7l.07-81.6l.06 7.3l.07-20.3l.07-32l.07 93.4l.06-104.3l.07 15.3l.07 67.4l.07-65.8l.06-41.2l.07-15.3l.07 113.9l.06-73.3l.07 58.9l.07 53.7l.07 3.5l.06-133.5l.07 18.6l.07 73.3l.07-34.7l.06 46.8l.07-165.8l.07 172.6l.06-42.4l.07-58.3l.07 70.8l.07-73.3l.06 45.9l.07 24.2l.07-5.2l.07 140.5l.06-205.9l.07 24.1l.07 15.8l.06 14.1l.07 84.8l.07-76.3l.07 70l.06-24.1l.07-244.4l.07 231.3l.07-97.8l.06 41.2l.07 96l.07-3.2l.06-137.3l.07 93.3l.07-77.3l.07-55.5l.06 44.6l.07 146l.07 84l.07-270.4l.06 207.8l.07 4.1l.07-61.5l.06-13.6l.07-66.1l.07 89.2l.07 14.7l.06-120.8l.07 126l.07-111.1l.07 141.4l.06-251.2l.07 71.4l.07 79.9l.06 115.4l.07-111.5l.07-78l.07 126.6l.06 62.6l.07-110.3l.07 146.2l.07-183.3l.06-17.8l.07 41.3l.07 90.9l.06-157.3l.07-19.5l.07 13.5l.07 110.2l.06-64.1l.07 84.7l.07-134.9l.07 116.6l.06 54.7l.07-69.8l.07-54.2l.06 46.1l.07 4.6l.07 56.4l.07-73.7l.06 12.3l.07-11.2l.07 16.2l.07-5.5l.06 52.8l.07-185.4l.07 241.8l.06-130.3l.07-65.7l.07 204l.07-3.6l.06-169.6l.07-47.7l.07 23.3l.07 103.6l.06 10.7l.07 2.9l.07 49.4l.06-45.3l.07-107.3l.07 85.3l.07-48.5l.06-31l.07 103.5l.07-19.9l.07-39.4l.06 69.5l.07-63.4l.07-148.1l.06 152.5l.07 118.7l.07-135.8l.07 33.1l.06-11.7l.07 80l.07-86.2l.07 12.2l.06 32.7l.07 13.5l.07-42.2l.06 121.8l.07-150l.07 52.7l.07-107.5l.06 200.6l.07-94.6l.07-54.4l.07 2.4l.06 48.6l.07-97.6l.07-101.4l.06 133.1l.07 39.1l.07 14.6l.07 36l.06-6.3l.07-9l.07-61.5l.07 64.2l.06 31.4l.07-113.8l.07 213.8l.06-210.4l.07 32.4l.07-110.5l.07 65l.06 29.2l.07-12.2l.07-34.4l.07 57.3l.06-39.4l.07 64l.07-121.9l.06 119.4l.07-157.6l.07 100.7l.07 68.2l.06-11.3l.07-59.3l.07 145.4l.07 26.9l.06-113.7l.07 81.5l.07-134.7l.06 6.9l.07 65.4l.07-87.8l.07 192.3l.06-128.1l.07-68.2l.07-33.1l.07 55.7l.06-65l.07 74.8l.07 38l.06-31.8l.07-18l.07-111.2l.07 124.2l.06-8.2l.07-1.2l.07 137.7l.07-66.3l.06-46.1l.07 64.2l.07-38.5l.06 69.8l.07-77l.07-74.4l.07 63.9l.06-52.2l.07 68l.07 43.6l.07-63.9l.06 131.5l.07-70.3l.07-29l.06 16.2l.07-64.6l.07 79.3l.07-116.7l.06 6.5l.07 48.5l.07 53.9l.07 33l.06-121.2l.07 61l.07-2l.06-75.6l.07-37.8l.07 160.1l.07-58.2l.06 29.3l.07-59.4l.07 9.3l.07 45.5l.06-8.2l.07-46.8l.07-43.7l.06 29.8l.07-79.1l.07 165l.07-103l.06 108.9l.07-35.2l.07-92.4l.07 39.9l.06-132.3l.07 151.8l.07-30.5l.07-41.9l.06 45.1l.07 71.8l.07-86.8l.06 59l.07-20.6l.07 7.6l.07-54.6l.06 49.6l.07 41.2l.07 71.4l.07-6.8l.06-114.5l.07 68.8l.07-104.1l.06 56.5l.07-16l.07 22.1l.07 105l.06-174.3l.07 30.1l.07-10.6l.07 191.1l.06-84l.07-143l.07-5.1l.06 140.8l.07 90.8l.07-53.5l.07-125.2l.06 49.5l.07-88.2l.07 91.2l.07-34.6l.06-17.5l.07 44.4l.07 22.4l.06 12.3l.07-29.3l.07-15.6l.07-65.8l.06 63.9l.07 42l.07 36.7l.07-21l.06-80.7l.07 19.6l.07-84.4l.06 101.1l.07 19.5l.07-125.3l.07 28.6l.06-14.6l.07 166.9l.07-80.8l.07-20l.06 2l.07 107.2l.07-96.3l.06 173.3l.07-245.6l.07 91l.07-20l.06 16.4l.07 63.4l.07-119.6l.07-86.4l.06 196.5l.07-171.4l.07-12.1l.06 212.2l.07-5.6l.07-34.2l.07 10.8l.06-16.3l.07 22.5l.07-47.5l.07-55.1l.06-24.2l.07 69l.07 54.5l.06-105.9l.07-4.9l.07 97l.07-208.7l.06 231l.07-27.6l.07-55.8l.07 24.4l.06-93.3l.07 87.6l.07-28l.06-61.2l.07 184.5l.07-151.2l.07-35.6l.06 94.7l.07-90.3l.07 152.2l.07-15.4l.06 32.6l.07-274.9l.07 241.4l.06-95.9l.07 152.9l.07-181l.07 159.6l.06-43.9l.07-143.3l.07 182.8l.07-155.9l.06 163.4l.07-208.2l.07-42.6l.06 166.6l.07 83l.07-69.7l.07-43.7l.06 160.2l.07-97l.07-57.1l.07-19l.06 162.9l.07-129.4l.07-11.2l.06-71l.07 56.7l.07-53.8l.07 279l.06-144.3l.07 26.8l.07-134.5l.07 29.5l.06 44.8l.07-137.7l.07 104.6l.06-35l.07 25.4l.07 25.2l.07 102.2l.06-71l.07-164.9l.07 106.5l.07 66l.06 15.3l.07-3.5l.07-29.8l.06-18.5l.07-210.1l.07 173.2l.07-95.2l.06 239.5l.07-105.9l.07 124l.07 17.6l.06-169.6l.07 143.5l.07-131.9l.06 67l.07-144.6l.07-3.5l.07 198l.06-166.7l.07 55.3l.07-37.9l.07 74.2l.06-124.5l.07 17.1l.07 73.8l.06 110.2l.07-176.4l.07-7.6l.07 57l.06 116.2l.07-34.3l.07-313.2l.07 323.9l.06-103.5l.07 245.1l.07-275.6l.06 31.1l.07-12.3l.07 120.3l.07-118l.06 35.9l.07 75.5l.07 4.5l.07-172.9l.06 13.9l.07 104.3l.07-3.6l.06 121.2l.07-292.5l.07 101.2l.07-78.4l.06-41.3l.07 193.1l.07-138.1l.07 166.1l.06-52.7l.07-3.6l.07-66.2l.06-10.9l.07 131.2l.07-123.4l.07 83.3l.06-8.9l.07-18.9l.07-56.9l.07 74.5l.06-42.2l.07 89.8l.07 47.4l.06-22.4l.07-98.9l.07 12.1l.07-5.3l.06 107.7l.07-290l.07 191.3l.07-48.6l.06 14.3l.07 60.1l.07 27.3l.06 57.9l.07-70.7l.07-120.6l.07 99.2l.06 24.2l.07-59.6l.07-58.9l.07 112l.06 36.8l.07 52.4l.07 23.4l.06-174.3l.07 5.2l.07 68l.07-72.4l.06-13.9l.07 97.8l.07-74.7l.07-41.9l.06 167.7l.07-96.3l.07-16l.06 135.6l.07-137.8l.07-68.9l.07-60.5l.06 241.5l.07-100.5l.07-88.5l.07 119.5l.06-185.8l.07 229.2l.07-76.7l.06 24.5l.07 92.6l.07-101.7l.07-17.1l.06 77.3l.07-42.5l.07-103.9l.07 6.8l.06 28.6l.07-18.5l.07-42l.06 105.7l.07 38.9l.07-58.8l.07-3.7l.06 58.1l.07-64.1l.07-5.4l.07-53.9l.06 143.9l.07-157.2l.07 103.2l.06 86.9l.07-179.1l.07 41l.07 28.3l.06 91.1l.07-143l.07 135.3l.07 2.9l.06-71.5l.07-73.5l.07 65.7l.06-5.8l.07 74.1l.07-132.2l.07 92.5l.06-69.6l.07 46.3l.07 163.8l.07-92.5l.06 29l.07-32.5l.07 2l.06-91.4l.07-76.4l.07 94.5l.07 22.7l.06-66.4l.07 105.5l.07-43.3l.07-83l.06-21.2l.07 113.5l.07 .2l.06-209.3l.07 161.4l.07-88.9l.07 105.1l.06 88.1l.07-160.6l.07-1.1l.07-4.8l.06 22.8l.07 86.1l.07 48.3l.06-114.2l.07 60.6l.07-29.2l.07-85.5l.06 224l.07-6.9l.07-17.8l.07-54.1l.06-42.6l.07-30.4l.07 80.6l.06-140l.07 104.1l.07-75.1l.07-64.3l.06 36.9l.07 102.1l.07-17.1l.07-41l.06-23.1l.07 142.9l.07-5l.06-36.8l.07-119.2l.07 62l.07 22.5l.06 95.2l.07-3.1l.07-124.8l.07 102.9l.06-145.7l.07 130.7l.07-74.5l.06-40l.07 12.5l.07 41.7l.07-18l.06 21.8l.07-36.6l.07 54.5l.07-97.2l.06-14.1l.07 1.4l.07 64.7l.06-47.4l.07 141.1l.07-45.3l.07-75l.06 205.7l.07-43l.07-165.3l.07 37.3l.06 32.5l.07-4.3l.07-122.2l.06 74l.07 58.9l.07 80l.07-114.6l.06 90.8l.07-67.8l.07 40.3l.07-145.5l.06 142.3l.07-48.9l.07-103.7l.06 106.5l.07 32.5l.07 77.2l.07-229.3l.06 83.3l.07 36.6l.07-17.8l.07-43.8l.06 13.4l.07 32.6l.07-60.1l.06 40.6l.07-113.7l.07 219.5l.07-54.2l.06-79.4l.07-4.1l.07 96.1l.07-132.1l.06 27.3l.07-55.9l.07 142.7l.06-106.9l.07 93.1l.07-32.4l.07-29l.06 86l.07-8l.07-149.1l.07 196.1l.06-109.5l.07-57.2l.07-11.6l.06 121.1l.07 60.5l.07-152.4l.07 119.3l.06-39.3l.07 52.9l.07 48.6l.07-56.5l.06-24.6l.07 108.8l.07-228.9l.06 120.3l.07-135.7l.07 34.5l.07 123.1l.06-38.2l.07 30.4l.07-30.9l.07-8.3l.06-21.1l.07-3.2l.07 19.1l.06 55.9l.07 67.6l.07-127.2l.07 30.2l.06-61.9l.07 91.4l.07-62.6l.07 87.4l.06-96.3l.07 46.7l.07-49.3l.06 113.7l.07-142.1l.07 65.9l.07-28.3l.06 17.9l.07 4.9l.07-7.5l.07 3.9l.06 163.7l.07-234.3l.07 1.8l.06-54.2l.07 89.4l.07 2.8l.07 37.4l.06 95.7l.07-116.6l.07-19.3l.07-10.8l.06 90.1l.07-17.7l.07 75.3l.06-65.2l.07 97.6l.07-190.1l.07 69l.06 58.8l.07-170.9l.07 99.6l.07 69l.06-102.1l.07 67.4l.07 101.9l.06-141.6l.07-102l.07 229l.07-90.5l.06-80.4l.07 28.5l.07-42.7l.07 80.9l.06-110l.07 91.4l.07 7.2l.06-34.5l.07 48.5l.07 2.2l.07 10.3l.06 25.6l.07-6.7l.07 43.3l.07-133.6l.06 17.5l.07 160l.07-107.1l.06-34.1l.07 74.1l.07-100.1l.07 70.3l.06-42.7l.07 68.4l.07-80.1l.07 2.9l.06-19.7l.07-80.1l.07 98.7l.06 7.6l.07-1l.07-13.2l.07 170.1l.06-148.9l.07-46.9l.07-104.2l.07 232.5l.06 22.9l.07 20.4l.07-241.3l.06 298.9l.07-279l.07 115.6l.07 30.7l.06 58.3l.07-136l.07 125.8l.07-43.7l.06-138.6l.07-21.8l.07 121.6l.06-78.9l.07 50.8l.07-23.8l.07 125.5l.06-111.8l.07 2.9l.07-10.6l.07 .8l.06 18.2l.07-29.9l.07 91.9l.06-78.4l.07 87.6l.07-70.6l.07 38.6l.06 18.7l.07-8.9l.07-205.2l.07 355.8l.06-141.2l.07-76.5l.07-10.7l.06 31.1l.07-62.6l.07 133.3l.07 17.7l.06-88.7l.07-28l.07 79.2l.07-112.7l.06 200.3l.07 10.1l.07-91.2l.07-95l.06-21.1l.07 57.6l.07-95.8l.06 67.6l.07 44.4l.07-194.6l.07 160l.06 79.8l.07-78.4l.07 96.9l.07-151.5l.06 93.5l.07 107.8l.07-214.1l.06 61.6l.07 63.4l.07-46.9l.07-36l.06 49.5l.07-18.7l.07-58.6l.07 103.9l.06-28.3l.07-126.5l.07 146.6l.06 27l.07-54l.07-62.4l.07 123.7l.06-39.1l.07 26.7l.07-165.5l.07 36l.06 62.6l.07-56.1l.07 176.5l.06-42.8l.07-73.5l.07-72.5l.07 196.5l.06-126.8l.07 43.6l.07 0l.07-28.4l.06 223.4l.07-316.1l.07 140.1l.06-63.8l.07 102.5l.07-28.7l.07 74.1l.06-225.8l.07 143.1l.07-46.4l.07-20.5l.06-115.9l.07 186.4l.07-64.1l.06 67.9l.07-107.9l.07 27.9l.07-45.6l.06 4.2l.07 145.9l.07-31.2l.07-57.9l.06-26.4l.07 48l.07-50.6l.06-12.7l.07 86l.07-32.3l.07 31.9l.06 52.9l.07-155.5l.07-56.4l.07 141.2l.06-133.5l.07 7.8l.07 154.3l.06-18l.07 14.4l.07-105.3l.07-25.9l.06 128.4l.07 71.5l.07 91.8l.07-287.8l.06 61.6l.07 27.3l.07 115.4l.06-158.2l.07 65.8l.07-25.3l.07-6.1l.06 40.9l.07 34.2l.07-74.1l.07-30.4l.06-81.6l.07 139.4l.07 53.6l.06-203.5l.07 56.2l.07 126.9l.07-35l.06-22.7l.07-95.8l.07 101.1l.07-101.4l.06 83.9l.07 68.3l.07-65.8l.06 131.9l.07 63.3l.07-222.7l.07 99l.06-256.8l.07 288.3l.07-89.2l.07 120.2l.06-93.9l.07-78.1l.07 90.5l.06-100.9l.07 35l.07-16.1l.07 95.4l.06-46.2l.07 67.1l.07-20.5l.07-16.3l.06-72.3l.07-71.6l.07 203l.06-198.4l.07 265.8l.07-16.7l.07-265.3l.06 35.2l.07 71.8l.07-2.1l.07 13.1l.06 155.7l.07-201.3l.07 81.9l.06 115.7l.07-184.3l.07-15.9l.07-42.5l.06 19.9l.07 91.8l.07-66.3l.07 50.1l.06-13l.07-119.6l.07 152.3l.06-6l.07 15.6l.07 76.1l.07-36.4l.06-171.6l.07 70.1l.07 84.8l.07-42.8l.06-81.8l.07 56.9l.07-105.9l.06 189.6l.07-88.2l.07 9.6l.07 70.3l.06-85.7l.07-163.4l.07 104.6l.07 222.6l.06-150l.07-33l.07-40.8l.06 56.4l.07 23.9l.07 51.2l.07-149.3l.06 107.6l.07-112.4l.07 98.1l.07-13.1l.06 77.5l.07 36.5l.07-112.8l.06 32.8l.07-105.6l.07 189.1l.07-3.6l.06-165.6l.07 136.9l.07 14.9l.07 69.8l.06-81.1l.07-104.7l.07-23.3l.06 195.7l.07-154.1l.07 90.8l.07-16.9l.06-91.2l.07-137.8l.07 160.3l.07-23.7l.06 1.5l.07 18.8l.07-37.3l.06 95.9l.07 28.1l.07-4.3l.07-60.6l.06 57l.07-70.3l.07 25.5l.07-116.5l.06 271.1l.07-250.5l.07 34.4l.06 118.1l.07-25.6l.07-82.6l.07 77.1l.06-12.3l.07-47l.07-44.6l.07-37l.06 126l.07 24l.07-56.9l.06-69.4l.07 34.8l.07-4.8l.07-139.1l.06 182.9l.07-39.9l.07-100.3l.07 102.9l.06 83.1l.07-17.8l.07-10.3l.06-37l.07-22.3l.07 149.7l.07-54l.06-24.3l.07 43.8l.07 69.4l.07-53.3l.06-159l.07 164.7l.07-202.4l.06 107.8l.07-6.8l.07-120.1l.07-6l.06 218.3l.07-153.4l.07 28.4l.07 92l.06-26.1l.07 41.3l.07-180.5l.06 91.1l.07 125.9l.07-45.3l.07-43.9l.06 54.4l.07-140.8l.07 57.9l.07 34.5l.06 98.9l.07-4.5l.07-112.8l.06 136.5l.07-192.6l.07 89.8l.07-104.4l.06 49.5l.07-19.7l.07 13.3l.07 75l.06-4.1l.07-16.3l.07-35.5l.06-46.1l.07 70.4l.07-109.1l.07 123.6l.06 50.5l.07-28.5l.07-7.4l.07-144l.06 40.6l.07 30.2l.07 34l.06-25.4l.07 105l.07-51.1l.07-74.3l.06-32.9l.07-10.6l.07 86.2l.07 6.5l.06 56.3l.07-60.2l.07 7.2l.06 116.8l.07-146.5l.07 101.7l.07-70.1l.06-39.7l.07-94l.07 222.8l.07-116.1l.06-11.6l.07-85.3l.07-30.2l.06 138l.07 39l.07-64l.07-7.8l.06 161.4l.07-147.8l.07 49.6l.07-144.5l.06 72.9l.07 25.5l.07-127.3l.06 156l.07-22.2l.07-12.7l.07 150.1l.06-187.3l.07-9.3l.07 18.9l.07-25.3l.06 158.3l.07-96l.07 27.4l.06 3.6l.07 68.2l.07-19.9l.07-55.5l.06 67l.07-50.1l.07 56.6l.07-113.9l.06-109.2l.07 113.4l.07 35.3l.06 90.5l.07-46.6l.07-95.4l.07 34.4l.06 27.9l.07 114.4l.07-51.8l.07-104.8l.06 96.7l.07-127l.07 49.9l.06 76.1l.07-196.4l.07 97.8l.07 60.3l.06 74.3l.07-79.6l.07-62.7l.07-55.9l.06 64.5l.07 43.8l.07-31.7l.06 102.5l.07-76.6l.07-64.5l.07 34.5l.06-27.7l.07 79.3l.07-73l.07 51.4l.06 54.8l.07 45.9l.07-293l.06 246.1l.07-28.5l.07-45.7l.07 66.9l.06 28.2l.07-108.6l.07-8.5l.07-3.6l.06 8.2l.07 69.2l.07-72.2l.06-4.2l.07-32l.07 84.4l.07 55.9l.06-146.9l.07 6.1l.07 79.4l.07 141.7l.06-93.7l.07-129.9l.07 118.7l.06-9.2l.07-114l.07 67l.07 6.3l.06 51.6l.07-72.2l.07 9.7l.07-33.3l.06 170.1l.07-209.4l.07-45.2l.06 93.1l.07 61.9l.07-110.6l.07-4.3l.06 137.7l.07-44.9l.07-18.9l.07 77.2l.06-54.1l.07-73.2l.07-79.3l.06 270l.07-170.7l.07 146.1l.07-59.8l.06-87.2l.07 117.1l.07-96.7l.07 56.3l.06-81.1l.07 145.1l.07-235.2l.06 205.9l.07-20.4l.07 39.9l.07-176.8l.06 62l.07 23.5l.07-98.2l.07 185.5l.06-19.1l.07-82.8l.07 75.7l.06-34.2l.07-8.2l.07 6.2l.07-38.4l.06 96.5l.07-151.1l.07 72.2l.07 51.2l.06-12.5l.07-56.5l.07 27.3l.06-44.1l.07-64.4l.07 100.9l.07 110.1l.06-132.8l.07 12.6l.07-0l.07 21.9l.06 100.6l.07-94.1l.07-30.7l.06 23.5l.07-120.4l.07-9.8l.07 253.3l.06-271.2l.07 219l.07-50.6l.07-51.5l.06-92.3l.07 45.7l.07 138.9l.06-80.7l.07-28.5l.07 100.5l.07-91.9l.06 120.6l.07-191.2l.07 101.8l.07 54.6l.06-156.1l.07 38.2l.07-43.5l.06 198.9l.07 92.1l.07-180.6l.07 107l.06-121.6l.07 3.1l.07 20.2l.07-8.8l.06 98.7l.07-146.6l.07-55.7l.06 189.5l.07-10.5l.07-82.3l.07 82.3l.06-20.2l.07-34.1l.07 68.5l.07 20.9l.06-182.5l.07 289.3l.07-282.6l.06 116.7l.07-103.7l.07 81l.07 72l.06-139.3l.07 44.5l.07 39.3l.07-201.4l.06 28.9l.07 202.9l.07-72.5l.06 20.4l.07 31.5l.07-94l.07-20.8l.06-20.6l.07 157.8l.07-120.9l.07-48.7l.06 230.8l.07-118.4l.07-176.6l.06 102.2l.07 152.1l.07-96.9l.07 9.2l.06 40.2l.07-52.4l.07 108.7l.07-29.4l.06-14.4l.07-121l.07-42.5l.06 112.9l.07 13.4l.07 83l.07-12.6l.06-110.7l.07-64.6l.07 104.8l.07 21.1l.06-8.4l.07-84.5l.07-45.2l.06 88.9l.07 24.3l.07-42.7l.07 57l.06-36.1l.07-174.2l.07 136.8l.07 140.7l.06-245.8l.07 106.6l.07 133.1l.07-70.3l.06-75.5l.07-44.1l.07 215.9l.06-244.8l.07 30.7l.07 37.9l.07 53.1l.06 126.9l.07-144.3l.07 66.9l.07-81.6l.06 56.5l.07 55.5l.07-230.7l.06 210.1l.07 40.3l.07-124l.07 93.3l.06-127.6l.07 116.5l.07-97.4l.07 71.9l.06-84.4l.07 173.4l.07-159.2l.06 15.8l.07-14l.07 17.4l.07-84.7l.06 7.5l.07 133.1l.07-45.6l.07 59.2l.06-21.2l.07-159.3l.07 193.2l.06-130.9l.07-52.2l.07 62.8l.07-28.2l.06 151.9l.07-45.3l.07 30.3l.07-158.8l.06 107.8l.07 46.9l.07-49.6l.06-84.2l.07 170.4l.07-146.8l.07 46.1l.06 22l.07-37.7l.07 73.4l.07-194.5l.06 247.9l.07-125.6l.07 127.8l.06-61.6l.07 15.4l.07-121.3l.07-7.7l.06 99.3l.07-26.3l.07-15.7l.07 19l.06-65.5l.07 71.2l.07 22.5l.06-47.3l.07-7.2l.07 5.1l.07-9.9l.06-51.3l.07-19.6l.07 173.4l.07-19l.06-202.1l.07 172.7l.07 119.5l.06-135.7l.07-38.3l.07-53.6l.07 53.1l.06-13.4l.07 24.7l.07-60.2l.07 186.3l.06-113.8l.07-17.3l.07 7l.06-67.4l.07 167.6l.07-174.1l.07 30.7l.06 221.9l.07-152.6l.07-7.2l.07 146.4l.06-151.7l.07 41.9l.07 .4l.06 93.5l.07-155.6l.07-73.8l.07 2.3l.06 7.4l.07 55.5l.07-34.6l.07 159.8l.06-60.2l.07-23l.07-15.5l.06 40l.07-29.2l.07-67.5l.07 150.4l.06-131.1l.07 45.2l.07-33.1l.07 14.8l.06-8.2l.07 44.5l.07-91.4l.06-5.1l.07 26.3l.07 102.5l.07-205.3l.06 134.6l.07-119.7l.07 83.6l.07 14.8l.06-43.8l.07 169.3l.07-130.4l.06 26.5l.07 50.4l.07-45.6l.07 113.3l.06-120.9l.07 117.5l.07-127.1l.07 3.5l.06 2.3l.07 36.3l.07-83.2l.06 33.7l.07 77.1l.07-38.8l.07-136.2l.06 170.8l.07 46l.07-245.6l.07 301.2l.06-45.3l.07-182.1l.07 46.3l.06 8l.07-19.4l.07 101.5l.07-18.3l.06-34.7l.07-92.2l.07 131.5l.07 61.5l.06-32l.07-163.5l.07 107.8l.06 80.7l.07-108l.07-30.9l.07 106.6l.06-9.9l.07 23.8l.07 45.7l.07-85.8l.06-77.4l.07 7.8l.07 47.5l.06 92.2l.07-106.3l.07-61.6l.07-4.8l.06 113.1l.07 24.6l.07-130l.07 57.8l.06-91.2l.07 36.2l.07-15.2l.06 74.9l.07 86l.07-113.8l.07 47.6l.06-61.2l.07 55.8l.07-55.5l.07 85l.06-48.4l.07-210l.07 117.4l.06 184.7l.07-107l.07 2.6l.07 3.7l.06 14.6l.07-12.7l.07 204.5l.07-227.4l.06-64.6l.07 211.6l.07-210.2l.06 187.9l.07-63.1l.07 36.2l.07-107.9l.06 62.3l.07-55.6l.07 173.4l.07-132.2l.06-60.7l.07 59.4l.07 69.7l.06-75.7l.07-106.5l.07 45.5l.07-18.8l.06 146.2l.07-60.1l.07 38.1l.07-27.4l.06 54.1l.07-18.1l.07-139.7l.06 175.6l.07-131.1l.07 58.2l.07 29.4l.06-90.2l.07 37.3l.07-79.9l.07-51.3l.06 97.2l.07 71.2l.07 17.1l.06 71.9l.07-118.6l.07 47l.07-192.4l.06 188.5l.07 5.7l.07 22.1l.07-58.7l.06 32.3l.07 82.8l.07-199l.06 43.9l.07-132.6l.07 117.8l.07 46.1l.06-65.1l.07 68.7l.07-81.2l.07 78.1l.06-18.3l.07 142.7l.07-95.7l.06-52l.07 14.4l.07 14.3l.07-85.7l.06-1.9l.07 169.5l.07-92l.07-28.3l.06-112.4l.07 124.4l.07 52l.06-24.3l.07-91.4l.07 73.9l.07-56.7l.06-13.1l.07 93.1l.07-91.2l.07 129.8l.06 24.8l.07 36.1l.07-98.6l.06-40.8l.07 18l.07-142.2l.07 149.3l.06-35.6l.07 8.5l.07-68.9l.07 172.4l.06-98.1l.07 36.5l.07-17.2l.06 45.2l.07-41.9l.07 97.6l.07-53.1l.06-108.2l.07 107l.07-18.5l.07-47.5l.06-11.8l.07-47.3l.07 139.4l.06-38.3l.07 71.9l.07-119.4l.07 26l.06-7.9l.07 86.9l.07-120.9l.07 128.8l.06 4.9l.07-49.3l.07 24.7l.06-99.7l.07 30.2l.07 60.1l.07-120.6l.06 23.7l.07 62.8l.07 37.5l.07 18.4l.06-90.9l.07 21.3l.07-22.9l.06-4.8l.07 5.4l.07 66.3l.07-70.1l.06 26.4l.07 148l.07-115.8l.07-112l.06-88.5l.07 196l.07 5.7l.06-62.5l.07 53.2l.07 79l.07-13.3l.06-215.6l.07 143.5l.07-22.9l.07-10l.06-11.2l.07-24.4l.07 41.9l.06 33l.07-12.9l.07-9.5l.07-117.9l.06-4.6l.07 66.9l.07-68l.07 153.4l.06 19.1l.07 99.8l.07-212.1l.06 28.8l.07 113.9l.07-121.6l.07 57.8l.06-36.4l.07-53.3l.07 25.7l.07 46.9l.06 24.8l.07-96.7l.07 144.7l.06-99.1l.07-157.1l.07 84.7l.07 198.8l.06-140l.07 52.6l.07-1.7l.07-76.8l.06 45.9l.07 53.6l.07-86.1l.06 121.8l.07-111l.07 76.8l.07 10.3l.06-50.1l.07-36.1l.07 102.3l.07-149.8l.06 123.7l.07-67.1l.07-93.2l.06 146.9l.07-44.4l.07-28.6l.07-11.9l.06-9.3l.07 57.9l.07 4.8l.07-9.9l.06 45.8l.07 90.4l.07-144.2l.06 19.9l.07-166.6l.07 200.1l.07 51.1l.06-39.4l.07-5.9l.07-71.6l.07 67.6l.06-70.5l.07 77.2l.07-4.1l.06-45.8l.07 4.1l.07 102.1l.07-126.3l.06 45.8l.07-145.8l.07 144.5l.07-35l.06 86.4l.07-101.3l.07 74l.06-49.6l.07-46.4l.07 150l.07 50.8l.06-123.7l.07-25.7l.07-29.2l.07-49.4l.06 116.1l.07-6.3l.07 45.1l.06-99.2l.07-45l.07-111.2l.07 124.8l.06 97.9l.07-4.3l.07-121.5l.07 5.2l.06 77.4l.07 76.5l.07-85.5l.06 97.1l.07-116.1l.07 62.7l.07 36.7l.06-57.4l.07-89.7l.07 48.3l.07-2.4l.06 117.6l.07-124.7l.07 151.5l.06-66.7l.07-56.1l.07-130.3l.07 195.5l.06-84.9l.07 54.5l.07 110.2l.07-171.8l.06 33.2l.07-44l.07 107.5l.06-47.5l.07-43l.07 104.7l.07-80.9l.06 54.5l.07-42.5l.07 29.3l.07-33.4l.06-21.2l.07 74.4l.07-155.1l.06 177.9l.07-106.9l.07-100.1l.07 33.7l.06 111.5l.07-46.3l.07 95.6l.07-87.9l.06 93.4l.07-146.9l.07 56.2l.06 68.6l.07-97.6l.07 219.6l.07-182.2l.06 71.3l.07-15.4l.07-100.8l.07-70.1l.06 14.8l.07 41.8l.07 60.6l.06-46.3l.07 66.1l.07-1.6l.07 10l.06-79.4l.07 42.5l.07 114.7l.07-113.7l.06-65.8l.07 48.8l.07 79.6l.06-44.3l.07 1.9l.07-61.5l.07 21.4l.06 59l.07-80.6l.07 187.7l.07 2l.06-178.5l.07 182.5l.07-235.3l.06 85.3l.07 9.5l.07-75.4l.07-52.7l.06 131.4l.07-25l.07 95.7l.07 20.3l.06 2.1l.07-179.4l.07 118.8l.06-134l.07 185l.07-17.5l.07-71.3l.06-58l.07 131.3l.07-27.3l.07 15.7l.06-174.8l.07 98l.07-4l.06 80.3l.07-37.8l.07 42.6l.07-19.4l.06-22.7l.07 131.9l.07-57l.07 29.2l.06-20.8l.07 33.4l.07-202.7l.07 98.1l.06 65.8l.07-225.6l.07 172.1l.06-152.7l.07 137l.07-20.8l.07-39.7l.06-68.6l.07 110.6l.07-111l.07 168.6l.06-211.4l.07 125.7l.07 17.2l.06 22.2l.07-32l.07-22.9l.07 26.1l.06 112.2l.07-231.4l.07 178.5l.07 17l.06 8.5l.07-118.2l.07 104.1l.06-35.2l.07-127.7l.07 47l.07 62l.06 69.7l.07-65.1l.07-40l.07 103.4l.06-17.9l.07-91.7l.07 61.3l.06-120.2l.07 192.4l.07-55.2l.07 18.5l.06-76.6l.07 68.2l.07-113.5l.07-63.1l.06 131.3l.07-32.9l.07-117.2l.06 69.8l.07 135l.07-48.1l.07-40.9l.06 100.5l.07-118l.07 62.7l.07-36.5l.06 47.8l.07 60l.07-131.3l.06 33.5l.07 1.7l.07 36.3l.07-62.6l.06 66.6l.07-41.5l.07-99.3l.07 136.7l.06-55.9l.07 59.1l.07-50l.06 36.4l.07-68.6l.07 95.1l.07-16.4l.06-135.9l.07 98.2l.07-109.5l.07 134.3l.06 62.2l.07-70.9l.07-31.3l.06 42l.07 81.6l.07 20.7l.07-238l.06 177.6l.07-88.5l.07-32.1l.07 4.5l.06 27.7l.07 143.1l.07-16.3l.06-132.2l.07 75.5l.07 54.2l.07-129.8l.06-11l.07 49.3l.07 96.9l.07-116.4l.06 84l.07-50.9l.07-28.8l.06 4.3l.07 29.4l.07-9.7l.07-51.1l.06 36.5l.07-1.2l.07 64.1l.07-54.9l.06-160.6l.07 196.3l.07 6.2l.06-72.7l.07 105.4l.07-118.3l.07 87.5l.06-56.7l.07-10.5l.07-4.3l.07-49l.06 91.4l.07 37.5l.07-54.2l.06-145.8l.07 72.3l.07 141.2l.07 18.5l.06-72.7l.07 86.7l.07-10l.07-166.5l.06 4l.07 7l.07-47.6l.06 252.7l.07-150.4l.07 54.8l.07-115.6l.06 140l.07-98.7l.07-29.6l.07-9l.06-42.2l.07 6l.07 95.5l.06 114.8l.07-135.4l.07-75l.07 22.2l.06 220.4l.07-73.6l.07-109.2l.07 5.4l.06 31.4l.07-1.8l.07 63.5l.06-90.3l.07-86.8l.07 116.6l.07 122.2l.06-68.8l.07-83.7l.07-2.2l.07 90.8l.06 6.9l.07-71.7l.07-7.1l.06 8.3l.07 11.9l.07 .9l.07 47.1l.06 83.1l.07-45.4l.07-59.1l.07-80.2l.06 115.2l.07-204.3l.07 152.8l.06 44.5l.07-107.3l.07-31.7l.07-19.8l.06 43.6l.07 20.6l.07 62.7l.07-174.5l.06 128.9l.07 70.2l.07-79.1l.06 157.5l.07-79.8l.07-15.3l.07-35.2l.06-27.6l.07 5.3l.07 5.4l.07 121.1l.06-251l.07 185l.07-119.4l.06 67l.07 7.7l.07 28l.07-13.3l.06 107.1l.07-85.8l.07-177.7l.07 105.1l.06 87.9l.07-12.1l.07 5.3l.06-21l.07-103.1l.07 56.2l.07 71.9l.06 113.2l.07-266.2l.07 37.9l.07-91l.06 143.2l.07 53l.07 18.8l.06 29.7l.07-27.2l.07-28.3l.07-50.2l.06-7.4l.07 33.9l.07 20.2l.07-39.8l.06 98.4l.07 .3l.07-117.8l.06 94.9l.07-102.3l.07-29.7l.07-19.9l.06 17.6l.07 152l.07-75.8l.07-158l.06 89l.07 93.5l.07-113.7l.06 82.2l.07-81.6l.07 84l.07 .8l.06 81.7l.07-47.5l.07-135.7l.07 3.4l.06 245.6l.07-185.9l.07-73.7l.06 169.7l.07-101.5l.07-13.3l.07 170.7l.06-94.5l.07-20.7l.07 23.6l.07 82.4l.06-86.8l.07-47.3l.07 9.3l.06 104.8l.07-59.3l.07 57.7l.07-30.4l.06-80.2l.07 72.1l.07 4.2l.07-2.7l.06-28.4l.07-35.7l.07 47.6l.06 17.9l.07 42.1l.07-95.1l.07-25.9l.06 99.3l.07-26.8l.07-57.8l.07 67.5l.06 15.3l.07-106.5l.07-39l.06 113l.07 116.8l.07-311.6l.07 278.5l.06-237.1l.07 110.3l.07-25.5l.07 25.1l.06 206.3l.07-236.1l.07 19.1l.06 14.6l.07 122.2l.07-152.7l.07 65.8l.06-37.7l.07-48l.07 124.6l.07-3.9l.06-111.3l.07 106.9l.07-15.8l.06-3.2l.07-74l.07 63.7l.07-34l.06-80.4l.07 55.8l.07 3.9l.07 38l.06 24.2l.07 76l.07-89.1l.06-90.7l.07-52.8l.07 168.5l.07-40.9l.06-34l.07 14.1l.07 49l.07-91.2l.06 95.7l.07 15.1l.07-24.2l.06-11.3l.07 37.9l.07-64.7l.07 61.9l.06 52.2l.07-123.9l.07 31l.07-33.5l.06-41.7l.07 174.8l.07-87.4l.06 70.5l.07-102.5l.07 107.8l.07-99.4l.06-82.8l.07 165.4l.07-37.4l.07-65l.06-35.6l.07 52l.07 36.9l.06-160.9l.07 154.8l.07 40.6l.07-78.3l.06 61.1l.07-65.9l.07 85.3l.07-92.9l.06 143.5l.07-126.2l.07-35.8l.06 34.5l.07 15.4l.07 24.3l.07-30.4l.06 57.1l.07-56.4l.07-90l.07 125.9l.06 84.2l.07-95.1l.07 65l.06-67.8l.07 92.1l.07-215.2l.07 108.5l.06-47.6l.07 42.4l.07-53.5l.07 74.3l.06 11.2l.07 33.7l.07-21.4l.06-100.9l.07-10.6l.07 106.4l.07 71.1l.06-170l.07 124.4l.07-12.6l.07-30.7l.06-86.5l.07 41.7l.07 44.6l.06 84l.07-105.4l.07-78.1l.07 68.6l.06-37l.07 41l.07 22.2l.07-27.8l.06 10.7l.07-28.3l.07 12.6l.06 19.6l.07-5.6l.07-17.1l.07-1.9l.06-39.2l.07 2l.07 38.2l.07 156.2l.06-195.3l.07 37.7l.07-79.6l.06 146.5l.07-102.2l.07 212.5l.07-161.3l.06 26.4l.07-83.5l.07 204.7l.07-195.2l.06 166.7l.07-81.8l.07 12.7l.06-83.7l.07 69.9l.07-38.6l.07 58.2l.06-16.2l.07 21.5l.07-83.2l.07 73.1l.06 24.2l.07-115.9l.07 17.5l.06-81.5l.07 115.5l.07-59.6l.07 97.4l.06-112.2l.07-34.1l.07 2l.07 223.4l.06-40.2l.07 55.3l.07-210.5l.06-13.1l.07 111.5l.07 35.8l.07-17.2l.06 20.4l.07-21.8l.07 12.8l.07-106.8l.06-90.3l.07 151.4l.07-66.7l.06-51.2l.07 8.7l.07 113.2l.07-51l.06-56.5l.07 13.8l.07-19.3l.07 143.6l.06-46.7l.07-60.8l.07 74.9l.06-156.6l.07 199.2l.07 2.6l.07-15.8l.06-37.5l.07-27.9l.07-56.1l.07-52.2l.06 182.5l.07-46.1l.07-62.6l.06 95.4l.07-75.7l.07 134.8l.07-122.3l.06 33.4l.07-39.8l.07 107.5l.07-20.9l.06-16.3l.07 57.7l.07 36.7l.06-53l.07-117.6l.07 54.5l.07-33.1l.06 22.1l.07-125.8l.07 152.1l.07-22.1l.06-67l.07 50.6l.07-12.1l.06-16.8l.07 102.9l.07 15.9l.07-38.6l.06-108.5l.07 172.9l.07-34l.07-100.8l.06 171.7l.07-134.9l.07-34.2l.06 16.2l.07 97l.07-63.4l.07-139.3l.06 103.1l.07 56.4l.07-59.1l.07 68.9l.06-25.1l.07-10.1l.07-17.1l.06 20.8l.07-62.9l.07 136.3l.07-17.7l.06-143.5l.07 95.1l.07-20.1l.07 22.8l.06 .3l.07 44.2l.07-84.1l.06 9.1l.07 61.5l.07-68.3l.07-71.8l.06 209.2l.07-200.3l.07 108.8l.07-14.6l.06-46.8l.07-35.7l.07 43.5l.06-27.4l.07 130.5l.07-2.5l.07-16.4l.06-47.7l.07 45.6l.07 6.5l.07-127.7l.06 62.9l.07 79.7l.07-179.3l.06 .5l.07 5.6l.07 78.5l.07 90.9l.06-9.7l.07-89.8l.07-27.2l.07 3.8l.06 81.1l.07-121l.07-70.5l.07 137.2l.06-70.6l.07 69.9l.07 69.5l.06-16.7l.07-19.5l.07-64.6l.07-19l.06 99.4l.07 30.9l.07-8.4l.07-52.5l.06 10.9l.07-27.7l.07-63.8l.06 147.9l.07-210.6l.07 158.7l.07-115.6l.06 86.8l.07-38.8l.07 91l.07-111.7l.06-139.1l.07 300.2l.07-78.4l.06 40.9l.07-105.2l.07 83.1l.07-97.6l.06 6.8l.07 10l.07 79.8l.07-117.1l.06 85.5l.07 4.8l.07-85.4l.06 105.3l.07-117.3l.07 26.9l.07 13.6l.06 50.3l.07 33.6l.07-69.7l.07 110.5l.06-100.5l.07 83.6l.07-145.5l.06 74.5l.07-63.7l.07 141.7l.07-70l.06 44.6l.07-32.6l.07 68.7l.07-146.7l.06 123.5l.07-89.8l.07-6.3l.06-58.1l.07 53.1l.07 159.3l.07-61.5l.06 30.9l.07 3.5l.07-15.3l.07-123.9l.06 4.1l.07 24.9l.07 97l.06-39.2l.07-79.3l.07 23.6l.07 99.2l.06-89.4l.07 4.6l.07-103.7l.07 128l.06-50.9l.07 6.8l.07-54l.06 189.4l.07-174.8l.07-18.8l.07 66.7l.06 52.6l.07-42.2l.07 24.9l.07-41.3l.06-66.7l.07 71l.07 48.8l.06-84.5l.07 71.5l.07 88.2l.07-128.9l.06-112.8l.07 159.8l.07-42.5l.07 113.8l.06-90.8l.07 15.1l.07-38.9l.06 14.3l.07 13.9l.07-69.1l.07 101.6l.06 27.9l.07-149.8l.07 35.5l.07 105.9l.06 20.1l.07-4.7l.07-149.6l.06 19.3l.07 31l.07-31.1l.07 9.7l.06 77.4l.07-79.9l.07 6.9l.07 54.3l.06-83.8l.07 38l.07 13.1l.06-8.4l.07 36.2l.07 48.8l.07-112.1l.06 189.9l.07-97.2l.07 35.5l.07-79.4l.06-10.7l.07-17.5l.07 70.2l.06-17.7l.07 64.1l.07-99.8l.07 58.8l.06-128.9l.07-65.4l.07 257l.07-252.6l.06 231.5l.07-4.1l.07-94.6l.06-21.6l.07 53.4l.07-79.2l.07 56.1l.06 42l.07-158.5l.07 79.2l.07 37.5l.06-52.9l.07-6.3l.07 72.1l.06-85.5l.07 185.7l.07-25.2l.07-96.9l.06 102.4l.07-199.8l.07 112.4l.07-72.3l.06 62.7l.07 38.6l.07-16.8l.06-76.8l.07 81l.07 118.4l.07-236.1l.06 122.7l.07-5.6l.07-5.1l.07 54.6l.06-81.5l.07 53.3l.07 6.9l.06-58.2l.07 1.9l.07 41l.07 24.3l.06-171l.07 86l.07 32l.07 97.2l.06-56.7l.07-43.3l.07 78.3l.06-21.5l.07 16.9l.07-53.6l.07-39.9l.06 34.7l.07 7.3l.07-236.7l.07 159.4l.06 66.5l.07 63.1l.07-50.5l.06-42.9l.07-80.8l.07 133.3l.07-116.7l.06 89.7l.07-12.3l.07-54.7l.07 17.9l.06 96l.07-63.1l.07 65.4l.06-87.2l.07-14.7l.07-19.3l.07 288.8l.06-221.5l.07 7.6l.07 51.4l.07-109.3l.06-26.7l.07 56.3l.07 55.6l.06-66.6l.07-25.4l.07-23.2l.07 7.9l.06 88.9l.07-30.3l.07 11.1l.07-81.7l.06 187l.07 4.6l.07-183.8l.06 .1l.07 28.5l.07 56.9l.07-76.8l.06 72.3l.07 40.1l.07-90.1l.07 123.6l.06-101.6l.07 40.6l.07-24.5l.06-117.8l.07 221.2l.07-118.8l.07-60.6l.06 21.9l.07 32.9l.07 90.1l.07-156.6l.06 123.3l.07-165.5l.07 137.3l.06-70.8l.07 7.7l.07 97l.07-29.6l.06-84.8l.07 108.4l.07-86l.07 74.8l.06-62.2l.07 32.5l.07-5.5l.06-73.4l.07 151.2l.07 6.3l.07 62.5l.06-195.7l.07 96.6l.07-202.2l.07 195l.06 11.3l.07 21.5l.07-200l.06 200.4l.07 13.9l.07-97.9l.07-13.4l.06 15.8l.07 96.1l.07-76.5l.07-52.5l.06 108.4l.07 181.2l.07-195.1l.06-68.6l.07 18.8l.07 35.9l.07-94.3l.06 169.8l.07-92.7l.07 79.1l.07-114.3l.06 157.2l.07-172.5l.07 89.2l.06-107.4l.07 91.1l.07-137.5l.07 125.9l.06 8.2l.07 17.2l.07-11.2l.07 71.8l.06-111.8l.07 132.7l.07-113.6l.06 28.4l.07-10.5l.07 33.6l.07-37l.06-12.3l.07-21.2l.07-88.4l.07 123.8l.06-74.6l.07-9.6l.07 4.3l.06 70.2l.07-153.5l.07 239.8l.07-60.2l.06-62l.07 67.9l.07-56.3l.07-34.6l.06 48.3l.07 18.2l.07-55.4l.06 58.4l.07 14.6l.07 81l.07-164.7l.06-73.2l.07 187.6l.07-26.6l.07-133.5l.06 176.5l.07-17.3l.07-257.4l.06 186.5l.07-42l.07 143.1l.07-151.4l.06 99.5l.07-125.8l.07 22.4l.07 92.8l.06-113.5l.07 91.9l.07 54.8l.06-40.3l.07 65.3l.07-78.5l.07 51.1l.06-148.1l.07 152.8l.07-158.4l.07-159.3l.06 359.2l.07-104.4l.07 8.9l.06 23.7l.07-28.7l.07-153.3l.07 151.3l.06 72l.07 162.1l.07-209.4l.07-16.2l.06 15.1l.07-134.9l.07 201.1l.06-67.6l.07-5.6l.07 3.2l.07-49.5l.06-9.8l.07 40.3l.07 81.5l.07-105.7l.06 15.5l.07-48.6l.07 108.8l.06-151.4l.07 66.4l.07 107.4l.07-141.7l.06 125.7l.07-20.1l.07-29l.07-39.9l.06-102.1l.07 138l.07 190.1l.06-238.4l.07 49.6l.07 88.1l.07-108.5l.06 144.1l.07-167.4l.07 126.7l.07-121.6l.06-51.5l.07 123.1l.07-92.3l.06-39.1l.07 155.5l.07 71.3l.07-102.7l.06-62.8l.07 90.8l.07-70.7l.07-16.1l.06-34.4l.07-31.4l.07 53.5l.06 85.6l.07-37.3l.07 91.1l.07-158.3l.06-97.3l.07 237.3l.07-130.4l.07-13.8l.06 52.5l.07-144.7l.07 169l.06-200.7l.07 119.3l.07 175.9l.07-132.7l.06 28.4l.07-134l.07 132.2l.07-49.7l.06-69.5l.07 32l.07 157.7l.06-85.3l.07-27.2l.07-11l.07 53.7l.06-84.7l.07 118.2l.07-20.9l.07-131.7l.06 121.2l.07 77.7l.07-196.1l.06 189.1l.07-41.7l.07-65.9l.07-38.6l.06 2.2l.07-15.8l.07 14.6l.07 13.2l.06 36.8l.07 25l.07 17.7l.06 1.9l.07-102.9l.07 43.2l.07-63.8l.06 45.1l.07-4.5l.07 24.9l.07-24.6l.06 28.5l.07 102.7l.07-107.8l.06-25.4l.07 40.3l.07 19.4l.07-31.8l.06 18.4l.07 74.5l.07-73.4l.07 47.9l.06 35.9l.07-116.1l.07 9.7l.06-41l.07 79.1l.07-51.2l.07 23l.06-31l.07 95.7l.07-120l.07 112.9l.06 90.4l.07-134.2l.07 99.3l.06-171.1l.07 153.5l.07-91.2l.07 120.3l.06-281l.07 67.1l.07 122.4l.07-106.3l.06 93.9l.07 67.1l.07-58.8l.06 36.9l.07-98.1l.07 4.3l.07-79.3l.06 172.4l.07-46.8l.07 32.7l.07 14.4l.06-32.3l.07-61.4l.07-7.3l.06-27.7l.07 95.7l.07-12.1l.07 19.4l.06-234.3l.07 203.4l.07-1.6l.07 40.4l.06-49.6l.07-63.5l.07 161.9l.06-112.9l.07 71.8l.07-33.9l.07 2.8l.06 4.1l.07-122.3l.07 112.4l.07 9.6l.06 58l.07-188.6l.07 80.6l.06 30.1l.07 60.9l.07-35.2l.07-138.1l.06 174.7l.07 8.5l.07-165.5l.07 166.3l.06-118.1l.07-86l.07 220.1l.06-16.1l.07-158.5l.07-3.6l.07-48l.06 122.1l.07 4.7l.07 93.3l.07-61.8l.06-15.6l.07-23.4l.07 81.4l.06-44.2l.07-85.8l.07-41.5l.07 68.6l.06-15.5l.07-49.1l.07 243.7l.07-270.6l.06 135.3l.07 114.2l.07-138.6l.07-28l.06 90.7l.07-124.6l.07 21.5l.06 56.4l.07 9.2l.07-3.7l.07 34.4l.06 39.7l.07-100l.07-124.4l.07 194.5l.06 14.3l.07-67.4l.07 58.4l.06-83.7l.07 52.8l.07 18l.07 1.2l.06-40.4l.07-96.4l.07 236.4l.07-268.1l.06 105.9l.07-74.6l.07 37.7l.06 21.2l.07 100.7l.07 .7l.07-115.4l.06 16.8l.07-105.6l.07 102.2l.07 85.8l.06 .7l.07-182l.07 188l.06 54.2l.07-255.9l.07 101l.07 140.8l.06-38.9l.07-34.9l.07-121.5l.07 161.2l.06-50.3l.07-73.2l.07 60.8l.06 35.5l.07-33.4l.07-85.9l.07 92.8l.06-71.1l.07 140.1l.07-48l.07 23.6l.06-116.7l.07 149.9l.07 39.4l.06-148.5l.07-47.1l.07-71.1l.07 263.7l.06-24.8l.07-180.1l.07 45.4l.07 77.6l.06-222.9l.07 111.2l.07 36.5l.06 168.2l.07-124.1l.07-15.2l.07-65.5l.06-8.1l.07 77.6l.07-29.2l.07 64.6l.06 35l.07-77.7l.07 116.8l.06 45.2l.07-48.9l.07-137.6l.07 35.2l.06 13.4l.07-115.5l.07 82.5l.07 48.6l.06-108l.07 86l.07 113.6l.06-70l.07-5.1l.07-57.7l.07 27.2l.06-44.2l.07 35.4l.07 19.6l.07 4.6l.06-11.2l.07 16l.07 73.4l.06-44.3l.07-95.5l.07 117.2l.07-173.8l.06 68.8l.07 38.1l.07 98.5l.07-97.6l.06 10.1l.07-60.4l.07-45.9l.06 11.3l.07 20.7l.07-13.2l.07-60.6l.06 74.3l.07 5.5l.07 82.9l.07-46.4l.06-33.7l.07 159l.07-253.7l.06 145.6l.07-57.4l.07 202.3l.07-163.5l.06 88l.07-71.9l.07 72.8l.07-3.6l.06 42.9l.07-206.9l.07 139.9l.06 26.6l.07 29.8l.07-97l.07-121.6l.06 117.5l.07 56.9l.07-54.1l.07 39.8l.06-31.9l.07 36.4l.07-153l.06-53.7l.07 179.2l.07 39.9l.07-81.7l.06 7.3l.07-61.5l.07 107.4l.07-25.5l.06-13l.07 11.5l.07-39.4l.06-149.8l.07 147l.07 156.6l.07-164.1l.06 24.3l.07 147.6l.07-138.5l.07 52.9l.06-39.1l.07 72.6l.07-136.7l.06 8.5l.07-23.9l.07 35.3l.07-1.4l.06-3.4l.07-46.9l.07 84l.07-58.4l.06 143.3l.07-137.6l.07 66.8l.06-125l.07 77.2l.07 96.6l.07-91.6l.06 60.7l.07-246.6l.07 212.8l.07 12.2l.06-8.5l.07 78.5l.07-85.8l.06 23.8l.07-22l.07-70.9l.07 159.6l.06-76.8l.07-111.3l.07 116.7l.07 14l.06-40.2l.07-69.7l.07 78.5l.06-75.5l.07 152l.07-165.7l.07 116l.06-65.8l.07-28.7l.07 118.6l.07-183.5l.06 121.5l.07 45l.07-144.9l.06 63.3l.07-58.9l.07 107.6l.07 93l.06-116.8l.07 152.2l.07-183.1l.07 53l.06 .4l.07 15.6l.07 55.2l.06 65l.07-64.9l.07-4.7l.07 188.2l.06-180.3l.07-154.4l.07 20.9l.07 26.4l.06 99.2l.07-57.9l.07-1.7l.06 61.9l.07-41.7l.07-109.8l.07 146.4l.06-119.6l.07 79.7l.07 53.1l.07-49.5l.06-81.7l.07 68.1l.07 35.1l.06-25.5l.07 55.2l.07-84.8l.07-50.9l.06-7l.07-55.4l.07 80.9l.07 202l.06-182.9l.07 124.1l.07-67.4l.06 21.5l.07-85.6l.07 38.5l.07 29.5l.06-38.2l.07 115.8l.07-41.9l.07-111l.06-85l.07 169l.07-130.9l.06 105.9l.07-98.7l.07 167l.07-101.6l.06-64.1l.07 164.3l.07-83l.07 66.7l.06-44.3l.07-46.4l.07 47.3l.06 23.2l.07-57.7l.07-144l.07 182.2l.06 26.7l.07-67.8l.07 71.8l.07 9.5l.06 2l.07 15.1l.07-110.3l.06-38.9l.07 77.4l.07 73.7l.07 26.5l.06-78.4l.07-3l.07-30l.07 6.3l.06-43.3l.07 94.4l.07-191.7l.06 206.5l.07-48.7l.07-10.4l.07 42.5l.06 94.1l.07-223.6l.07 128.1l.07-132.3l.06 203.9l.07-127.4l.07 18.9l.06-100.8l.07 74l.07 23l.07 41.2l.06-84.1l.07 53.9l.07-44.6l.07-7.7l.06 24.7l.07 5.8l.07 19.9l.06-18.4l.07 89.9l.07 56.7l.07-135.6l.06-62.5l.07 78.1l.07 24.3l.07-58.1l.06 75.9l.07-1.4l.07-40.5l.06-36.2l.07 8.3l.07-90.3l.07 111.1l.06 80.4l.07-31l.07-26.5l.07-30l.06 70.3l.07-122.2l.07 1.5l.06 91l.07-136.5l.07 90l.07 56.3l.06-28.5l.07 11.3l.07-119l.07 112.8l.06-127.8l.07 57.3l.07 30.1l.06-37.7l.07 49.3l.07 14.2l.07 58.8l.06-154.1l.07 36.9l.07 98.6l.07-72l.06-124.9l.07-9.6l.07 21.8l.06 318.8l.07-301.8l.07 89.4l.07 75.8l.06-93.2l.07-8.5l.07-73l.07 143l.06 21.6l.07-85.4l.07-17.1l.06-76l.07 92l.07 60l.07-36.8l.06 33.2l.07 102.6l.07-131.4l.07-121.5l.06 108.2l.07 73.5l.07-21.9l.06-95.5l.07 122.4l.07-84.5l.07 14.1l.06-42l.07-10.6l.07-1.4l.07 39l.06-33.1l.07 55.7l.07 58l.06-55.1l.07-46.8l.07-26.6l.07-62.9l.06 152.9l.07 46.1l.07 .1l.07-85.5l.06 154.7l.07-41.2l.07-114.5l.06-3.3l.07 126.6l.07-149.3l.07-197.8l.06 189.2l.07-21.8l.07 82.8l.07-11.5l.06-31.4l.07 106.6l.07-110.9l.06 144.6l.07-183.9l.07 38.6l.07 84.6l.06-46.7l.07 38.4l.07-63.9l.07-61.7l.06 103.7l.07-35.9l.07-65.6l.06 90.7l.07-71.6l.07 117.2l.07-35.1l.06-73.2l.07-28.1l.07 168.7l.07-78.1l.06-98.5l.07 65.7l.07 81l.06-80.8l.07 62l.07-126.4l.07 145.8l.06 134.1l.07-197.7l.07 9.8l.07 .1l.06 59.5l.07-111.3l.07 62.3l.06 64.6l.07-145.3l.07 31.6l.07 73l.06-96.5l.07 124.8l.07-147.3l.07-15.1l.06 46.2l.07-16.9l.07-10.8l.06-66.8l.07 176.4l.07 126.6l.07-210.6l.06 51.5l.07-128.4l.07 109.3l.07-22.8l.06 63.1l.07-104.6l.07 24.3l.06 44.9l.07-116l.07 169.8l.07-82.6l.06 44.8l.07 36.8l.07-38.9l.07 52.8l.06-87.2l.07 82l.07 3.1l.06 2.2l.07-163.4l.07 135.4l.07 92l.06-46.3l.07 27l.07-69l.07 7.4l.06-141.2l.07 169.4l.07 16.2l.06-95.6l.07-117.5l.07 157.2l.07 26l.06-148.4l.07 215.6l.07-115.3l.07 27.5l.06-74.7l.07 12.1l.07 44.5l.06 14.1l.07-28.3l.07 25.5l.07 15.7l.06-41.2l.07-9.3l.07-106.3l.07 89.8l.06 91.7l.07-80.8l.07 64.9l.06-170.1l.07 98.1l.07 67.6l.07 25l.06-115.5l.07 107.7l.07 26.1l.07-77.8l.06 52.3l.07-58.3l.07-22.2l.06-103l.07 23.7l.07 11.1l.07 138.7l.06-87l.07 103.1l.07-29.9l.07 4.6l.06 43l.07 56.1l.07-199.5l.06 56.9l.07 61.3l.07-75.4l.07 36.4l.06-70.2l.07 78.5l.07-61.8l.07 35.6l.06-135l.07 84l.07 95.3l.06 40.7l.07 73.8l.07-123.6l.07 15.1l.06-26.2l.07 .6l.07-26.8l.07 134.4l.06-1.3l.07-188.5l.07 62.9l.06-87.7l.07 172.4l.07-61l.07 59l.06-83.2l.07 127.7l.07-52.8l.07-106.2l.06-45.8l.07 221.9l.07-79.4l.07-72.4l.06-56.4l.07 18.8l.07 58l.06 63.7l.07-74.9l.07 10l.07-31.8l.06 93l.07-156.3l.07 154.4l.07-36.6l.06-18.9l.07-81.1l.07 68.2l.06-125.2l.07 32.9l.07 125.6l.07-110.4l.06 148.7l.07 14.8l.07-214.7l.07 79.9l.06-79.2l.07 130.2l.07 26.2l.06 18.8l.07-172.7l.07 70.7l.07 162.9l.06-47.6l.07-9.7l.07 35.2l.07-167.5l.06 87.4l.07-58.9l.07 34.4l.06 130.7l.07-76.7l.07 32.2l.07-139.6l.06 37.9l.07 70l.07-143.2l.07 44.9l.06 125.2l.07 63.4l.07-150l.06-15.8l.07 162.6l.07-39.2l.07-26.3l.06-108l.07 25.3l.07 114.1l.07-25.8l.06 14l.07-83.9l.07-148l.06 44.7l.07 42.1l.07 144.6l.07-160.1l.06 130.2l.07 3.5l.07-134.4l.07 93.2l.06-70.9l.07 14.3l.07 85.5l.06-57.3l.07-28.9l.07 46.5l.07 80.3l.06-175.8l.07 131l.07 15.5l.07-16.9l.06-104.9l.07 49.9l.07-112l.06 234.2l.07-74.5l.07-40.2l.07 27.8l.06 84.6l.07-30.8l.07-32.7l.07-3.8l.06-22.3l.07 8.2l.07 54.5l.06 45.2l.07-214.6l.07-12.8l.07 104.5l.06-73.5l.07 9.4l.07 1.8l.07 109.1l.06-54.3l.07 43.4l.07 79l.06-272.4l.07 142.7l.07 16.3l.07 181.8l.06-187l.07-6.8l.07-9.8l.07 97.2l.06-22.3l.07-128.2l.07 47.5l.06-62.1l.07 125l.07-41.5l.07-92.5l.06 74.8l.07-16.6l.07-24.9l.07 66.2l.06 85.7l.07 6.2l.07-1l.06 9.1l.07 47.9l.07-65.2l.07-34.4l.06-168.5l.07 178.4l.07-66.5l.07 20l.06-3.2l.07 76.6l.07-122.5l.06 74.6l.07-118.2l.07 60.5l.07 114.6l.06-156.6l.07 149.6l.07 34.6l.07-269.7l.06 102.4l.07-31.6l.07 101l.06 2.8l.07 37.3l.07-28.5l.07 5.6l.06 68.2l.07-204.2l.07 163.4l.07-133.2l.06 145.6l.07-90l.07 75.8l.06-32.7l.07-23.3l.07 28.4l.07-30.4l.06 12.8l.07 43.4l.07-63l.07-5.4l.06-55.1l.07 76.1l.07 68.6l.06-39.6l.07-41.3l.07 11.4l.07-68.5l.06-58.3l.07 78.5l.07-2.1l.07 231.4l.06-181.2l.07-25.5l.07-54.1l.06 12l.07 160.7l.07-100.7l.07 4.4l.06-33.7l.07-91.4l.07 4l.07 158.9l.06-164.4l.07 140.6l.07-100.5l.06 41.6l.07 23.5l.07 54.2l.07-121.1l.06 19.8l.07 154.9l.07-201.5l.07 104.8l.06-49.2l.07 94.9l.07-50.3l.06 4.2l.07-120.8l.07 8.8l.07 64.8l.06 50.8l.07-140.3l.07-23.7l.07 62.2l.06 169l.07-221l.07 111.5l.06-83.7l.07 175.2l.07-54.1l.07 51.1l.06-19.2l.07 24.7l.07 3.3l.07-129l.06 75l.07 8.8l.07 117.8l.06-144.9l.07 91.9l.07-149.7l.07 92.8l.06-57.8l.07 55.6l.07 38.1l.07 29.2l.06-153.6l.07 59.2l.07 85.6l.06-93.8l.07-57.1l.07 64.3l.07-47.2l.06 82.8l.07 107.3l.07-41.9l.07-71l.06-37.5l.07-48l.07-73.8l.06 135.7l.07-5.3l.07-52.7l.07 42.9l.06 38.1l.07-29.6l.07-104.2l.07 116.3l.06 112.8l.07-226.8l.07 117.4l.06-97.6l.07 129.3l.07 103.9l.07-100.5l.06 60.5l.07-115.9l.07 .1l.07 41.2l.06-149.1l.07 198.1l.07 15.1l.06-103.1l.07-40.3l.07 42.7l.07 62.4l.06-121.7l.07 214l.07-56.7l.07-66.7l.06 108.7l.07-128l.07 29.4l.06-17.6l.07-20l.07-31.5l.07 25.7l.06 5.6l.07 139.4l.07-113.3l.07 45.8l.06-16.5l.07-71.7l.07 101.9l.06-51.9l.07-116.5l.07 175.6l.07 84l.06-172.7l.07-120.3l.07 69.3l.07 76.1l.06-47.3l.07 78.2l.07-71.3l.06 37.8l.07-161.9l.07 200.7l.07-94.5l.06 6l.07 37.4l.07-22.4l.07 47.2l.06 61.4l.07-111.5l.07-50.3l.06 133.4l.07 17.8l.07 34.5l.07-252.6l.06 95.2l.07 82.6l.07-6.7l.07-16.9l.06-47l.07 86.1l.07-108.1l.06-2.5l.07-50.1l.07 63.5l.07-16l.06 19.1l.07-49.7l.07 40.3l.07 57l.06 24.5l.07-.7l.07-46.9l.06 64.2l.07-52.7l.07 49.3l.07-57.1l.06 9.3l.07-22.5l.07-64.6l.07 76.8l.06 126.1l.07-168.2l.07 37.5l.06-8l.07 23l.07 43.3l.07 46.6l.06-128.8l.07-22.8l.07 174.9l.07-79.6l.06 97.3l.07-16.7l.07-184.6l.06 75.7l.07-112.9l.07 210.2l.07-117.7l.06-58.8l.07 4.4l.07-72.4l.07 106.2l.06-1.8l.07 1.2l.07-19.4l.06 27.9l.07 22.1l.07 12.3l.07-60.4l.06 79.3l.07 27.8l.07-126.3l.07 85.2l.06 4.4l.07-44.8l.07 56.6l.06 30.1l.07-130.1l.07-16.1l.07 146.4l.06-51l.07-49.9l.07-50.3l.07 32.7l.06-.1l.07 81.3l.07-43.9l.06-58.5l.07-100.4l.07 110.3l.07 47.2l.06 58.3l.07-84.4l.07 10.5l.07 73.4l.06-29l.07 43.7l.07-40.5l.06 61.5l.07 23.8l.07-159.3l.07 167.9l.06-12.9l.07-27.2l.07-216.1l.07 250.3l.06-72.5l.07 18.5l.07-104.7l.06 107.8l.07-139.2l.07 88.1l.07-94.6l.06 70.9l.07 25.7l.07 83.6l.07-45.1l.06-30.3l.07 9.8l.07-61.9l.06 43.9l.07-60.6l.07 68.8l.07 9.4l.06-82l.07 40.3l.07-36.8l.07 29.6l.06 64.3l.07-52.3l.07-14.6l.06 22l.07-94.8l.07 246.3l.07-160.5l.06 9.2l.07-59.3l.07 101.9l.07-52.5l.06 65.8l.07 56.9l.07-34.2l.06-162.4l.07 190.4l.07-124l.07 127.4l.06-152.7l.07-180.4l.07 224.2l.07 46.6l.06-37.9l.07-22.1l.07 190.5l.06-24.1l.07-193.1l.07 45.9l.07 12.4l.06 22.8l.07-161.1l.07 140.6l.07 16.1l.06-61.7l.07 16.5l.07 70.4l.06-88.7l.07 49.6l.07-28.5l.07 25.5l.06-50.3l.07-5.2l.07 11l.07-75.9l.06 30.6l.07 43.5l.07 65.4l.06-12.6l.07-24.9l.07 .2l.07 61.6l.06 19.3l.07-108.8l.07 28.5l.07-4.1l.06 128.9l.07-1.9l.07-136.7l.06-51.1l.07-2.1l.07 37.1l.07-17.4l.06 154.7l.07-164.7l.07 27.1l.07 33.3l.06-87.2l.07 3.4l.07 112.7l.06 57.6l.07-178.2l.07 87.1l.07 92.5l.06-35.5l.07-88.1l.07 70.7l.07-147.5l.06 166.7l.07-108.8l.07-24.4l.06 67.5l.07-29.2l.07 88l.07-138l.06 83.8l.07 51.6l.07-46.2l.07-80.9l.06 95.1l.07 94l.07-36.7l.06-155.4l.07 95.2l.07 56.9l.07-82.2l.06-12.4l.07-9.9l.07 73.8l.07-42.5l.06-3.9l.07 2.9l.07-5.7l.06 11.5l.07-1.6l.07 98.5l.07-26.8l.06-151.2l.07 88.8l.07 35.1l.07-102.5l.06-4.8l.07 56.1l.07 10.4l.06-21.2l.07 81.4l.07-123.1l.07-12.6l.06 107.6l.07 66.5l.07-39.7l.07-75.2l.06 120.7l.07-171.5l.07 71.4l.06 38.2l.07-42l.07 59.9l.07-113.3l.06 69.2l.07-58.3l.07-67.5l.07 127.5l.06-26.2l.07-5l.07-35l.06 17.7l.07-1.5l.07 72.3l.07-.2l.06 41.9l.07-83.4l.07 52.3l.07-58.8l.06-.5l.07-5.3l.07 91.7l.07-129.1l.06 21l.07 68l.07 55.5l.06-54.1l.07 70.8l.07-115l.07 43.3l.06-151.9l.07 49.7l.07 113.1l.07-11l.06-9.1l.07 35.8l.07-123.1l.06 92.5l.07 125.8l.07-125.4l.07-18.1l.06-4.4l.07-52l.07 75.4l.07 87.5l.06-92.3l.07-88.6l.07 69l.06 114.5l.07-39.8l.07-79.4l.07-178.1l.06 155.8l.07 74.1l.07-53.1l.07 19.9l.06-112.7l.07 32.5l.07 185.1l.06-75.1l.07 6.9l.07-164.2l.07 90l.06 136.7l.07-67.2l.07-149.5l.07 54.4l.06 47.9l.07 109.1l.07 5.9l.06-89.1l.07-2.6l.07 56.1l.07-54l.06-36.4l.07-103l.07 59.6l.07 83.1l.06-98.1l.07-38.2l.07 105.4l.06-156.2l.07 142.5l.07-22.2l.07 71.3l.06 112.7l.07-273.7l.07 73.2l.07 102.2l.06-74.2l.07-39.6l.07-15.8l.06 100l.07 7.2l.07-14.3l.07-50.3l.06 28.8l.07-119.4l.07 143.7l.07-18.9l.06 50l.07 1.3l.07-65.1l.06 31.7l.07-18.7l.07 51.7l.07-121.4l.06 110.8l.07-69.3l.07 99l.07-116.2l.06 3.3l.07-2.2l.07 98.6l.06-53.9l.07-165.1l.07 71.2l.07 103l.06-41.3l.07 31.5l.07 67.2l.07 33.2l.06-6.9l.07-151.5l.07 208.8l.06-128.5l.07 71.7l.07-90.9l.07 22.4l.06-99.7l.07 58.1l.07 81.1l.07-114l.06 83.7l.07-76.4l.07 82l.06 100.7l.07-184.8l.07 68.8l.07-10.5l.06-25.2l.07 110.5l.07-67.5l.07-138.4l.06 117.7l.07 194.9l.07-190.9l.06-19.4l.07 41.7l.07 40.3l.07 23.9l.06-169.5l.07 39.1l.07-3.6l.07-65.1l.06 48.3l.07 27.8l.07 120.1l.06-102.6l.07-14.6l.07 29.5l.07 14.8l.06-32.5l.07-204.2l.07 230.2l.07 14.1l.06-28.2l.07-26.8l.07-1.8l.06-4.5l.07-47.6l.07 34.8l.07-44l.06-6.6l.07 144.5l.07-56.1l.07-.7l.06-10.6l.07 64.1l.07-202.5l.06 282.2l.07-90.5l.07-81l.07 155.3l.06-91.7l.07-32l.07 59.2l.07-91.7l.06 163.5l.07-39.5l.07-203.8l.06 112.1l.07-5.6l.07 147.2l.07-88.6l.06-79.1l.07 117l.07-20.6l.07-124.2l.06 143.3l.07-80.8l.07 25.9l.06 64.6l.07-90.6l.07-17.4l.07 158.5l.06-210.4l.07 135.5l.07-9.1l.07-67.4l.06-37.2l.07-19.8l.07 173.7l.06-101.4l.07-64.6l.07 105.5l.07 3.1l.06-43.1l.07-71.6l.07 9.4l.07 31.4l.06 35.6l.07 64.8l.07-21.1l.06 66.4l.07-210l.07 60.6l.07 32.7l.06 12.9l.07-41l.07 158.2l.07-228.9l.06 48.8l.07 101l.07-43.1l.06-156.6l.07 90.1l.07-47.3l.07 94.5l.06 66.3l.07-221.1l.07 90.2l.07 55.9l.06 55.5l.07-28.7l.07-64.7l.06-13.3l.07 69.4l.07-5.8l.07 10.8l.06 80.6l.07-107.7l.07 105.8l.07-80.5l.06-19.6l.07 14.5l.07 76.5l.06-11l.07-88.4l.07 116.7l.07-23.8l.06-103.1l.07 70.9l.07-65.9l.07 34.4l.06-15.5l.07 33.2l.07 53.7l.06 24.2l.07-146.1l.07 13.9l.07 86.2l.06-176.3l.07 100.6l.07 189.4l.07-209.4l.06 95.5l.07-9.5l.07-3.9l.06-32.9l.07-72.6l.07 17.2l.07 107.2l.06-132.3l.07 142.3l.07-15l.07-161.1l.06 194l.07-54.5l.07-44.1l.06-8.8l.07 34.9l.07-42.6l.07-54.1l.06 52.6l.07-4.1l.07 183l.07-147.3l.06 15l.07-27.7l.07-81.3l.06 143.9l.07-141.4l.07 165.6l.07-117.8l.06 108.9l.07-161.9l.07 55.6l.07-54.5l.06 37.8l.07 57.4l.07 43.9l.06-30.7l.07-22.1l.07-29.9l.07-3.3l.06 38.7l.07-48.3l.07 108.5l.07-74.6l.06 115.7l.07-121.6l.07 33.4l.06-114.7l.07 137.5l.07 4.2l.07 75.1l.06-166.8l.07 147.8l.07-192.2l.07 188.6l.06-36.1l.07 91.5l.07-147.2l.06-36.2l.07-83.1l.07 66.4l.07 46.8l.06 50.2l.07-27.9l.07 33.9l.07-184.7l.06 76.6l.07 143.4l.07-105.5l.06-34.7l.07 128.7l.07-111.9l.07-4.9l.06 42.1l.07 47.8l.07-141.5l.07 130.4l.06-77.7l.07-22.9l.07 109.7l.06-87.5l.07-54.4l.07 48.1l.07 65.3l.06-39.7l.07 34.1l.07 27.5l.07-41.1l.06 17l.07 25.3l.07 13.6l.06 41.7l.07-125.2l.07 69.9l.07-111.5l.06 72.9l.07-15l.07 33.8l.07-97.7l.06 177l.07-98l.07-30.1l.06 91.5l.07-33.2l.07-8.7l.07 91.7l.06-213.9l.07 45.3l.07 48l.07-137.2l.06 84.7l.07 48.8l.07 105.3l.06-16.1l.07-53.8l.07-1.7l.07-66.2l.06 112.1l.07-134.5l.07 116.1l.07-49.8l.06 80.6l.07-92.6l.07 142.1l.06-123.9l.07-59.4l.07 179.1l.07-105.2l.06 50.4l.07-40.7l.07 20.9l.07-97.3l.06-84.6l.07 99.4l.07 41.5l.06-37.6l.07 99l.07-87.4l.07 71l.06-103.1l.07 23.8l.07 19.8l.07 6.2l.06-39.5l.07-12l.07 96l.06-67.1l.07 131.3l.07-150.6l.07-48.7l.06 33.3l.07 48.2l.07-21l.07-17.8l.06 57.5l.07-96.8l.07 64.4l.06 3.2l.07 52.9l.07-89.7l.07 57.6l.06-63.9l.07 22.2l.07 133.6l.07-101.7l.06 186l.07-247.4l.07 54.7l.06 122.8l.07-49.1l.07-199.7l.07 90.5l.06-34.4l.07 115.4l.07-37.7l.07-28.7l.06 26.8l.07-51.9l.07-25.9l.06 33.5l.07 121l.07-224.1l.07 167.9l.06 101.4l.07-113.4l.07-116.1l.07 169.7l.06-116.7l.07 19.8l.07 72.2l.06-28.9l.07 71.3l.07-71.5l.07-48.2l.06 95.2l.07-44.6l.07 18.6l.07-86.9l.06-34.2l.07 141.9l.07 31l.06-103.6l.07 42.4l.07-31l.07-48.4l.06 55.3l.07-154.5l.07 267.9l.07-81.1l.06-3.9l.07-36l.07 9.7l.06 22.9l.07 88.7l.07-127.2l.07-20l.06 66l.07-33.4l.07 45.7l.07 28.7l.06-22.8l.07 52.3l.07-49.9l.06 97.1l.07-149.1l.07-75.9l.07 44.1l.06 52.9l.07 22.4l.07 76.1l.07-91.7l.06-102.6l.07 49.7l.07 156.6l.06-5.6l.07-128.2l.07 116.7l.07 12.3l.06-183.7l.07 192.5l.07-113l.07-41.3l.06-40.8l.07 171.8l.07-93.6l.06-93.2l.07 219.6l.07-63.3l.07-256.1l.06 211.2l.07 7.7l.07-89.6l.07 67.8l.06 20l.07 68.5l.07-135.9l.06-16.1l.07 104.1l.07-157.8l.07 128.5l.06-31.2l.07 15.9l.07-20l.07 13.3l.06-55.2l.07 52.6l.07-20.5l.06-120.2l.07 70.9l.07 134.1l.07-117.9l.06 48.5l.07-7.9l.07 26l.07-2l.06-30l.07 36.8l.07-62.9l.06-65l.07 142.8l.07 15.1l.07-41.2l.06 31.9l.07-69.3l.07-53.5l.07-123l.06 301l.07-104.4l.07-9.8l.06 46.4l.07 31.1l.07 7.9l.07-188.1l.06 148.7l.07 7.5l.07-43.4l.07 42.9l.06-89.1l.07 108.4l.07 39.7l.06-126l.07 38.2l.07 20.6l.07 65.3l.06-22.6l.07-79.3l.07 27.4l.07-68.8l.06 97.3l.07 88.3l.07-133l.06-14l.07-8.8l.07-192.4l.07 331.4l.06-147.7l.07-96.7l.07 64.5l.07 64l.06-59.5l.07 174.5l.07 110.3l.07-101.6l.06-187.4l.07 66.1l.07 91.7l.06-221.5l.07 152.6l.07 55.8l.07 43.3l.06-231.9l.07 116l.07 13.2l.07-42.3l.06 38.4l.07-85.6l.07 152.1l.06-97.9l.07-40.8l.07 141.7l.07-97.2l.06-79.7l.07 183.5l.07-161.7l.07 37.6l.06 22.3l.07-15.9l.07 2.4l.06-48.6l.07 11.5l.07 143.3l.07-64.3l.06 91.4l.07-147.8l.07-.2l.07 71.4l.06-30.3l.07-62.5l.07 15.9l.06 23.5l.07-51.5l.07 181.4l.07-73.9l.06-191.7l.07 351l.07-69.9l.07-118.7l.06 9.2l.07-39l.07 91.3l.06-99.1l.07 95.8l.07-106.8l.07 13l.06 175.4l.07-73.5l.07-113.9l.07 24.2l.06 39.3l.07 14.8l.07-46.1l.06-91.6l.07 46.4l.07-16.3l.07-58.4l.06 188.8l.07 23.8l.07-66l.07-60.1l.06 133.1l.07-69.4l.07-16.9l.06-45.7l.07 119.6l.07-54.1l.07-64.9l.06-20l.07 65.5l.07-41.8l.07-102.6l.06 183.3l.07-26.3l.07 82.3l.06-48.4l.07-1l.07-54.6l.07-13l.06 30.7l.07 50.6l.07 9.5l.07-73.1l.06 24.4l.07 56.4l.07-113.9l.06-20.4l.07 38.3l.07 39l.07-11.5l.06 33.2l.07-100.1l.07 120.9l.07-151.1l.06 70.8l.07-51.3l.07-84.5l.06 202l.07-74l.07 61.6l.07 27.5l.06-129.2l.07 20.8l.07 14.4l.07 16.4l.06 10.4l.07 44.7l.07 .9l.06-1.1l.07-62.4l.07-141.8l.07 125.5l.06 86.9l.07-110.2l.07 31.6l.07 169.2l.06-138.5l.07-146.6l.07 148.2l.06 17.3l.07 19l.07-65.4l.07 17.5l.06-12.9l.07 184.6l.07-90.6l.07-46.8l.06-66.2l.07 103.6l.07-76.5l.06-38.5l.07 78.8l.07-73.9l.07 116.2l.06 8.9l.07 15.3l.07-142.4l.07 74.1l.06-59.8l.07 117.4l.07-137.8l.06 85.6l.07-53.8l.07 24l.07 13.7l.06 38.2l.07-55.7l.07 70.6l.07-40.2l.06-140.9l.07 76.2l.07 90.4l.06-247.6l.07 272.1l.07-116.8l.07 6.3l.06-35.9l.07 23.9l.07 158l.07-106.7l.06-66.6l.07 77.2l.07-66.4l.06 68.5l.07-81.6l.07 35.4l.07 16.4l.06-41.6l.07 77.7l.07-57.4l.07 22l.06-36l.07 47l.07 137.3l.06-121.9l.07 28l.07 20.1l.07-109.3l.06 176.3l.07-140.1l.07-195.3l.07 165.2l.06-25.2l.07 61.6l.07 54.9l.06-137.7l.07 72.3l.07-10.5l.07 24.6l.06-6.4l.07-67.4l.07 46.5l.07 30.3l.06-85.7l.07 253.6l.07-192.7l.06 12.8l.07-58.5l.07 147.4l.07-41.3l.06-127.7l.07 93.7l.07 9.5l.07-116l.06 24.3l.07 55l.07-34.4l.06 29.4l.07 22.2l.07-65.6l.07-1.1l.06 64.3l.07-8.8l.07 98l.07-46.6l.06 27.3l.07-139.1l.07-12.5l.06 155.5l.07-102.4l.07-58.4l.07 49.6l.06 121l.07-46.3l.07-67.3l.07-262.3l.06 261.9l.07 1.5l.07 24.4l.06-46.5l.07 86.3l.07-65.9l.07 57.3l.06-57.6l.07 74.6l.07-70.1l.07 75.6l.06-88.7l.07 158.5l.07-136.1l.06 80.8l.07-54.6l.07 36.5l.07 94.2l.06 65.1l.07-217.3l.07 51.5l.07-81l.06 157.3l.07-88.4l.07-87.2l.06 107.7l.07-49.7l.07-73.3l.07 91.6l.06-178.9l.07 182.9l.07-38.1l.07-4.7l.06 59.1l.07-142.6l.07 130.6l.06 33.8l.07-30.6l.07-80.3l.07 49.4l.06-25.6l.07-83.9l.07 103.1l.07 11.8l.06 98l.07-44.1l.07-114.9l.06-27.3l.07 161.8l.07 42.9l.07-107.1l.06-13.9l.07 51.7l.07 28.2l.07-147.7l.06 64.7l.07 45l.07 102.8l.06-81.1l.07-56.3l.07 41.6l.07-149.3l.06 120.1l.07 3.4l.07-92.5l.07 42l.06-24.7l.07 61.1l.07 58.9l.06-118l.07 173.4l.07-103.9l.07 49l.06-46.1l.07-9.9l.07-43.6l.07 188.5l.06-173l.07-70.2l.07-23.1l.06 139l.07-119.1l.07 147.8l.07-56l.06-27.3l.07 98.9l.07-54l.07 66.9l.06-144.2l.07 58.3l.07-65.8l.06 86.4l.07-19l.07-130.6l.07 103.9l.06-20.3l.07 141.3l.07-139.5l.07 125.8l.06-96.7l.07 101.9l.07-155.8l.06 44l.07 149.1l.07-46l.07-87l.06 81.4l.07-60l.07 23.1l.07 54.8l.06-79.5l.07-47l.07-18.9l.06 99.8l.07-75.2l.07 91.7l.07-75l.06 115l.07-137.4l.07 54.3l.07 62.9l.06-180.6l.07-22.1l.07 174.7l.06-77.4l.07-34.2l.07 22.5l.07 36l.06 28.3l.07-16l.07 16.6l.07-145.5l.06 204.3l.07-71.4l.07-213l.06 259l.07-112.7l.07 80.5l.07 158l.06-84.9l.07 41.4l.07-213.7l.07-38.7l.06 71.7l.07 99.1l.07-18.3l.06 34.4l.07 56.3l.07-165.1l.07 78.2l.06-48l.07-88.2l.07 183.3l.07-134l.06 126.8l.07-51.7l.07 21.8l.06-55.5l.07 76.9l.07-95.3l.07 83.2l.06-62l.07-1.1l.07 3l.07-159.4l.06 142.7l.07 45.3l.07 15.2l.06-119.6l.07 132.8l.07-17.4l.07-51.5l.06-18.1l.07 12l.07 101.4l.07-24.6l.06 60.2l.07 14.5l.07-37.4l.06-125.6l.07 50.7l.07 111.4l.07-122l.06-3l.07-132.2l.07 73.9l.07 11.1l.06-93.5l.07 78.8l.07 116.6l.06 14.3l.07-190.1l.07-33.3l.07 34.2l.06-11.6l.07 129.4l.07-171.1l.07 181.4l.06-13.5l.07 3l.07 12.2l.06 19.6l.07-22.1l.07-130.9l.07 169.4l.06-114.6l.07 129.8l.07-19.4l.07-52.8l.06-17.4l.07-18.3l.07 12.1l.06-105.6l.07 75.2l.07-34.3l.07 48.9l.06-30.2l.07 95.7l.07-17.1l.07-110.1l.06 202.1l.07-29l.07-170.4l.06 39.2l.07 99.6l.07 18.9l.07-169l.06 121.3l.07-119.9l.07 61.2l.07 10.7l.06 26.4l.07 45.1l.07 14.9l.06-11.4l.07-166.1l.07 46.8l.07-19.4l.06 128.1l.07-13.8l.07 102l.07-99.3l.06-6.2l.07 121.8l.07-113.8l.06 94.8l.07-119.9l.07-69l.07 87.6l.06 8.2l.07-36.5l.07 14.8l.07-85.3l.06 142.1l.07-94.1l.07 49.1l.06 92.4l.07-112.4l.07-41l.07-49.5l.06 198.3l.07-52l.07-51.3l.07-63.7l.06 98.8l.07-58.7l.07-103.6l.06 105.7l.07 114.6l.07-125.7l.07-25.1l.06 197.6l.07-160.1l.07-103.4l.07 96.7l.06 31.5l.07 62.9l.07-8.9l.06-190.3l.07 138.4l.07-62l.07-21l.06 17.9l.07 53.1l.07-19.8l.07 135.8l.06-41.5l.07-71.7l.07-77.3l.06 150l.07-45.5l.07-125.2l.07 38.9l.06 92.8l.07-18.9l.07 70.9l.07-151.4l.06-59l.07 144.8l.07-19.4l.06-52.6l.07 .8l.07 112l.07-98l.06 53.3l.07-110.4l.07 38.9l.07 137.3l.06-90.6l.07-61.4l.07 53.7l.06 92.5l.07 44.8l.07-66l.07-15.4l.06 9.2l.07 87.9l.07-162.5l.07 6.2l.06 84.1l.07-112.5l.07 34.1l.06 54.1l.07-62.3l.07 69.7l.07-68.5l.06 131.1l.07-85.4l.07 83.2l.07-139.2l.06-60.7l.07-35.2l.07 148.4l.06 78.6l.07-154.1l.07-103.4l.07 230.2l.06-130.7l.07 43.9l.07-63.7l.07 130.8l.06 21.4l.07-48.3l.07-3.6l.07-50.9l.06 35.8l.07-11.1l.07-57.6l.06 98.3l.07 19.7l.07-123.6l.07 134.8l.06-7.3l.07-23.8l.07-2.5l.07-124.8l.06 218.5l.07-159.8l.07 11.3l.06 84.3l.07-83.1l.07-19.5l.07-37.4l.06 60l.07 77.6l.07-173.9l.07 105.6l.06-43.2l.07 38.8l.07-.9l.06-5.6l.07 117.9l.07-162.8l.07-6.3l.06 19.8l.07 45.4l.07 156.8l.07-94.6l.06-53.2l.07 50.1l.07-80.4l.06-19.2l.07 67.3l.07 83.7l.07 16.8l.06-61.8l.07-115.3l.07-37.5l.07 96.3l.06-45.8l.07-26.7l.07 7.1l.06 117.2l.07 70.5l.07 81l.07-181.7l.06 81.1l.07-147.8l.07-21.5l.07 76.2l.06 105.9l.07-176.8l.07 187.1l.06-113.3l.07-78.7l.07 83.7l.07-90.7l.06 41.7l.07-42.7l.07-41.7l.07 48.9l.06 71l.07-15l.07 61.1l.06-55.5l.07 76.6l.07-60.4l.07 89.7l.06-228l.07 90.9l.07 12.6l.07-10.8l.06 118.2l.07-90.6l.07 44.8l.06-48.2l.07-47.7l.07 82.8l.07 34.6l.06-68.9l.07 1.4l.07-7.4l.07 8.5l.06-75.6l.07 65l.07-10.8l.06 62.4l.07 12l.07-70.5l.07 34.7l.06 110.4l.07-152.8l.07 41.7l.07-44.9l.06 9.4l.07 27.6l.07 69.8l.06-64.1l.07 22.2l.07-36.9l.07-30.1l.06 22.9l.07 86.1l.07 29l.07-130.1l.06 147.5l.07-152.7l.07 10.6l.06 92l.07-23.7l.07-4.1l.07-1.6l.06-44.6l.07 102.5l.07-123l.07 66.1l.06-1.6l.07-80.4l.07 23.3l.06 137.5l.07-75.8l.07 16.8l.07-128.6l.06 85.8l.07-20.3l.07-27.8l.07-57.1l.06 96.5l.07-24.1l.07-48.7l.06 73.8l.07-112.2l.07 46.9l.07 27.9l.06-84.4l.07 92.5l.07-126.1l.07 144.9l.06-36.5l.07 2.8l.07 55.7l.06-17.1l.07-67.9l.07 168.8l.07-120.8l.06-127l.07 162.8l.07-57.6l.07 31.8l.06-93.1l.07 196.8l.07-36.8l.06-21.8l.07-81.3l.07-76.9l.07 254.8l.06-116.6l.07-13.4l.07-12.5l.07-103.6l.06 114.1l.07-57.6l.07 144.2l.06-111.8l.07 50.2l.07-143.4l.07 78.8l.06 84l.07-43.6l.07 34.8l.07 9l.06-227.9l.07 171.6l.07 89.5l.06 22.7l.07-146.2l.07 20.9l.07 18.1l.06-45.6l.07 79.8l.07-18.1l.07-119.4l.06 171.2l.07-173.7l.07 68.2l.06-6.7l.07 59.8l.07-80.5l.07 44.2l.06 87.6l.07-44.7l.07 10.6l.07-62.4l.06 34l.07 6.7l.07 66.4l.06-108.4l.07 56.7l.07 14.5l.07 79.5l.06-142.3l.07 49.8l.07 66.4l.07-120.9l.06 75.8l.07-92.7l.07 91l.06-133.7l.07 68.3l.07 126.4l.07-117.2l.06-141.2l.07 215l.07-105.5l.07 94.4l.06-60.6l.07-42l.07 18.1l.06-48.2l.07 145.5l.07-45.4l.07-33.9l.06-20.8l.07 123.4l.07 10.3l.07 16.8l.06-88.5l.07-51.7l.07 53.9l.06-19.7l.07-58.2l.07 172.3l.07-73.1l.06 65.6l.07-179l.07 59l.07-73l.06 237l.07-49.8l.07-51.4l.06-61.8l.07-3.5l.07-24.7l.07 5.2l.06 115.3l.07-22.7l.07-2l.07-138.1l.06 11.9l.07 29.3l.07 54.7l.06-33.8l.07 3.7l.07-137.2l.07 100.2l.06 102.6l.07-23.2l.07 107.7l.07-213.5l.06 149.9l.07-84.9l.07 105.1l.06-122.8l.07 2.1l.07 31.2l.07 42.2l.06-35l.07-56.3l.07 22.7l.07 30.3l.06-13.1l.07-46.1l.07 41.9l.06-48.7l.07 86.6l.07-65.8l.07 33.3l.06-29.9l.07 29.4l.07 31.1l.07-23.1l.06-9.1" fill="none" stroke="#4c72b0" stroke-width="2.083" stroke-linejoin="round" stroke-linecap="butt"/></g>
<path d="M200 418.10H1440" stroke="#dd8452" stroke-opacity="0.5" stroke-width="2.083" fill="none"/>
</g>
<path d="M192 711H200M192 638H200M192 565H200M192 491H200M192 418H200M192 345H200M192 272H200M192 198H200M192 125H200" stroke="#424242" stroke-width="2" fill="none"/>
<rect x="200" y="96" width="1240" height="616" fill="none" stroke="#fff" stroke-width="2"/>
<path d="M200 684.5H1440M200 628.5H1440M200 572.5H1440M200 516.5H1440M200 460.5H1440M200 404.5H1440M200 348.5H1440M200 292.5H1440M200 236.5H1440M200 180.5H1440M200 124.5H1440" stroke="#fff" stroke-width="1.389" fill="none" clip-path="url(#c)"/>
<path d="M243 124V684M295 124V684M467 124V684M493 124V684M596 124V684M656 124V684M786 124V684M829 124V684M1139 124V684M1208 124V684" stroke="#1a1a1a" stroke-opacity="0.50" stroke-width="2" fill="none"/>
<polyline points="200.00,544.00 208.61,682.32 217.22,684.00 225.83,684.00 234.44,684.00 243.06,247.20 251.67,124.00 260.28,124.00 268.89,124.00 277.50,124.00 286.11,124.00 294.72,124.00 303.33,269.60 311.94,683.44 320.56,684.00 329.17,684.00 337.78,684.00 346.39,684.00 355.00,684.00 363.61,684.00 372.22,684.00 380.83,684.00 389.44,684.00 398.06,684.00 406.67,684.00 415.28,684.00 423.89,684.00 432.50,684.00 441.11,684.00 449.72,684.00 458.33,684.00 466.94,681.20 475.56,124.00 484.17,124.00 492.78,124.00 501.39,527.20 510.00,682.88 518.61,684.00 527.22,684.00 535.83,684.00 544.44,684.00 553.06,684.00 561.67,684.00 570.28,684.00 578.89,684.00 587.50,684.00 596.11,682.88 604.72,124.00 613.33,124.00 621.94,124.00 630.56,124.00 639.17,124.00 647.78,124.00 656.39,124.00 665.00,460.00 673.61,682.88 682.22,684.00 690.83,684.00 699.44,684.00 708.06,684.00 716.67,684.00 725.28,684.00 733.89,684.00 742.50,684.00 751.11,684.00 759.72,684.00 768.33,684.00 776.94,684.00 785.56,683.44 794.17,124.00 802.78,124.00 811.39,124.00 820.00,124.00 828.61,168.80 837.22,680.64 845.83,683.72 854.44,684.00 863.06,684.00 871.67,684.00 880.28,680.64 888.89,594.96 897.50,683.44 906.11,684.00 914.72,684.00 923.33,684.00 931.94,684.00 940.56,684.00 949.17,684.00 957.78,684.00 966.39,684.00 975.00,684.00 983.61,684.00 992.22,684.00 1000.83,684.00 1009.44,684.00 1018.06,684.00 1026.67,684.00 1035.28,684.00 1043.89,684.00 1052.50,684.00 1061.11,684.00 1069.72,684.00 1078.33,684.00 1086.94,684.00 1095.56,684.00 1104.17,684.00 1112.78,684.00 1121.39,684.00 1130.00,684.00 1138.61,678.96 1147.22,124.00 1155.83,124.00 1164.44,124.00 1173.06,124.00 1181.67,124.00 1190.28,124.00 1198.89,124.00 1207.50,126.80 1216.11,683.44 1224.72,684.00 1233.33,684.00 1241.94,684.00 1250.56,684.00 1259.17,684.00 1267.78,684.00 1276.39,684.00 1285.00,684.00 1293.61,684.00 1302.22,684.00 1310.83,684.00 1319.44,684.00 1328.06,683.33 1336.67,684.00 1345.28,684.00 1353.89,684.00 1362.50,684.00 1371.11,684.00 1379.72,684.00 1388.33,684.00 1396.94,684.00 1405.56,684.00 1414.17,684.00 1422.78,684.00 1431.39,684.00" fill="none" stroke="#55a868" stroke-width="2.083" stroke-linejoin="round" stroke-linecap="square" clip-path="url(#c)"/>
<path d="M1440 684H1448M1440 628H1448M1440 572H1448M1440 516H1448M1440 460H1448M1440 404H1448M1440 348H1448M1440 292H1448M1440 236H1448M1440 180H1448M1440 124H1448" stroke="#424242" stroke-width="2" fill="none"/>
<rect x="200" y="96" width="1240" height="616" fill="none" stroke="#fff" stroke-width="2"/>
<text transform="translate(226.88 124.00) scale(1.03 1)" font-size="21.03" x="0 12.86 27.91 41.87 52.06 64.44 77.31 85.19 102.31 115.17 121.6">SNR_opt=0.0</text>
<text transform="translate(558.75 124.00) scale(1 1.06)" font-size="20.73" font-style="italic" letter-spacing="-0.020">SNR</text>
<text transform="translate(601.88 127.05) scale(1 1.04)" font-size="14.38" font-style="italic" letter-spacing="-0.100">M</text>
<text transform="translate(615.12 123.62) scale(1 1.06)" font-size="20.83" font-style="italic">F</text>
<text transform="translate(627.25 123.50) scale(0.97 1.04)" font-size="20.73" x="0 18.17 26.55 40.21 47.04 60.7 74.36">=[4.22]</text>
<text transform="translate(973.00 123.50)" font-size="21.03" font-style="italic">S</text>
<text transform="translate(985.50 124.00) scale(1 1.04)" font-size="21.03" x="0 17.62 30.88 37.5">=0.0</text>
<text transform="translate(1110.00 124.00)" font-size="20.83" font-style="italic">M</text>
<text transform="translate(1128.00 127.30) scale(1 1.06)" font-size="14.68" font-style="italic" letter-spacing="0.050">c</text>
<text transform="translate(1136.12 124.00) scale(1.015 1.06)" font-size="20.83" x="0 17.36 30.54 37.07 50.12">=6.46</text>
<text transform="translate(598.00 87.50) scale(1 1.04)" font-size="16.67" x="0 8.75 15.25 25.38 31.88 40.62 45.88 56 62.5 67.75 78 88.12 97.25 107.75 113 119.5 124.12 140.38 150.62 159.38 165.88 176.12 186.62 191.88 197.75 207.88 214.75 220 226.5 236.75 245.5 252 257.25 267.75 277.88 284.38 294.5 299.75 310.38 320.88 331.38 341.88 352.5 357.75 364.25 373 377.62 388.12 398.62 408.75 413.38 427.25 437.75">stats at each timestep for test data 19971 [signal=0]</text>
<text transform="translate(785.50 759.50) scale(1.03 1.08)" font-size="16.67" x="0 9.89 14.38 30.16 40.11 45.21 51.4 59.89">Time (s)</text>
<text transform="translate(153.50 471.00) rotate(-90) scale(1 1.08)" font-size="16.67" x="0 16.5 27 31.62 38.12 48.38 58.88 69.12 79.62 84.88 93.62 100.12 107 117.12 121.75">Whitened strain</text>
<text transform="translate(1495.50 507.30) rotate(-90) scale(1 1.08)" font-size="16.77" x="0 12.88 23.12 29.62 39.88 49 55.5 60.12 70.25 80.75 86 96.5 103.33 113.45 123.95 134.08 144.58 149.2 153.83 158.45 164.95 174.83 180.45 194.83">Detection probability/MF</text>
<text transform="translate(188.12 737.00) scale(1 1.07)" font-size="15.18" x="0 9.62 14.5">0.0</text>
<text transform="translate(257.12 736.50)" font-size="15.28" x="0 9.62 14.5">0.5</text>
<text transform="translate(325.15 737.00)" font-size="15.38" x="0 9.62 14.5">1.0</text>
<text transform="translate(394.42 737.00) scale(1 0.99)" font-size="15.28" x="0 9.62 14.5">1.5</text>
<text transform="translate(463.18 737.00)" font-size="15.28" x="0 9.62 14.5">2.0</text>
<text transform="translate(532.44 737.00)" font-size="15.28" x="0 9.62 14.5">2.5</text>
<text transform="translate(600.21 737.00) scale(1 1.02)" font-size="15.78" x="0 9.75 14.62">3.0</text>
<text transform="translate(668.97 736.50) scale(1.06 1.04)" font-size="15.28" x="0 9.2 13.8">3.5</text>
<text transform="translate(739.49 737.00) scale(0.985 1.03)" font-size="15.28" x="0 9.77 14.72">4.0</text>
<text transform="translate(808.38 737.00) scale(1 0.98)" font-size="15.58" x="0 9.62 14.5">4.5</text>
<text transform="translate(876.14 737.00) scale(1 1.03)" font-size="15.28" x="0 9.62 14.5">5.0</text>
<text transform="translate(945.40 737.00) scale(1 1.01)" font-size="15.28" x="0 9.62 14.5">5.5</text>
<text transform="translate(1014.42 737.00)" font-size="15.28" x="0 9.75 14.62">6.0</text>
<text transform="translate(1083.50 736.50) scale(1.02 1.1)" font-size="15.18" x="0 9.56 14.34">6.5</text>
<text transform="translate(1152.19 737.00)" font-size="15.28" x="0 9.62 14.5">7.0</text>
<text transform="translate(1221.46 737.00)" font-size="15.28" x="0 9.62 14.5">7.5</text>
<text transform="translate(1290.10 737.00) scale(1 1.08)" font-size="15.18" x="0 9.62 14.5">8.0</text>
<text transform="translate(1359.11 737.00) scale(1 1.09)" font-size="15.18" x="0 9.62 14.5">8.5</text>
<text transform="translate(164.00 716.60) scale(1.015 1.03)" font-size="15.18" x="0 12.56">−4</text>
<text transform="translate(164.00 643.60) scale(1.015 1.02)" font-size="15.28" x="0 12.56">−3</text>
<text transform="translate(164.00 570.60) scale(1.015 1.02)" font-size="15.28" x="0 12.56">−2</text>
<text transform="translate(164.00 496.60) scale(1.015 1.03)" font-size="15.18" x="0 12.56">−1</text>
<text transform="translate(176.88 423.60) scale(1 1.07)" font-size="15.18" x="0">0</text>
<text transform="translate(178.00 350.60)" font-size="15.28" x="0">1</text>
<text transform="translate(177.00 277.60) scale(1 1.08)" font-size="15.28" x="0">2</text>
<text transform="translate(177.00 203.60) scale(1 1.08)" font-size="15.28" x="0">3</text>
<text transform="translate(178.00 130.60) scale(1 1.02)" font-size="15.18" x="0">4</text>
<text transform="translate(1453.12 689.60) scale(1 1.07)" font-size="15.18" x="0 9.62 14.5">0.0</text>
<text transform="translate(1453.12 633.60)" font-size="15.28" x="0 9.62 14.5">0.1</text>
<text transform="translate(1453.12 577.60)" font-size="15.28" x="0 9.62 14.5">0.2</text>
<text transform="translate(1453.12 521.60) scale(1 1.08)" font-size="15.28" x="0 9.62 14.5">0.3</text>
<text transform="translate(1453.12 465.60) scale(1 1.07)" font-size="15.18" x="0 9.62 14.5">0.4</text>
<text transform="translate(1453.12 409.60)" font-size="15.28" x="0 9.62 14.5">0.5</text>
<text transform="translate(1453.12 354.10) scale(1 1.08)" font-size="15.28" x="0 9.62 14.5">0.6</text>
<text transform="translate(1453.12 297.60) scale(1 1.07)" font-size="15.18" x="0 9.62 14.5">0.7</text>
<text transform="translate(1453.12 241.60) scale(1 1.07)" font-size="15.18" x="0 9.62 14.5">0.8</text>
<text transform="translate(1453.12 185.60)" font-size="15.28" x="0 9.62 14.5">0.9</text>
<text transform="translate(1453.38 129.60) scale(1 1.1)" font-size="15.18" x="0 9.62 14.5">1.0</text>
<rect x="320.5" y="648.5" width="174" height="72" rx="2.8" fill="#eaeaf2" fill-opacity="0.8" stroke="#cccccc" stroke-opacity="0.8" stroke-width="1.389"/>
<path d="M325.23 660H357.77" stroke="#4c72b0" stroke-opacity="0.5" stroke-width="2.083" fill="none"/>
<text transform="translate(369.00 666.30) scale(1 1.08)" font-size="15.38" x="0 8 12.25 22 31.62 41 45.25 58 62.88 72.5 81.88 86.12 94.12">signal+ noise</text>
<path d="M325.23 683H357.77" stroke="#dd8452" stroke-opacity="0.5" stroke-width="2.083" fill="none"/>
<text transform="translate(369.00 688.30)" font-size="15.38" x="0 8 12.25 22 31.62 41 45.25 50.12 59.5 69.12 73.38">signal only</text>
<path d="M325.23 706H357.77" stroke="#55a868" stroke-opacity="1" stroke-width="2.083" fill="none"/>
<text transform="translate(369.00 711.30)" font-size="15.38" x="0 8 12.25 22 31.62 41 45.25 50.12 58.12 64.12 73.5 79.5 83.75 91.75 97.75 102 110.5">signal statistics</text>
</svg></body></html>
